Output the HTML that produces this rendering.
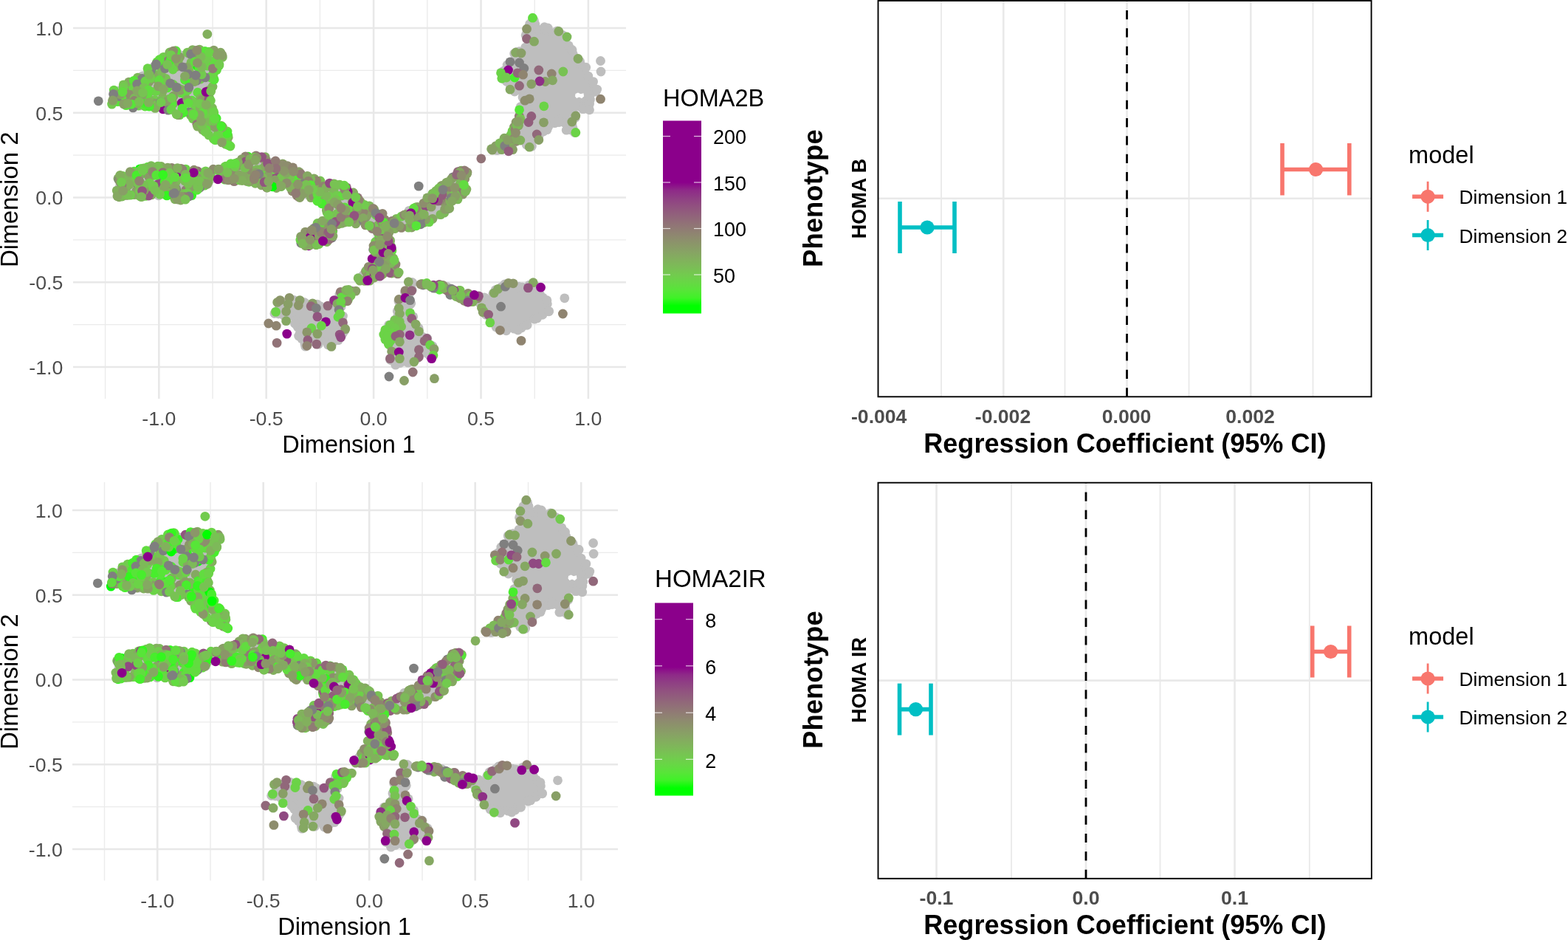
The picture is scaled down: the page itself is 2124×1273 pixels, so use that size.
<!DOCTYPE html>
<html lang="en"><head><meta charset="utf-8"><title>Figure</title>
<style>html,body{margin:0;padding:0;background:#fff}body{width:2124px;height:1273px;overflow:hidden}svg{display:block}</style>
</head><body>
<svg width="2124" height="1273" viewBox="0 0 2124 1273" font-family='"Liberation Sans", Arial, sans-serif'>
<defs>
<linearGradient id="g1" x1="0" y1="1" x2="0" y2="0"><stop offset="0" stop-color="#00FF00"/><stop offset="0.04" stop-color="#00FF00"/><stop offset="0.08" stop-color="#3FF227"/><stop offset="0.12" stop-color="#57E538"/><stop offset="0.16" stop-color="#66D844"/><stop offset="0.2" stop-color="#72CB4E"/><stop offset="0.24" stop-color="#7BBD56"/><stop offset="0.28" stop-color="#82B05D"/><stop offset="0.32" stop-color="#87A364"/><stop offset="0.36" stop-color="#8B9669"/><stop offset="0.4" stop-color="#8E896F"/><stop offset="0.44" stop-color="#907B74"/><stop offset="0.48" stop-color="#916D78"/><stop offset="0.52" stop-color="#915E7C"/><stop offset="0.56" stop-color="#914F80"/><stop offset="0.6" stop-color="#8F3E84"/><stop offset="0.64" stop-color="#8E2988"/><stop offset="0.68" stop-color="#8B008B"/><stop offset="1" stop-color="#8B008B"/></linearGradient>
<linearGradient id="g2" x1="0" y1="1" x2="0" y2="0"><stop offset="0" stop-color="#00FF00"/><stop offset="0.04" stop-color="#00FF00"/><stop offset="0.0792" stop-color="#3FF227"/><stop offset="0.1184" stop-color="#57E538"/><stop offset="0.1576" stop-color="#66D844"/><stop offset="0.1968" stop-color="#72CB4E"/><stop offset="0.2359" stop-color="#7BBD56"/><stop offset="0.2751" stop-color="#82B05D"/><stop offset="0.3143" stop-color="#87A364"/><stop offset="0.3535" stop-color="#8B9669"/><stop offset="0.3927" stop-color="#8E896F"/><stop offset="0.4319" stop-color="#907B74"/><stop offset="0.4711" stop-color="#916D78"/><stop offset="0.5102" stop-color="#915E7C"/><stop offset="0.5494" stop-color="#914F80"/><stop offset="0.5886" stop-color="#8F3E84"/><stop offset="0.6278" stop-color="#8E2988"/><stop offset="0.667" stop-color="#8B008B"/><stop offset="1" stop-color="#8B008B"/></linearGradient>
</defs>
<rect width="2124" height="1273" fill="#fff"/>
<g stroke="#EBEBEB" stroke-width="1.4" fill="none">
<line x1="142.6" y1="0" x2="142.6" y2="540"/>
<line x1="288" y1="0" x2="288" y2="540"/>
<line x1="433.4" y1="0" x2="433.4" y2="540"/>
<line x1="578.8" y1="0" x2="578.8" y2="540"/>
<line x1="724.2" y1="0" x2="724.2" y2="540"/>
<line x1="99.0" y1="95.4" x2="848" y2="95.4"/>
<line x1="99.0" y1="210.1" x2="848" y2="210.1"/>
<line x1="99.0" y1="324.9" x2="848" y2="324.9"/>
<line x1="99.0" y1="439.6" x2="848" y2="439.6"/>
</g>
<g stroke="#E8E8E8" stroke-width="2.6" fill="none">
<line x1="215.3" y1="0" x2="215.3" y2="540"/>
<line x1="360.7" y1="0" x2="360.7" y2="540"/>
<line x1="506.1" y1="0" x2="506.1" y2="540"/>
<line x1="651.5" y1="0" x2="651.5" y2="540"/>
<line x1="796.9" y1="0" x2="796.9" y2="540"/>
<line x1="99.0" y1="38" x2="848" y2="38"/>
<line x1="99.0" y1="152.75" x2="848" y2="152.75"/>
<line x1="99.0" y1="267.5" x2="848" y2="267.5"/>
<line x1="99.0" y1="382.25" x2="848" y2="382.25"/>
<line x1="99.0" y1="497" x2="848" y2="497"/>
</g>
<g>
<g fill="#BEBEBE">
<path d="M148.7 140.9L148.8 142.7L150.0 143.4L160.9 140.9L163.5 140.9L172.7 147.2L195.9 145.2L222.1 150.9L232.9 151.1L236.4 153.3L238.9 160.0L242.1 160.7L243.0 160.4L247.7 154.8L250.3 153.9L252.4 154.1L255.1 155.9L266.5 171.7L276.0 179.8L296.6 195.5L307.0 197.5L312.9 199.4L314.8 197.8L314.4 190.9L310.0 178.4L295.4 163.4L287.5 138.2L288.2 122.2L292.0 107.2L296.0 97.3L302.2 84.9L303.8 72.6L300.2 68.4L290.1 66.8L279.5 68.8L268.6 64.6L261.4 64.5L253.4 69.7L250.8 70.3L240.9 66.7L232.2 66.7L223.1 73.9L204.5 85.4L196.9 91.7L191.9 99.4L185.8 104.1L166.2 113.3L153.3 120.7Z"/>
<path d="M156.6 269.3L157.6 270.2L164.4 267.3L174.8 266.0L190.1 268.5L206.9 266.1L224.4 266.0L227.1 266.7L237.2 272.3L249.2 273.4L258.1 267.8L273.7 253.8L289.1 247.4L298.7 245.8L327.7 247.7L346.7 250.5L361.7 255.2L375.2 256.9L383.3 252.3L386.9 252.2L389.1 253.6L404.0 268.4L422.9 270.2L425.7 271.2L438.6 280.6L442.5 289.5L442.3 293.1L440.3 295.5L416.5 308.3L407.6 315.1L405.0 322.3L406.3 329.3L412.8 333.9L423.2 334.3L435.5 333.1L446.6 328.0L452.6 320.7L454.0 311.5L454.8 309.7L459.0 305.4L461.4 304.3L478.4 304.2L497.0 306.1L499.2 307.1L507.6 313.6L508.7 315.5L508.9 318.1L504.3 330.3L503.4 348.9L499.9 358.8L498.2 360.8L489.4 366.1L481.1 375.7L482.6 380.1L493.2 382.3L501.2 381.2L509.6 375.8L538.9 372.8L541.3 368.8L539.3 364.4L535.4 352.7L533.1 341.3L531.3 326.6L528.4 317.9L528.5 315.7L529.5 313.8L531.1 312.4L533.2 311.7L535.8 311.9L558.8 309.0L579.2 303.2L595.0 296.0L609.4 283.0L633.8 258.0L634.4 253.7L631.5 246.6L631.3 244.4L632.6 241.5L636.8 238.1L637.3 233.9L632.4 229.3L626.8 229.0L620.8 230.5L609.2 242.3L600.1 248.5L576.6 267.6L568.6 276.9L555.2 282.9L545.9 290.5L528.3 297.4L525.6 296.8L523.9 295.4L520.4 288.0L510.5 281.3L494.6 275.1L475.8 256.4L464.4 247.6L448.9 245.7L430.0 241.9L384.3 219.2L344.1 207.1L332.1 210.2L319.8 216.7L315.6 216.6L308.6 222.5L292.6 227.8L279.9 229.0L262.7 229.0L244.7 226.5L232.0 225.7L212.3 223.3L198.1 224.0L181.6 229.3L159.7 237.6L155.8 252.9Z"/>
<path d="M372.3 426.4L373.3 427.3L382.5 426.9L397.7 434.7L398.9 437.0L401.0 449.3L407.2 459.8L410.1 468.2L416.1 469.8L427.5 467.5L437.4 464.6L439.6 465.0L447.7 469.3L451.6 464.7L458.4 460.5L465.1 454.6L467.6 446.1L464.5 427.7L465.3 415.6L466.7 413.1L475.0 404.8L483.0 394.9L483.1 394.0L478.9 390.7L466.7 390.0L458.4 395.3L457.4 403.7L456.1 406.2L447.1 413.1L444.7 414.1L432.6 412.9L422.6 410.3L405.3 409.2L392.8 404.2L381.7 407.2L373.7 414.6L372.0 423.0Z"/>
<path d="M520.8 447.6L521.8 455.8L528.4 467.6L527.5 477.0L528.5 485.9L526.4 492.4L527.9 494.1L545.0 494.2L554.6 490.9L563.3 486.0L576.5 481.5L578.8 481.3L586.6 482.7L587.5 482.3L588.8 480.0L588.0 471.9L581.3 460.4L570.1 449.0L563.5 438.0L558.9 426.4L556.5 402.9L559.4 389.2L561.1 387.1L563.6 386.0L577.1 388.8L589.4 393.6L602.2 393.9L604.8 395.5L609.3 401.6L629.1 408.5L634.5 412.5L639.8 411.3L642.9 411.9L649.8 419.9L656.5 424.7L662.0 433.2L667.3 439.8L674.0 444.2L679.1 449.0L686.2 448.2L693.8 449.7L709.3 444.1L719.7 436.9L740.7 424.0L744.1 420.7L744.1 414.9L742.0 407.5L736.3 398.3L725.4 383.6L722.7 382.4L712.3 387.1L701.2 388.3L698.8 387.8L690.3 382.8L683.1 384.5L659.2 401.6L656.2 402.7L654.0 402.4L646.9 398.8L612.4 389.7L599.6 385.2L587.8 382.8L554.1 381.7L550.2 384.6L547.8 396.9L539.4 407.2L539.3 416.8L536.6 429.4L527.3 439.0Z"/>
<path d="M663.0 204.3L664.1 206.6L671.0 207.1L693.2 205.4L702.4 194.9L705.8 193.4L708.9 194.1L717.7 200.5L719.5 200.1L725.3 188.9L733.1 181.6L752.8 166.9L755.2 165.8L758.2 166.2L769.9 172.7L775.2 179.6L778.6 180.5L779.5 179.0L776.6 174.4L776.3 171.6L781.8 150.4L783.2 148.8L785.6 147.8L795.0 148.7L798.5 147.0L799.7 138.3L807.7 127.8L809.0 120.2L807.2 112.7L801.7 107.3L795.9 97.1L792.5 88.2L785.6 83.5L779.9 77.0L777.1 72.8L774.4 61.6L770.0 52.8L764.9 47.6L755.7 42.0L749.2 41.9L740.7 36.8L728.8 36.1L726.2 35.3L723.9 32.4L723.0 26.3L722.4 25.6L721.4 25.8L720.1 27.6L712.1 41.4L712.1 49.0L715.7 57.9L714.9 61.4L708.2 66.8L696.8 70.4L687.5 87.6L681.2 95.4L677.3 101.4L678.1 108.4L684.8 110.4L687.0 111.8L688.2 114.1L689.5 120.1L693.2 123.0L704.1 125.2L706.0 126.2L707.3 127.8L707.9 129.9L707.7 132.0L703.5 138.9L704.4 151.4L692.2 175.6L683.8 183.9L674.1 191.2L665.0 200.3Z"/>
<circle cx="189.6" cy="143.2" r="6.4"/>
<circle cx="193.3" cy="102.8" r="6.4"/>
<circle cx="214.9" cy="264.8" r="6.4"/>
<circle cx="281.4" cy="249.3" r="6.4"/>
<circle cx="554.1" cy="285.4" r="6.4"/>
<circle cx="377.4" cy="425.0" r="6.4"/>
<circle cx="390.1" cy="428.6" r="6.4"/>
<circle cx="400.9" cy="434.1" r="6.4"/>
<circle cx="403.2" cy="442.8" r="6.4"/>
<circle cx="406.5" cy="450.6" r="6.4"/>
<circle cx="408.8" cy="458.7" r="6.4"/>
<circle cx="412.9" cy="465.8" r="6.4"/>
<circle cx="416.0" cy="466.3" r="6.4"/>
<circle cx="429.0" cy="463.9" r="6.4"/>
<circle cx="434.0" cy="461.4" r="6.4"/>
<circle cx="447.8" cy="464.5" r="6.4"/>
<circle cx="451.3" cy="463.1" r="6.4"/>
<circle cx="456.9" cy="456.6" r="6.4"/>
<circle cx="464.3" cy="451.8" r="6.4"/>
<circle cx="466.3" cy="444.1" r="6.4"/>
<circle cx="463.1" cy="438.0" r="6.4"/>
<circle cx="461.3" cy="426.5" r="6.4"/>
<circle cx="462.1" cy="415.5" r="6.4"/>
<circle cx="459.8" cy="399.1" r="6.4"/>
<circle cx="450.1" cy="412.7" r="6.4"/>
<circle cx="437.3" cy="417.0" r="6.4"/>
<circle cx="433.7" cy="414.6" r="6.4"/>
<circle cx="425.8" cy="414.9" r="6.4"/>
<circle cx="413.0" cy="412.8" r="6.4"/>
<circle cx="402.1" cy="412.9" r="6.4"/>
<circle cx="392.6" cy="408.9" r="6.4"/>
<circle cx="389.2" cy="408.7" r="6.4"/>
<circle cx="380.5" cy="412.3" r="6.4"/>
<circle cx="378.5" cy="415.2" r="6.4"/>
<circle cx="373.1" cy="422.4" r="6.4"/>
<circle cx="384.7" cy="427.5" r="6.4"/>
<circle cx="399.5" cy="438.3" r="6.4"/>
<circle cx="404.6" cy="455.0" r="6.4"/>
<circle cx="413.7" cy="469.2" r="6.4"/>
<circle cx="431.3" cy="466.2" r="6.4"/>
<circle cx="444.3" cy="467.0" r="6.4"/>
<circle cx="458.3" cy="460.7" r="6.4"/>
<circle cx="466.9" cy="447.6" r="6.4"/>
<circle cx="464.5" cy="428.1" r="6.4"/>
<circle cx="448.9" cy="412.9" r="6.4"/>
<circle cx="429.6" cy="412.1" r="6.4"/>
<circle cx="412.6" cy="409.7" r="6.4"/>
<circle cx="397.8" cy="406.3" r="6.4"/>
<circle cx="378.8" cy="409.5" r="6.4"/>
<circle cx="371.9" cy="424.5" r="6.4"/>
<circle cx="522.8" cy="454.7" r="6.4"/>
<circle cx="530.7" cy="466.7" r="6.4"/>
<circle cx="530.8" cy="471.0" r="6.4"/>
<circle cx="532.1" cy="483.8" r="6.4"/>
<circle cx="531.7" cy="484.6" r="6.4"/>
<circle cx="534.5" cy="490.4" r="6.4"/>
<circle cx="542.0" cy="491.5" r="6.4"/>
<circle cx="547.8" cy="489.2" r="6.4"/>
<circle cx="556.0" cy="486.8" r="6.4"/>
<circle cx="563.6" cy="481.8" r="6.4"/>
<circle cx="578.1" cy="478.3" r="6.4"/>
<circle cx="583.8" cy="481.0" r="6.4"/>
<circle cx="584.7" cy="476.9" r="6.4"/>
<circle cx="582.6" cy="466.8" r="6.4"/>
<circle cx="578.1" cy="461.9" r="6.4"/>
<circle cx="572.2" cy="456.1" r="6.4"/>
<circle cx="567.5" cy="446.8" r="6.4"/>
<circle cx="561.8" cy="440.8" r="6.4"/>
<circle cx="557.8" cy="431.3" r="6.4"/>
<circle cx="555.6" cy="424.6" r="6.4"/>
<circle cx="555.5" cy="412.4" r="6.4"/>
<circle cx="553.6" cy="402.9" r="6.4"/>
<circle cx="555.1" cy="396.6" r="6.4"/>
<circle cx="555.7" cy="386.4" r="6.4"/>
<circle cx="660.0" cy="426.0" r="6.4"/>
<circle cx="665.9" cy="435.7" r="6.4"/>
<circle cx="671.2" cy="440.0" r="6.4"/>
<circle cx="680.0" cy="443.7" r="6.4"/>
<circle cx="687.1" cy="445.1" r="6.4"/>
<circle cx="696.5" cy="445.2" r="6.4"/>
<circle cx="706.3" cy="444.0" r="6.4"/>
<circle cx="710.3" cy="440.4" r="6.4"/>
<circle cx="724.3" cy="431.4" r="6.4"/>
<circle cx="724.0" cy="432.2" r="6.4"/>
<circle cx="734.9" cy="426.3" r="6.4"/>
<circle cx="740.9" cy="421.5" r="6.4"/>
<circle cx="741.3" cy="411.6" r="6.4"/>
<circle cx="735.4" cy="403.1" r="6.4"/>
<circle cx="731.2" cy="398.4" r="6.4"/>
<circle cx="725.8" cy="387.7" r="6.4"/>
<circle cx="720.9" cy="385.7" r="6.4"/>
<circle cx="707.6" cy="390.7" r="6.4"/>
<circle cx="707.3" cy="388.8" r="6.4"/>
<circle cx="699.2" cy="390.7" r="6.4"/>
<circle cx="686.4" cy="386.7" r="6.4"/>
<circle cx="679.4" cy="388.6" r="6.4"/>
<circle cx="673.1" cy="396.2" r="6.4"/>
<circle cx="667.8" cy="397.7" r="6.4"/>
<circle cx="657.9" cy="406.1" r="6.4"/>
<circle cx="605.4" cy="388.3" r="6.4"/>
<circle cx="558.8" cy="383.1" r="6.4"/>
<circle cx="554.4" cy="383.3" r="6.4"/>
<circle cx="552.6" cy="393.8" r="6.4"/>
<circle cx="547.2" cy="404.8" r="6.4"/>
<circle cx="544.1" cy="407.7" r="6.4"/>
<circle cx="542.4" cy="411.2" r="6.4"/>
<circle cx="538.5" cy="429.1" r="6.4"/>
<circle cx="534.6" cy="433.3" r="6.4"/>
<circle cx="527.5" cy="441.1" r="6.4"/>
<circle cx="522.0" cy="448.4" r="6.4"/>
<circle cx="521.2" cy="450.6" r="6.4"/>
<circle cx="528.8" cy="467.8" r="6.4"/>
<circle cx="528.6" cy="487.2" r="6.4"/>
<circle cx="535.8" cy="494.2" r="6.4"/>
<circle cx="552.9" cy="491.2" r="6.4"/>
<circle cx="565.5" cy="485.0" r="6.4"/>
<circle cx="582.0" cy="481.8" r="6.4"/>
<circle cx="585.9" cy="468.6" r="6.4"/>
<circle cx="578.8" cy="458.2" r="6.4"/>
<circle cx="566.9" cy="444.0" r="6.4"/>
<circle cx="559.7" cy="428.9" r="6.4"/>
<circle cx="556.8" cy="410.7" r="6.4"/>
<circle cx="558.4" cy="392.8" r="6.4"/>
<circle cx="658.3" cy="426.3" r="6.4"/>
<circle cx="672.0" cy="442.9" r="6.4"/>
<circle cx="685.8" cy="447.8" r="6.4"/>
<circle cx="701.6" cy="447.0" r="6.4"/>
<circle cx="714.1" cy="440.3" r="6.4"/>
<circle cx="727.6" cy="430.9" r="6.4"/>
<circle cx="743.5" cy="421.3" r="6.4"/>
<circle cx="740.9" cy="406.7" r="6.4"/>
<circle cx="729.3" cy="389.7" r="6.4"/>
<circle cx="716.9" cy="386.1" r="6.4"/>
<circle cx="702.5" cy="388.1" r="6.4"/>
<circle cx="683.7" cy="385.0" r="6.4"/>
<circle cx="671.1" cy="392.7" r="6.4"/>
<circle cx="656.1" cy="402.8" r="6.4"/>
<circle cx="558.3" cy="382.5" r="6.4"/>
<circle cx="548.4" cy="395.8" r="6.4"/>
<circle cx="539.9" cy="408.0" r="6.4"/>
<circle cx="538.3" cy="421.4" r="6.4"/>
<circle cx="526.7" cy="440.1" r="6.4"/>
<circle cx="673.3" cy="203.7" r="6.4"/>
<circle cx="713.1" cy="195.9" r="6.4"/>
<circle cx="719.5" cy="198.2" r="6.4"/>
<circle cx="721.3" cy="189.9" r="6.4"/>
<circle cx="726.6" cy="184.0" r="6.4"/>
<circle cx="736.2" cy="178.0" r="6.4"/>
<circle cx="742.7" cy="171.4" r="6.4"/>
<circle cx="751.4" cy="166.7" r="6.4"/>
<circle cx="756.6" cy="162.2" r="6.4"/>
<circle cx="764.7" cy="166.3" r="6.4"/>
<circle cx="772.2" cy="169.7" r="6.4"/>
<circle cx="778.3" cy="179.5" r="6.4"/>
<circle cx="774.9" cy="168.8" r="6.4"/>
<circle cx="774.7" cy="162.8" r="6.4"/>
<circle cx="778.6" cy="155.1" r="6.4"/>
<circle cx="787.1" cy="144.9" r="6.4"/>
<circle cx="795.9" cy="145.8" r="6.4"/>
<circle cx="797.6" cy="140.5" r="6.4"/>
<circle cx="799.5" cy="135.0" r="6.4"/>
<circle cx="807.2" cy="124.1" r="6.4"/>
<circle cx="805.1" cy="120.6" r="6.4"/>
<circle cx="802.2" cy="112.8" r="6.4"/>
<circle cx="796.8" cy="103.1" r="6.4"/>
<circle cx="792.0" cy="93.9" r="6.4"/>
<circle cx="786.0" cy="86.1" r="6.4"/>
<circle cx="778.5" cy="79.8" r="6.4"/>
<circle cx="776.5" cy="73.9" r="6.4"/>
<circle cx="774.1" cy="67.5" r="6.4"/>
<circle cx="770.3" cy="61.7" r="6.4"/>
<circle cx="761.8" cy="47.3" r="6.4"/>
<circle cx="756.8" cy="43.9" r="6.4"/>
<circle cx="749.8" cy="44.6" r="6.4"/>
<circle cx="739.0" cy="40.5" r="6.4"/>
<circle cx="729.7" cy="40.2" r="6.4"/>
<circle cx="721.4" cy="34.5" r="6.4"/>
<circle cx="720.4" cy="29.4" r="6.4"/>
<circle cx="715.3" cy="38.3" r="6.4"/>
<circle cx="713.9" cy="44.6" r="6.4"/>
<circle cx="714.2" cy="47.8" r="6.4"/>
<circle cx="716.9" cy="60.1" r="6.4"/>
<circle cx="712.5" cy="65.9" r="6.4"/>
<circle cx="703.5" cy="69.7" r="6.4"/>
<circle cx="696.6" cy="72.6" r="6.4"/>
<circle cx="693.4" cy="84.4" r="6.4"/>
<circle cx="688.9" cy="88.9" r="6.4"/>
<circle cx="682.9" cy="95.7" r="6.4"/>
<circle cx="680.6" cy="105.5" r="6.4"/>
<circle cx="682.7" cy="107.2" r="6.4"/>
<circle cx="691.2" cy="115.6" r="6.4"/>
<circle cx="697.1" cy="122.4" r="6.4"/>
<circle cx="703.0" cy="121.6" r="6.4"/>
<circle cx="710.2" cy="130.7" r="6.4"/>
<circle cx="709.2" cy="133.3" r="6.4"/>
<circle cx="705.2" cy="144.6" r="6.4"/>
<circle cx="720.4" cy="198.1" r="6.4"/>
<circle cx="730.0" cy="184.2" r="6.4"/>
<circle cx="741.1" cy="175.6" r="6.4"/>
<circle cx="757.2" cy="165.5" r="6.4"/>
<circle cx="773.7" cy="175.9" r="6.4"/>
<circle cx="776.2" cy="173.9" r="6.4"/>
<circle cx="779.2" cy="159.5" r="6.4"/>
<circle cx="789.8" cy="147.6" r="6.4"/>
<circle cx="798.6" cy="140.6" r="6.4"/>
<circle cx="808.7" cy="121.1" r="6.4"/>
<circle cx="803.6" cy="110.6" r="6.4"/>
<circle cx="793.7" cy="91.2" r="6.4"/>
<circle cx="785.4" cy="83.1" r="6.4"/>
<circle cx="775.0" cy="67.5" r="6.4"/>
<circle cx="766.4" cy="49.8" r="6.4"/>
<circle cx="754.9" cy="41.8" r="6.4"/>
<circle cx="737.5" cy="36.7" r="6.4"/>
<circle cx="723.3" cy="27.5" r="6.4"/>
<circle cx="717.4" cy="32.7" r="6.4"/>
<circle cx="712.1" cy="47.7" r="6.4"/>
<circle cx="711.8" cy="64.1" r="6.4"/>
<circle cx="699.7" cy="70.3" r="6.4"/>
<circle cx="687.1" cy="88.0" r="6.4"/>
<circle cx="679.3" cy="97.9" r="6.4"/>
<circle cx="686.1" cy="110.1" r="6.4"/>
<circle cx="697.1" cy="124.0" r="6.4"/>
<circle cx="708.0" cy="131.6" r="6.4"/>
<circle cx="704.4" cy="149.2" r="6.4"/>
<circle cx="813.5" cy="82.5" r="6.4"/>
<circle cx="814.0" cy="97.0" r="6.4"/>
<circle cx="798.5" cy="148.8" r="6.4"/>
<circle cx="767.2" cy="176.2" r="6.4"/>
<circle cx="724.8" cy="32.5" r="6.4"/>
<circle cx="742.2" cy="38.0" r="6.4"/>
<circle cx="764.8" cy="403.8" r="6.4"/>
<circle cx="743.5" cy="421.8" r="6.4"/>
</g>
<path fill="#fff" d="M779.5 127.0L783.0 125.6L786.5 127.2L790.5 126.2L791.0 130.5L788.0 133.2L784.5 131.6L781.0 133.0L779.0 130.5Z"/>
<circle cx="395.8" cy="258.8" r="6.4" fill="#8D8D6D"/>
<circle cx="626.3" cy="237.0" r="6.4" fill="#8B9669"/>
<circle cx="406.5" cy="234.3" r="6.4" fill="#917277"/>
<circle cx="613.6" cy="239.9" r="6.4" fill="#7F7F7F"/>
<circle cx="189.6" cy="228.8" r="6.4" fill="#00FF00"/>
<circle cx="228.5" cy="251.4" r="6.4" fill="#85A862"/>
<circle cx="201.0" cy="237.1" r="6.4" fill="#889F66"/>
<circle cx="463.8" cy="410.2" r="6.4" fill="#6BD347"/>
<circle cx="498.2" cy="289.6" r="6.4" fill="#889F66"/>
<circle cx="699.0" cy="171.3" r="6.4" fill="#8B008B"/>
<circle cx="345.8" cy="248.3" r="6.4" fill="#82B05D"/>
<circle cx="219.3" cy="260.4" r="6.4" fill="#8D8D6D"/>
<circle cx="477.1" cy="273.6" r="6.4" fill="#7DB959"/>
<circle cx="573.1" cy="386.0" r="6.4" fill="#7F7F7F"/>
<circle cx="195.2" cy="263.1" r="6.4" fill="#62DC40"/>
<circle cx="205.4" cy="102.1" r="6.4" fill="#7DB959"/>
<circle cx="404.9" cy="232.7" r="6.4" fill="#889F66"/>
<circle cx="217.6" cy="226.5" r="6.4" fill="#8B9669"/>
<circle cx="626.9" cy="263.1" r="6.4" fill="#8B9669"/>
<circle cx="209.7" cy="135.5" r="6.4" fill="#72CB4E"/>
<circle cx="694.5" cy="179.5" r="6.4" fill="#917277"/>
<circle cx="294.2" cy="229.8" r="6.4" fill="#72CB4E"/>
<circle cx="528.9" cy="352.2" r="6.4" fill="#8B008B"/>
<circle cx="585.9" cy="296.4" r="6.4" fill="#85A862"/>
<circle cx="250.3" cy="245.0" r="6.4" fill="#7DB959"/>
<circle cx="175.1" cy="236.4" r="6.4" fill="#72CB4E"/>
<circle cx="484.5" cy="267.7" r="6.4" fill="#917277"/>
<circle cx="283.1" cy="70.1" r="6.4" fill="#6BD347"/>
<circle cx="277.3" cy="247.9" r="6.4" fill="#82B05D"/>
<circle cx="524.0" cy="307.5" r="6.4" fill="#91547F"/>
<circle cx="285.2" cy="238.2" r="6.4" fill="#7DB959"/>
<circle cx="216.2" cy="117.0" r="6.4" fill="#72CB4E"/>
<circle cx="176.3" cy="243.9" r="6.4" fill="#889F66"/>
<circle cx="276.4" cy="144.1" r="6.4" fill="#7F7F7F"/>
<circle cx="256.3" cy="112.3" r="6.4" fill="#8B008B"/>
<circle cx="418.2" cy="332.8" r="6.4" fill="#8B008B"/>
<circle cx="533.8" cy="309.1" r="6.4" fill="#91547F"/>
<circle cx="536.9" cy="296.4" r="6.4" fill="#7DB959"/>
<circle cx="297.6" cy="75.3" r="6.4" fill="#78C253"/>
<circle cx="508.6" cy="327.5" r="6.4" fill="#72CB4E"/>
<circle cx="234.7" cy="140.3" r="6.4" fill="#85A862"/>
<circle cx="516.2" cy="307.4" r="6.4" fill="#85A862"/>
<circle cx="590.5" cy="390.1" r="6.4" fill="#8F8470"/>
<circle cx="351.4" cy="233.3" r="6.4" fill="#889F66"/>
<circle cx="690.1" cy="194.6" r="6.4" fill="#82B05D"/>
<circle cx="212.6" cy="86.2" r="6.4" fill="#78C253"/>
<circle cx="173.0" cy="250.0" r="6.4" fill="#82B05D"/>
<circle cx="282.9" cy="158.4" r="6.4" fill="#72CB4E"/>
<circle cx="402.1" cy="264.6" r="6.4" fill="#8F8470"/>
<circle cx="232.6" cy="227.3" r="6.4" fill="#8F8470"/>
<circle cx="404.9" cy="266.7" r="6.4" fill="#91687A"/>
<circle cx="624.8" cy="231.2" r="6.4" fill="#7DB959"/>
<circle cx="312.7" cy="233.6" r="6.4" fill="#7DB959"/>
<circle cx="535.1" cy="309.5" r="6.4" fill="#82B05D"/>
<circle cx="563.0" cy="281.0" r="6.4" fill="#62DC40"/>
<circle cx="600.2" cy="386.5" r="6.4" fill="#8D8D6D"/>
<circle cx="197.1" cy="265.4" r="6.4" fill="#6BD347"/>
<circle cx="189.0" cy="265.3" r="6.4" fill="#6BD347"/>
<circle cx="190.8" cy="231.6" r="6.4" fill="#78C253"/>
<circle cx="263.6" cy="256.7" r="6.4" fill="#85A862"/>
<circle cx="203.6" cy="123.7" r="6.4" fill="#78C253"/>
<circle cx="565.4" cy="280.3" r="6.4" fill="#85A862"/>
<circle cx="531.3" cy="363.1" r="6.4" fill="#917277"/>
<circle cx="472.0" cy="260.6" r="6.4" fill="#91547F"/>
<circle cx="472.3" cy="398.7" r="6.4" fill="#78C253"/>
<circle cx="336.0" cy="212.2" r="6.4" fill="#34F61F"/>
<circle cx="211.0" cy="106.7" r="6.4" fill="#889F66"/>
<circle cx="425.2" cy="310.4" r="6.4" fill="#8B008B"/>
<circle cx="181.7" cy="232.2" r="6.4" fill="#57E538"/>
<circle cx="274.4" cy="175.7" r="6.4" fill="#85A862"/>
<circle cx="593.9" cy="386.2" r="6.4" fill="#889F66"/>
<circle cx="291.8" cy="161.1" r="6.4" fill="#72CB4E"/>
<circle cx="218.4" cy="225.5" r="6.4" fill="#82B05D"/>
<circle cx="218.8" cy="85.4" r="6.4" fill="#7DB959"/>
<circle cx="600.8" cy="391.3" r="6.4" fill="#7DB959"/>
<circle cx="323.2" cy="224.3" r="6.4" fill="#8B9669"/>
<circle cx="283.9" cy="133.6" r="6.4" fill="#6BD347"/>
<circle cx="509.7" cy="344.7" r="6.4" fill="#85A862"/>
<circle cx="480.6" cy="267.0" r="6.4" fill="#907B74"/>
<circle cx="382.1" cy="247.6" r="6.4" fill="#915E7C"/>
<circle cx="627.8" cy="234.9" r="6.4" fill="#889F66"/>
<circle cx="360.2" cy="238.8" r="6.4" fill="#34F61F"/>
<circle cx="484.5" cy="272.7" r="6.4" fill="#889F66"/>
<circle cx="334.4" cy="245.5" r="6.4" fill="#889F66"/>
<circle cx="273.8" cy="90.2" r="6.4" fill="#8D8D6D"/>
<circle cx="266.4" cy="83.4" r="6.4" fill="#8B008B"/>
<circle cx="200.5" cy="259.6" r="6.4" fill="#34F61F"/>
<circle cx="275.4" cy="76.1" r="6.4" fill="#85A862"/>
<circle cx="208.8" cy="140.0" r="6.4" fill="#889F66"/>
<circle cx="688.3" cy="197.1" r="6.4" fill="#8B9669"/>
<circle cx="225.3" cy="252.8" r="6.4" fill="#7DB959"/>
<circle cx="347.2" cy="247.4" r="6.4" fill="#7DB959"/>
<circle cx="317.2" cy="245.7" r="6.4" fill="#907B74"/>
<circle cx="226.6" cy="118.9" r="6.4" fill="#57E538"/>
<circle cx="450.7" cy="271.7" r="6.4" fill="#7F7F7F"/>
<circle cx="471.6" cy="405.6" r="6.4" fill="#72CB4E"/>
<circle cx="521.1" cy="297.3" r="6.4" fill="#8F8470"/>
<circle cx="311.1" cy="233.7" r="6.4" fill="#915E7C"/>
<circle cx="530.6" cy="370.0" r="6.4" fill="#82B05D"/>
<circle cx="602.4" cy="389.9" r="6.4" fill="#8D8D6D"/>
<circle cx="468.4" cy="401.8" r="6.4" fill="#6BD347"/>
<circle cx="442.3" cy="284.8" r="6.4" fill="#889F66"/>
<circle cx="543.5" cy="293.2" r="6.4" fill="#72CB4E"/>
<circle cx="187.2" cy="252.0" r="6.4" fill="#8F3E84"/>
<circle cx="376.9" cy="227.6" r="6.4" fill="#907B74"/>
<circle cx="251.9" cy="257.2" r="6.4" fill="#907B74"/>
<circle cx="432.6" cy="257.7" r="6.4" fill="#85A862"/>
<circle cx="522.8" cy="334.4" r="6.4" fill="#82B05D"/>
<circle cx="267.8" cy="232.0" r="6.4" fill="#917277"/>
<circle cx="491.6" cy="284.9" r="6.4" fill="#889F66"/>
<circle cx="236.4" cy="91.1" r="6.4" fill="#6BD347"/>
<circle cx="406.1" cy="267.5" r="6.4" fill="#889F66"/>
<circle cx="269.6" cy="76.8" r="6.4" fill="#8B9669"/>
<circle cx="243.4" cy="155.6" r="6.4" fill="#6BD347"/>
<circle cx="281.0" cy="153.0" r="6.4" fill="#7DB959"/>
<circle cx="198.3" cy="113.1" r="6.4" fill="#6BD347"/>
<circle cx="265.5" cy="240.3" r="6.4" fill="#8F8470"/>
<circle cx="502.5" cy="376.6" r="6.4" fill="#85A862"/>
<circle cx="271.3" cy="107.2" r="6.4" fill="#72CB4E"/>
<circle cx="210.1" cy="146.4" r="6.4" fill="#7DB959"/>
<circle cx="298.8" cy="71.2" r="6.4" fill="#85A862"/>
<circle cx="207.7" cy="237.3" r="6.4" fill="#48ED2D"/>
<circle cx="335.8" cy="217.6" r="6.4" fill="#82B05D"/>
<circle cx="223.9" cy="107.9" r="6.4" fill="#7F7F7F"/>
<circle cx="629.6" cy="242.2" r="6.4" fill="#8F8470"/>
<circle cx="482.0" cy="302.9" r="6.4" fill="#85A862"/>
<circle cx="305.2" cy="186.5" r="6.4" fill="#82B05D"/>
<circle cx="685.2" cy="196.8" r="6.4" fill="#6BD347"/>
<circle cx="280.5" cy="157.4" r="6.4" fill="#78C253"/>
<circle cx="366.4" cy="234.1" r="6.4" fill="#8D8D6D"/>
<circle cx="622.1" cy="253.0" r="6.4" fill="#915E7C"/>
<circle cx="285.8" cy="103.8" r="6.4" fill="#57E538"/>
<circle cx="421.0" cy="316.9" r="6.4" fill="#917277"/>
<circle cx="445.7" cy="289.7" r="6.4" fill="#85A862"/>
<circle cx="346.8" cy="210.8" r="6.4" fill="#907B74"/>
<circle cx="530.9" cy="339.4" r="6.4" fill="#62DC40"/>
<circle cx="247.8" cy="237.5" r="6.4" fill="#8B9669"/>
<circle cx="411.4" cy="247.0" r="6.4" fill="#85A862"/>
<circle cx="518.8" cy="370.7" r="6.4" fill="#889F66"/>
<circle cx="233.9" cy="264.8" r="6.4" fill="#82B05D"/>
<circle cx="620.9" cy="402.5" r="6.4" fill="#85A862"/>
<circle cx="355.2" cy="214.3" r="6.4" fill="#8F8470"/>
<circle cx="250.5" cy="108.3" r="6.4" fill="#57E538"/>
<circle cx="226.7" cy="76.7" r="6.4" fill="#62DC40"/>
<circle cx="288.5" cy="103.2" r="6.4" fill="#889F66"/>
<circle cx="470.2" cy="284.1" r="6.4" fill="#6BD347"/>
<circle cx="388.0" cy="227.7" r="6.4" fill="#8F8470"/>
<circle cx="596.8" cy="290.6" r="6.4" fill="#7DB959"/>
<circle cx="253.6" cy="236.5" r="6.4" fill="#48ED2D"/>
<circle cx="449.5" cy="291.8" r="6.4" fill="#57E538"/>
<circle cx="535.5" cy="358.2" r="6.4" fill="#72CB4E"/>
<circle cx="304.6" cy="243.2" r="6.4" fill="#48ED2D"/>
<circle cx="627.6" cy="404.7" r="6.4" fill="#72CB4E"/>
<circle cx="340.2" cy="218.0" r="6.4" fill="#82B05D"/>
<circle cx="594.6" cy="269.6" r="6.4" fill="#85A862"/>
<circle cx="269.5" cy="142.4" r="6.4" fill="#6BD347"/>
<circle cx="229.6" cy="263.2" r="6.4" fill="#72CB4E"/>
<circle cx="426.5" cy="258.5" r="6.4" fill="#8D8D6D"/>
<circle cx="282.2" cy="155.7" r="6.4" fill="#72CB4E"/>
<circle cx="607.3" cy="259.7" r="6.4" fill="#85A862"/>
<circle cx="468.1" cy="297.5" r="6.4" fill="#72CB4E"/>
<circle cx="647.3" cy="404.0" r="6.4" fill="#8F8470"/>
<circle cx="515.0" cy="307.4" r="6.4" fill="#85A862"/>
<circle cx="186.5" cy="105.1" r="6.4" fill="#7DB959"/>
<circle cx="176.5" cy="129.5" r="6.4" fill="#7DB959"/>
<circle cx="237.1" cy="117.7" r="6.4" fill="#889F66"/>
<circle cx="246.3" cy="121.5" r="6.4" fill="#7DB959"/>
<circle cx="429.7" cy="251.4" r="6.4" fill="#7F7F7F"/>
<circle cx="374.8" cy="246.0" r="6.4" fill="#889F66"/>
<circle cx="207.2" cy="257.9" r="6.4" fill="#6BD347"/>
<circle cx="234.6" cy="114.5" r="6.4" fill="#72CB4E"/>
<circle cx="632.9" cy="233.3" r="6.4" fill="#8F8470"/>
<circle cx="276.4" cy="236.2" r="6.4" fill="#917277"/>
<circle cx="510.9" cy="369.2" r="6.4" fill="#8B9669"/>
<circle cx="449.8" cy="321.9" r="6.4" fill="#7F7F7F"/>
<circle cx="306.0" cy="191.5" r="6.4" fill="#82B05D"/>
<circle cx="221.4" cy="77.3" r="6.4" fill="#72CB4E"/>
<circle cx="213.7" cy="101.8" r="6.4" fill="#85A862"/>
<circle cx="395.7" cy="244.8" r="6.4" fill="#82B05D"/>
<circle cx="432.1" cy="330.5" r="6.4" fill="#72CB4E"/>
<circle cx="173.3" cy="241.5" r="6.4" fill="#91547F"/>
<circle cx="190.2" cy="135.1" r="6.4" fill="#78C253"/>
<circle cx="232.8" cy="140.8" r="6.4" fill="#57E538"/>
<circle cx="455.4" cy="300.1" r="6.4" fill="#8B9669"/>
<circle cx="514.7" cy="326.9" r="6.4" fill="#78C253"/>
<circle cx="354.4" cy="234.0" r="6.4" fill="#7DB959"/>
<circle cx="443.1" cy="284.5" r="6.4" fill="#7DB959"/>
<circle cx="213.8" cy="225.1" r="6.4" fill="#78C253"/>
<circle cx="557.7" cy="308.0" r="6.4" fill="#889F66"/>
<circle cx="197.4" cy="120.2" r="6.4" fill="#57E538"/>
<circle cx="271.6" cy="150.2" r="6.4" fill="#85A862"/>
<circle cx="178.9" cy="238.2" r="6.4" fill="#82B05D"/>
<circle cx="255.9" cy="92.2" r="6.4" fill="#6BD347"/>
<circle cx="220.3" cy="132.6" r="6.4" fill="#78C253"/>
<circle cx="241.5" cy="232.8" r="6.4" fill="#8B9669"/>
<circle cx="382.9" cy="221.8" r="6.4" fill="#85A862"/>
<circle cx="623.4" cy="231.9" r="6.4" fill="#8D8D6D"/>
<circle cx="585.2" cy="274.6" r="6.4" fill="#85A862"/>
<circle cx="597.6" cy="252.0" r="6.4" fill="#85A862"/>
<circle cx="289.2" cy="187.9" r="6.4" fill="#72CB4E"/>
<circle cx="419.8" cy="331.9" r="6.4" fill="#82B05D"/>
<circle cx="337.3" cy="246.3" r="6.4" fill="#72CB4E"/>
<circle cx="692.3" cy="182.3" r="6.4" fill="#72CB4E"/>
<circle cx="289.2" cy="165.8" r="6.4" fill="#72CB4E"/>
<circle cx="359.2" cy="212.6" r="6.4" fill="#82B05D"/>
<circle cx="570.7" cy="283.8" r="6.4" fill="#82B05D"/>
<circle cx="438.8" cy="305.4" r="6.4" fill="#8D8D6D"/>
<circle cx="359.3" cy="251.4" r="6.4" fill="#85A862"/>
<circle cx="593.2" cy="262.8" r="6.4" fill="#7F7F7F"/>
<circle cx="524.4" cy="336.6" r="6.4" fill="#7F7F7F"/>
<circle cx="665.6" cy="201.7" r="6.4" fill="#85A862"/>
<circle cx="191.7" cy="263.3" r="6.4" fill="#8D8D6D"/>
<circle cx="390.4" cy="247.3" r="6.4" fill="#7DB959"/>
<circle cx="553.3" cy="308.2" r="6.4" fill="#7DB959"/>
<circle cx="445.8" cy="281.6" r="6.4" fill="#6BD347"/>
<circle cx="394.8" cy="228.4" r="6.4" fill="#7DB959"/>
<circle cx="429.5" cy="323.5" r="6.4" fill="#8F8470"/>
<circle cx="361.2" cy="233.0" r="6.4" fill="#82B05D"/>
<circle cx="172.3" cy="115.0" r="6.4" fill="#57E538"/>
<circle cx="393.3" cy="248.2" r="6.4" fill="#62DC40"/>
<circle cx="528.2" cy="327.2" r="6.4" fill="#8F8470"/>
<circle cx="495.9" cy="293.7" r="6.4" fill="#889F66"/>
<circle cx="242.5" cy="78.1" r="6.4" fill="#34F61F"/>
<circle cx="576.8" cy="279.4" r="6.4" fill="#904982"/>
<circle cx="470.5" cy="287.9" r="6.4" fill="#82B05D"/>
<circle cx="201.5" cy="134.5" r="6.4" fill="#7DB959"/>
<circle cx="307.8" cy="194.2" r="6.4" fill="#6BD347"/>
<circle cx="212.7" cy="84.0" r="6.4" fill="#6BD347"/>
<circle cx="420.6" cy="254.1" r="6.4" fill="#7DB959"/>
<circle cx="359.9" cy="216.2" r="6.4" fill="#8D8D6D"/>
<circle cx="333.7" cy="215.5" r="6.4" fill="#78C253"/>
<circle cx="494.0" cy="380.4" r="6.4" fill="#889F66"/>
<circle cx="247.0" cy="262.5" r="6.4" fill="#7DB959"/>
<circle cx="632.7" cy="235.1" r="6.4" fill="#889F66"/>
<circle cx="573.6" cy="301.7" r="6.4" fill="#72CB4E"/>
<circle cx="444.3" cy="300.5" r="6.4" fill="#907B74"/>
<circle cx="222.2" cy="106.6" r="6.4" fill="#82B05D"/>
<circle cx="187.2" cy="143.0" r="6.4" fill="#6BD347"/>
<circle cx="574.0" cy="275.1" r="6.4" fill="#8D8D6D"/>
<circle cx="345.6" cy="231.8" r="6.4" fill="#889F66"/>
<circle cx="286.1" cy="85.4" r="6.4" fill="#889F66"/>
<circle cx="466.7" cy="290.5" r="6.4" fill="#82B05D"/>
<circle cx="703.3" cy="157.3" r="6.4" fill="#907B74"/>
<circle cx="340.2" cy="241.3" r="6.4" fill="#72CB4E"/>
<circle cx="257.6" cy="153.2" r="6.4" fill="#62DC40"/>
<circle cx="520.0" cy="331.7" r="6.4" fill="#6BD347"/>
<circle cx="213.6" cy="255.8" r="6.4" fill="#62DC40"/>
<circle cx="243.6" cy="77.3" r="6.4" fill="#889F66"/>
<circle cx="506.7" cy="283.6" r="6.4" fill="#82B05D"/>
<circle cx="470.1" cy="400.0" r="6.4" fill="#78C253"/>
<circle cx="227.1" cy="227.1" r="6.4" fill="#85A862"/>
<circle cx="562.1" cy="295.3" r="6.4" fill="#7F7F7F"/>
<circle cx="218.2" cy="242.6" r="6.4" fill="#7F7F7F"/>
<circle cx="262.4" cy="139.1" r="6.4" fill="#57E538"/>
<circle cx="688.5" cy="186.6" r="6.4" fill="#78C253"/>
<circle cx="476.6" cy="394.5" r="6.4" fill="#8F3E84"/>
<circle cx="513.6" cy="294.6" r="6.4" fill="#82B05D"/>
<circle cx="683.0" cy="187.2" r="6.4" fill="#85A862"/>
<circle cx="222.5" cy="106.8" r="6.4" fill="#62DC40"/>
<circle cx="407.6" cy="320.3" r="6.4" fill="#889F66"/>
<circle cx="279.5" cy="143.8" r="6.4" fill="#72CB4E"/>
<circle cx="152.8" cy="136.4" r="6.4" fill="#85A862"/>
<circle cx="263.9" cy="148.2" r="6.4" fill="#6BD347"/>
<circle cx="221.5" cy="118.7" r="6.4" fill="#6BD347"/>
<circle cx="609.8" cy="399.3" r="6.4" fill="#7F7F7F"/>
<circle cx="261.2" cy="245.8" r="6.4" fill="#62DC40"/>
<circle cx="217.1" cy="253.6" r="6.4" fill="#85A862"/>
<circle cx="443.0" cy="287.8" r="6.4" fill="#78C253"/>
<circle cx="166.3" cy="252.8" r="6.4" fill="#78C253"/>
<circle cx="217.0" cy="258.9" r="6.4" fill="#82B05D"/>
<circle cx="281.2" cy="89.2" r="6.4" fill="#6BD347"/>
<circle cx="198.8" cy="262.4" r="6.4" fill="#85A862"/>
<circle cx="247.0" cy="237.5" r="6.4" fill="#57E538"/>
<circle cx="523.3" cy="356.6" r="6.4" fill="#85A862"/>
<circle cx="249.8" cy="137.9" r="6.4" fill="#57E538"/>
<circle cx="288.0" cy="117.2" r="6.4" fill="#7DB959"/>
<circle cx="282.1" cy="246.8" r="6.4" fill="#82B05D"/>
<circle cx="601.7" cy="288.2" r="6.4" fill="#7DB959"/>
<circle cx="638.1" cy="408.3" r="6.4" fill="#889F66"/>
<circle cx="263.1" cy="243.8" r="6.4" fill="#85A862"/>
<circle cx="411.6" cy="248.5" r="6.4" fill="#7F7F7F"/>
<circle cx="308.0" cy="178.0" r="6.4" fill="#6BD347"/>
<circle cx="428.1" cy="331.5" r="6.4" fill="#8F8470"/>
<circle cx="619.6" cy="257.5" r="6.4" fill="#907B74"/>
<circle cx="205.8" cy="93.7" r="6.4" fill="#57E538"/>
<circle cx="225.7" cy="262.6" r="6.4" fill="#82B05D"/>
<circle cx="271.3" cy="146.3" r="6.4" fill="#82B05D"/>
<circle cx="505.6" cy="337.9" r="6.4" fill="#7F7F7F"/>
<circle cx="425.9" cy="308.9" r="6.4" fill="#7F7F7F"/>
<circle cx="452.0" cy="257.3" r="6.4" fill="#7DB959"/>
<circle cx="189.4" cy="112.5" r="6.4" fill="#6BD347"/>
<circle cx="421.3" cy="321.1" r="6.4" fill="#8B008B"/>
<circle cx="514.4" cy="330.7" r="6.4" fill="#8D8D6D"/>
<circle cx="180.2" cy="145.9" r="6.4" fill="#7F7F7F"/>
<circle cx="338.5" cy="245.1" r="6.4" fill="#8B9669"/>
<circle cx="195.0" cy="254.2" r="6.4" fill="#48ED2D"/>
<circle cx="628.2" cy="241.6" r="6.4" fill="#889F66"/>
<circle cx="586.0" cy="262.1" r="6.4" fill="#7DB959"/>
<circle cx="492.1" cy="286.3" r="6.4" fill="#8F8470"/>
<circle cx="515.9" cy="314.3" r="6.4" fill="#72CB4E"/>
<circle cx="174.6" cy="111.1" r="6.4" fill="#85A862"/>
<circle cx="524.4" cy="351.1" r="6.4" fill="#91687A"/>
<circle cx="257.0" cy="111.9" r="6.4" fill="#48ED2D"/>
<circle cx="438.2" cy="252.3" r="6.4" fill="#91687A"/>
<circle cx="514.8" cy="325.7" r="6.4" fill="#78C253"/>
<circle cx="238.7" cy="255.9" r="6.4" fill="#7F7F7F"/>
<circle cx="528.1" cy="369.5" r="6.4" fill="#915E7C"/>
<circle cx="514.7" cy="326.3" r="6.4" fill="#8B9669"/>
<circle cx="342.0" cy="231.0" r="6.4" fill="#78C253"/>
<circle cx="301.3" cy="77.4" r="6.4" fill="#7DB959"/>
<circle cx="275.7" cy="239.6" r="6.4" fill="#889F66"/>
<circle cx="224.5" cy="106.3" r="6.4" fill="#78C253"/>
<circle cx="261.3" cy="160.6" r="6.4" fill="#72CB4E"/>
<circle cx="230.3" cy="242.1" r="6.4" fill="#78C253"/>
<circle cx="309.2" cy="185.9" r="6.4" fill="#85A862"/>
<circle cx="199.7" cy="226.5" r="6.4" fill="#62DC40"/>
<circle cx="547.6" cy="291.1" r="6.4" fill="#8F8470"/>
<circle cx="617.8" cy="401.5" r="6.4" fill="#7DB959"/>
<circle cx="266.6" cy="89.5" r="6.4" fill="#57E538"/>
<circle cx="592.4" cy="267.2" r="6.4" fill="#8F8470"/>
<circle cx="336.4" cy="244.8" r="6.4" fill="#85A862"/>
<circle cx="376.5" cy="245.2" r="6.4" fill="#8B9669"/>
<circle cx="237.0" cy="269.8" r="6.4" fill="#82B05D"/>
<circle cx="268.1" cy="165.9" r="6.4" fill="#6BD347"/>
<circle cx="495.5" cy="367.3" r="6.4" fill="#889F66"/>
<circle cx="382.8" cy="222.9" r="6.4" fill="#8D8D6D"/>
<circle cx="574.3" cy="296.1" r="6.4" fill="#8D8D6D"/>
<circle cx="500.3" cy="278.8" r="6.4" fill="#7DB959"/>
<circle cx="448.7" cy="294.8" r="6.4" fill="#889F66"/>
<circle cx="482.0" cy="394.1" r="6.4" fill="#889F66"/>
<circle cx="300.3" cy="232.4" r="6.4" fill="#85A862"/>
<circle cx="516.5" cy="306.9" r="6.4" fill="#7F7F7F"/>
<circle cx="574.8" cy="300.0" r="6.4" fill="#8F8470"/>
<circle cx="287.5" cy="146.2" r="6.4" fill="#7DB959"/>
<circle cx="699.5" cy="191.3" r="6.4" fill="#8D8D6D"/>
<circle cx="485.4" cy="287.9" r="6.4" fill="#91547F"/>
<circle cx="372.3" cy="233.3" r="6.4" fill="#91547F"/>
<circle cx="172.1" cy="242.5" r="6.4" fill="#889F66"/>
<circle cx="201.8" cy="110.9" r="6.4" fill="#889F66"/>
<circle cx="381.2" cy="240.4" r="6.4" fill="#72CB4E"/>
<circle cx="369.0" cy="229.6" r="6.4" fill="#72CB4E"/>
<circle cx="671.7" cy="197.6" r="6.4" fill="#889F66"/>
<circle cx="452.3" cy="248.9" r="6.4" fill="#889F66"/>
<circle cx="608.3" cy="272.8" r="6.4" fill="#8D8D6D"/>
<circle cx="282.8" cy="182.9" r="6.4" fill="#72CB4E"/>
<circle cx="170.9" cy="142.6" r="6.4" fill="#57E538"/>
<circle cx="424.8" cy="266.5" r="6.4" fill="#7F7F7F"/>
<circle cx="354.6" cy="212.6" r="6.4" fill="#91547F"/>
<circle cx="266.8" cy="168.3" r="6.4" fill="#917277"/>
<circle cx="217.1" cy="84.7" r="6.4" fill="#907B74"/>
<circle cx="513.6" cy="320.9" r="6.4" fill="#8B9669"/>
<circle cx="497.1" cy="365.7" r="6.4" fill="#7DB959"/>
<circle cx="220.8" cy="147.8" r="6.4" fill="#8B008B"/>
<circle cx="430.0" cy="302.5" r="6.4" fill="#78C253"/>
<circle cx="308.8" cy="183.6" r="6.4" fill="#6BD347"/>
<circle cx="214.5" cy="249.3" r="6.4" fill="#904982"/>
<circle cx="202.1" cy="226.6" r="6.4" fill="#48ED2D"/>
<circle cx="423.8" cy="252.9" r="6.4" fill="#72CB4E"/>
<circle cx="598.8" cy="251.5" r="6.4" fill="#889F66"/>
<circle cx="489.2" cy="294.8" r="6.4" fill="#85A862"/>
<circle cx="600.2" cy="272.6" r="6.4" fill="#8B9669"/>
<circle cx="633.7" cy="403.1" r="6.4" fill="#82B05D"/>
<circle cx="201.0" cy="99.7" r="6.4" fill="#78C253"/>
<circle cx="205.2" cy="263.9" r="6.4" fill="#82B05D"/>
<circle cx="267.8" cy="125.2" r="6.4" fill="#62DC40"/>
<circle cx="332.6" cy="211.9" r="6.4" fill="#8F8470"/>
<circle cx="170.7" cy="254.8" r="6.4" fill="#85A862"/>
<circle cx="289.6" cy="68.1" r="6.4" fill="#889F66"/>
<circle cx="194.6" cy="234.4" r="6.4" fill="#34F61F"/>
<circle cx="462.1" cy="265.2" r="6.4" fill="#85A862"/>
<circle cx="354.1" cy="250.8" r="6.4" fill="#85A862"/>
<circle cx="226.2" cy="233.2" r="6.4" fill="#85A862"/>
<circle cx="255.2" cy="238.0" r="6.4" fill="#85A862"/>
<circle cx="444.2" cy="285.7" r="6.4" fill="#889F66"/>
<circle cx="294.4" cy="170.7" r="6.4" fill="#82B05D"/>
<circle cx="204.4" cy="96.0" r="6.4" fill="#7F7F7F"/>
<circle cx="161.3" cy="266.8" r="6.4" fill="#85A862"/>
<circle cx="253.5" cy="233.1" r="6.4" fill="#78C253"/>
<circle cx="435.8" cy="270.9" r="6.4" fill="#91547F"/>
<circle cx="470.8" cy="297.6" r="6.4" fill="#889F66"/>
<circle cx="259.7" cy="264.6" r="6.4" fill="#34F61F"/>
<circle cx="512.1" cy="305.2" r="6.4" fill="#82B05D"/>
<circle cx="409.0" cy="255.8" r="6.4" fill="#72CB4E"/>
<circle cx="362.7" cy="236.6" r="6.4" fill="#889F66"/>
<circle cx="595.8" cy="270.9" r="6.4" fill="#91687A"/>
<circle cx="425.4" cy="241.8" r="6.4" fill="#85A862"/>
<circle cx="366.5" cy="249.2" r="6.4" fill="#48ED2D"/>
<circle cx="587.3" cy="264.0" r="6.4" fill="#7DB959"/>
<circle cx="413.6" cy="314.1" r="6.4" fill="#8B9669"/>
<circle cx="529.7" cy="333.6" r="6.4" fill="#7DB959"/>
<circle cx="427.2" cy="311.8" r="6.4" fill="#8B008B"/>
<circle cx="484.3" cy="275.0" r="6.4" fill="#72CB4E"/>
<circle cx="339.1" cy="235.6" r="6.4" fill="#8D8D6D"/>
<circle cx="305.7" cy="194.9" r="6.4" fill="#78C253"/>
<circle cx="604.6" cy="247.4" r="6.4" fill="#85A862"/>
<circle cx="354.3" cy="229.2" r="6.4" fill="#6BD347"/>
<circle cx="267.5" cy="171.1" r="6.4" fill="#82B05D"/>
<circle cx="277.1" cy="251.2" r="6.4" fill="#6BD347"/>
<circle cx="498.9" cy="379.3" r="6.4" fill="#8B008B"/>
<circle cx="442.9" cy="281.9" r="6.4" fill="#7DB959"/>
<circle cx="333.1" cy="238.5" r="6.4" fill="#907B74"/>
<circle cx="270.7" cy="254.2" r="6.4" fill="#7F7F7F"/>
<circle cx="519.7" cy="360.2" r="6.4" fill="#7DB959"/>
<circle cx="413.1" cy="255.9" r="6.4" fill="#82B05D"/>
<circle cx="274.5" cy="152.5" r="6.4" fill="#62DC40"/>
<circle cx="536.0" cy="358.0" r="6.4" fill="#8F8470"/>
<circle cx="358.7" cy="225.6" r="6.4" fill="#85A862"/>
<circle cx="436.4" cy="300.4" r="6.4" fill="#85A862"/>
<circle cx="268.8" cy="238.3" r="6.4" fill="#62DC40"/>
<circle cx="469.9" cy="401.2" r="6.4" fill="#57E538"/>
<circle cx="450.8" cy="313.1" r="6.4" fill="#8B9669"/>
<circle cx="200.0" cy="126.9" r="6.4" fill="#62DC40"/>
<circle cx="406.5" cy="265.4" r="6.4" fill="#889F66"/>
<circle cx="492.2" cy="299.3" r="6.4" fill="#7F7F7F"/>
<circle cx="337.6" cy="230.1" r="6.4" fill="#8D8D6D"/>
<circle cx="270.4" cy="105.0" r="6.4" fill="#72CB4E"/>
<circle cx="159.9" cy="241.7" r="6.4" fill="#85A862"/>
<circle cx="267.0" cy="257.3" r="6.4" fill="#57E538"/>
<circle cx="594.2" cy="263.0" r="6.4" fill="#7F7F7F"/>
<circle cx="460.1" cy="250.2" r="6.4" fill="#78C253"/>
<circle cx="422.9" cy="261.3" r="6.4" fill="#85A862"/>
<circle cx="478.6" cy="261.0" r="6.4" fill="#85A862"/>
<circle cx="400.4" cy="259.5" r="6.4" fill="#8F8470"/>
<circle cx="257.3" cy="254.2" r="6.4" fill="#889F66"/>
<circle cx="256.8" cy="72.7" r="6.4" fill="#85A862"/>
<circle cx="609.6" cy="253.3" r="6.4" fill="#8F8470"/>
<circle cx="605.7" cy="393.4" r="6.4" fill="#917277"/>
<circle cx="628.7" cy="407.1" r="6.4" fill="#8F8470"/>
<circle cx="511.7" cy="352.0" r="6.4" fill="#8B008B"/>
<circle cx="154.3" cy="122.1" r="6.4" fill="#6BD347"/>
<circle cx="450.1" cy="314.2" r="6.4" fill="#62DC40"/>
<circle cx="253.7" cy="261.3" r="6.4" fill="#72CB4E"/>
<circle cx="497.7" cy="374.3" r="6.4" fill="#8B9669"/>
<circle cx="270.2" cy="67.1" r="6.4" fill="#82B05D"/>
<circle cx="532.7" cy="349.6" r="6.4" fill="#7DB959"/>
<circle cx="246.2" cy="241.7" r="6.4" fill="#78C253"/>
<circle cx="689.6" cy="198.0" r="6.4" fill="#82B05D"/>
<circle cx="430.2" cy="317.9" r="6.4" fill="#889F66"/>
<circle cx="192.5" cy="106.5" r="6.4" fill="#7F7F7F"/>
<circle cx="188.1" cy="117.5" r="6.4" fill="#85A862"/>
<circle cx="622.2" cy="393.4" r="6.4" fill="#8B9669"/>
<circle cx="239.6" cy="233.9" r="6.4" fill="#8B008B"/>
<circle cx="515.8" cy="305.4" r="6.4" fill="#8F8470"/>
<circle cx="518.8" cy="346.0" r="6.4" fill="#889F66"/>
<circle cx="181.8" cy="263.7" r="6.4" fill="#85A862"/>
<circle cx="327.4" cy="215.7" r="6.4" fill="#889F66"/>
<circle cx="302.9" cy="186.1" r="6.4" fill="#6BD347"/>
<circle cx="185.0" cy="258.3" r="6.4" fill="#889F66"/>
<circle cx="695.5" cy="177.1" r="6.4" fill="#8D8D6D"/>
<circle cx="290.2" cy="107.8" r="6.4" fill="#57E538"/>
<circle cx="160.3" cy="259.4" r="6.4" fill="#78C253"/>
<circle cx="220.9" cy="256.8" r="6.4" fill="#85A862"/>
<circle cx="307.7" cy="180.4" r="6.4" fill="#48ED2D"/>
<circle cx="531.0" cy="299.3" r="6.4" fill="#907B74"/>
<circle cx="456.6" cy="264.9" r="6.4" fill="#72CB4E"/>
<circle cx="389.2" cy="248.0" r="6.4" fill="#6BD347"/>
<circle cx="443.9" cy="271.8" r="6.4" fill="#7DB959"/>
<circle cx="409.1" cy="326.3" r="6.4" fill="#8F8470"/>
<circle cx="439.1" cy="324.9" r="6.4" fill="#62DC40"/>
<circle cx="204.0" cy="105.9" r="6.4" fill="#72CB4E"/>
<circle cx="626.9" cy="404.6" r="6.4" fill="#82B05D"/>
<circle cx="218.9" cy="262.7" r="6.4" fill="#7DB959"/>
<circle cx="620.3" cy="232.6" r="6.4" fill="#91687A"/>
<circle cx="262.7" cy="231.9" r="6.4" fill="#7DB959"/>
<circle cx="181.2" cy="109.3" r="6.4" fill="#57E538"/>
<circle cx="696.4" cy="172.0" r="6.4" fill="#8B9669"/>
<circle cx="355.6" cy="240.4" r="6.4" fill="#7DB959"/>
<circle cx="201.4" cy="265.0" r="6.4" fill="#91547F"/>
<circle cx="184.5" cy="130.7" r="6.4" fill="#34F61F"/>
<circle cx="189.2" cy="236.6" r="6.4" fill="#85A862"/>
<circle cx="208.1" cy="251.8" r="6.4" fill="#72CB4E"/>
<circle cx="694.1" cy="177.2" r="6.4" fill="#72CB4E"/>
<circle cx="449.2" cy="303.9" r="6.4" fill="#85A862"/>
<circle cx="470.6" cy="285.8" r="6.4" fill="#917277"/>
<circle cx="519.6" cy="301.1" r="6.4" fill="#57E538"/>
<circle cx="188.9" cy="125.2" r="6.4" fill="#889F66"/>
<circle cx="211.7" cy="142.6" r="6.4" fill="#78C253"/>
<circle cx="523.5" cy="331.9" r="6.4" fill="#82B05D"/>
<circle cx="557.9" cy="303.5" r="6.4" fill="#889F66"/>
<circle cx="277.0" cy="238.8" r="6.4" fill="#889F66"/>
<circle cx="487.8" cy="279.7" r="6.4" fill="#915E7C"/>
<circle cx="325.7" cy="241.8" r="6.4" fill="#8B9669"/>
<circle cx="533.6" cy="300.4" r="6.4" fill="#889F66"/>
<circle cx="280.1" cy="173.5" r="6.4" fill="#82B05D"/>
<circle cx="549.7" cy="290.4" r="6.4" fill="#889F66"/>
<circle cx="623.1" cy="240.7" r="6.4" fill="#7F7F7F"/>
<circle cx="229.9" cy="248.5" r="6.4" fill="#8D8D6D"/>
<circle cx="187.9" cy="232.5" r="6.4" fill="#7DB959"/>
<circle cx="463.6" cy="399.1" r="6.4" fill="#72CB4E"/>
<circle cx="511.5" cy="351.7" r="6.4" fill="#917277"/>
<circle cx="200.6" cy="226.6" r="6.4" fill="#62DC40"/>
<circle cx="285.8" cy="105.2" r="6.4" fill="#62DC40"/>
<circle cx="469.4" cy="253.8" r="6.4" fill="#915E7C"/>
<circle cx="421.5" cy="313.9" r="6.4" fill="#917277"/>
<circle cx="271.2" cy="133.9" r="6.4" fill="#7DB959"/>
<circle cx="442.9" cy="327.5" r="6.4" fill="#82B05D"/>
<circle cx="439.6" cy="317.6" r="6.4" fill="#7DB959"/>
<circle cx="418.2" cy="251.4" r="6.4" fill="#7DB959"/>
<circle cx="479.7" cy="283.5" r="6.4" fill="#82B05D"/>
<circle cx="594.5" cy="271.7" r="6.4" fill="#85A862"/>
<circle cx="174.4" cy="250.3" r="6.4" fill="#7DB959"/>
<circle cx="470.1" cy="290.6" r="6.4" fill="#8F8470"/>
<circle cx="694.5" cy="202.6" r="6.4" fill="#889F66"/>
<circle cx="169.5" cy="123.8" r="6.4" fill="#8D8D6D"/>
<circle cx="246.2" cy="152.3" r="6.4" fill="#78C253"/>
<circle cx="595.2" cy="385.3" r="6.4" fill="#915E7C"/>
<circle cx="380.9" cy="252.5" r="6.4" fill="#62DC40"/>
<circle cx="514.5" cy="345.8" r="6.4" fill="#8D8D6D"/>
<circle cx="434.0" cy="271.9" r="6.4" fill="#85A862"/>
<circle cx="301.4" cy="172.0" r="6.4" fill="#82B05D"/>
<circle cx="250.4" cy="125.5" r="6.4" fill="#917277"/>
<circle cx="595.2" cy="392.3" r="6.4" fill="#57E538"/>
<circle cx="457.8" cy="303.6" r="6.4" fill="#889F66"/>
<circle cx="506.0" cy="309.1" r="6.4" fill="#85A862"/>
<circle cx="180.5" cy="240.1" r="6.4" fill="#78C253"/>
<circle cx="395.6" cy="248.8" r="6.4" fill="#85A862"/>
<circle cx="259.2" cy="101.5" r="6.4" fill="#7DB959"/>
<circle cx="244.8" cy="271.0" r="6.4" fill="#85A862"/>
<circle cx="600.3" cy="387.3" r="6.4" fill="#8D8D6D"/>
<circle cx="229.8" cy="242.6" r="6.4" fill="#7DB959"/>
<circle cx="216.4" cy="229.3" r="6.4" fill="#78C253"/>
<circle cx="471.1" cy="259.3" r="6.4" fill="#8B008B"/>
<circle cx="538.7" cy="370.9" r="6.4" fill="#8F8470"/>
<circle cx="504.1" cy="350.5" r="6.4" fill="#8B008B"/>
<circle cx="518.1" cy="289.4" r="6.4" fill="#8F8470"/>
<circle cx="593.6" cy="272.1" r="6.4" fill="#915E7C"/>
<circle cx="488.1" cy="273.1" r="6.4" fill="#85A862"/>
<circle cx="501.7" cy="371.9" r="6.4" fill="#7DB959"/>
<circle cx="163.3" cy="247.3" r="6.4" fill="#889F66"/>
<circle cx="455.4" cy="299.2" r="6.4" fill="#8F8470"/>
<circle cx="251.6" cy="229.1" r="6.4" fill="#6BD347"/>
<circle cx="293.6" cy="77.7" r="6.4" fill="#72CB4E"/>
<circle cx="291.8" cy="93.1" r="6.4" fill="#62DC40"/>
<circle cx="288.6" cy="83.6" r="6.4" fill="#62DC40"/>
<circle cx="456.9" cy="289.3" r="6.4" fill="#78C253"/>
<circle cx="445.9" cy="266.1" r="6.4" fill="#72CB4E"/>
<circle cx="167.2" cy="114.9" r="6.4" fill="#78C253"/>
<circle cx="258.2" cy="156.0" r="6.4" fill="#7DB959"/>
<circle cx="151.6" cy="141.1" r="6.4" fill="#72CB4E"/>
<circle cx="347.5" cy="237.6" r="6.4" fill="#34F61F"/>
<circle cx="509.1" cy="341.0" r="6.4" fill="#6BD347"/>
<circle cx="159.5" cy="137.6" r="6.4" fill="#57E538"/>
<circle cx="643.0" cy="400.7" r="6.4" fill="#7DB959"/>
<circle cx="581.3" cy="300.7" r="6.4" fill="#6BD347"/>
<circle cx="191.6" cy="249.8" r="6.4" fill="#889F66"/>
<circle cx="277.7" cy="69.4" r="6.4" fill="#57E538"/>
<circle cx="467.7" cy="254.1" r="6.4" fill="#48ED2D"/>
<circle cx="400.3" cy="242.4" r="6.4" fill="#57E538"/>
<circle cx="632.3" cy="408.6" r="6.4" fill="#8D8D6D"/>
<circle cx="238.1" cy="246.8" r="6.4" fill="#7DB959"/>
<circle cx="229.1" cy="81.2" r="6.4" fill="#72CB4E"/>
<circle cx="289.4" cy="171.0" r="6.4" fill="#57E538"/>
<circle cx="528.6" cy="350.9" r="6.4" fill="#8B9669"/>
<circle cx="623.2" cy="393.4" r="6.4" fill="#78C253"/>
<circle cx="160.2" cy="130.6" r="6.4" fill="#7F7F7F"/>
<circle cx="332.6" cy="219.0" r="6.4" fill="#91547F"/>
<circle cx="520.0" cy="307.1" r="6.4" fill="#85A862"/>
<circle cx="429.2" cy="254.6" r="6.4" fill="#82B05D"/>
<circle cx="584.0" cy="388.5" r="6.4" fill="#8D8D6D"/>
<circle cx="353.5" cy="242.6" r="6.4" fill="#889F66"/>
<circle cx="201.9" cy="239.6" r="6.4" fill="#8B9669"/>
<circle cx="198.4" cy="251.1" r="6.4" fill="#6BD347"/>
<circle cx="295.9" cy="229.4" r="6.4" fill="#78C253"/>
<circle cx="200.0" cy="92.7" r="6.4" fill="#6BD347"/>
<circle cx="528.6" cy="325.5" r="6.4" fill="#82B05D"/>
<circle cx="232.4" cy="263.0" r="6.4" fill="#889F66"/>
<circle cx="617.4" cy="264.2" r="6.4" fill="#85A862"/>
<circle cx="183.2" cy="133.5" r="6.4" fill="#85A862"/>
<circle cx="348.2" cy="229.6" r="6.4" fill="#7DB959"/>
<circle cx="204.7" cy="224.6" r="6.4" fill="#78C253"/>
<circle cx="318.3" cy="237.3" r="6.4" fill="#72CB4E"/>
<circle cx="271.5" cy="157.0" r="6.4" fill="#72CB4E"/>
<circle cx="525.8" cy="355.7" r="6.4" fill="#82B05D"/>
<circle cx="372.5" cy="244.0" r="6.4" fill="#889F66"/>
<circle cx="256.0" cy="265.9" r="6.4" fill="#7F7F7F"/>
<circle cx="288.9" cy="229.2" r="6.4" fill="#8D8D6D"/>
<circle cx="331.8" cy="227.5" r="6.4" fill="#78C253"/>
<circle cx="324.5" cy="244.0" r="6.4" fill="#72CB4E"/>
<circle cx="679.6" cy="202.7" r="6.4" fill="#85A862"/>
<circle cx="173.4" cy="133.5" r="6.4" fill="#7F7F7F"/>
<circle cx="278.5" cy="231.9" r="6.4" fill="#72CB4E"/>
<circle cx="530.3" cy="335.6" r="6.4" fill="#8B008B"/>
<circle cx="479.1" cy="281.6" r="6.4" fill="#8B008B"/>
<circle cx="217.2" cy="102.2" r="6.4" fill="#85A862"/>
<circle cx="696.6" cy="189.1" r="6.4" fill="#85A862"/>
<circle cx="253.9" cy="71.1" r="6.4" fill="#78C253"/>
<circle cx="523.1" cy="359.6" r="6.4" fill="#82B05D"/>
<circle cx="240.7" cy="118.9" r="6.4" fill="#62DC40"/>
<circle cx="460.5" cy="279.8" r="6.4" fill="#6BD347"/>
<circle cx="233.0" cy="238.2" r="6.4" fill="#7DB959"/>
<circle cx="487.6" cy="380.2" r="6.4" fill="#82B05D"/>
<circle cx="227.5" cy="82.6" r="6.4" fill="#907B74"/>
<circle cx="408.5" cy="258.2" r="6.4" fill="#82B05D"/>
<circle cx="269.0" cy="254.1" r="6.4" fill="#72CB4E"/>
<circle cx="246.9" cy="229.7" r="6.4" fill="#7F7F7F"/>
<circle cx="449.9" cy="298.1" r="6.4" fill="#78C253"/>
<circle cx="477.7" cy="297.3" r="6.4" fill="#8D8D6D"/>
<circle cx="490.1" cy="285.5" r="6.4" fill="#8F8470"/>
<circle cx="272.1" cy="104.2" r="6.4" fill="#82B05D"/>
<circle cx="180.5" cy="119.7" r="6.4" fill="#6BD347"/>
<circle cx="596.9" cy="254.9" r="6.4" fill="#85A862"/>
<circle cx="599.0" cy="264.1" r="6.4" fill="#915E7C"/>
<circle cx="512.2" cy="315.4" r="6.4" fill="#48ED2D"/>
<circle cx="254.8" cy="248.7" r="6.4" fill="#78C253"/>
<circle cx="304.6" cy="226.0" r="6.4" fill="#78C253"/>
<circle cx="508.7" cy="373.4" r="6.4" fill="#85A862"/>
<circle cx="153.3" cy="137.4" r="6.4" fill="#78C253"/>
<circle cx="260.9" cy="67.6" r="6.4" fill="#82B05D"/>
<circle cx="280.9" cy="79.0" r="6.4" fill="#72CB4E"/>
<circle cx="166.9" cy="128.6" r="6.4" fill="#62DC40"/>
<circle cx="441.8" cy="265.0" r="6.4" fill="#7DB959"/>
<circle cx="292.3" cy="165.7" r="6.4" fill="#72CB4E"/>
<circle cx="163.6" cy="127.4" r="6.4" fill="#889F66"/>
<circle cx="576.8" cy="297.1" r="6.4" fill="#889F66"/>
<circle cx="228.7" cy="134.3" r="6.4" fill="#82B05D"/>
<circle cx="606.3" cy="282.6" r="6.4" fill="#7F7F7F"/>
<circle cx="229.8" cy="71.0" r="6.4" fill="#7DB959"/>
<circle cx="223.1" cy="246.6" r="6.4" fill="#48ED2D"/>
<circle cx="217.5" cy="138.2" r="6.4" fill="#7F7F7F"/>
<circle cx="525.0" cy="305.3" r="6.4" fill="#85A862"/>
<circle cx="433.8" cy="245.0" r="6.4" fill="#78C253"/>
<circle cx="305.6" cy="195.1" r="6.4" fill="#78C253"/>
<circle cx="219.7" cy="124.6" r="6.4" fill="#82B05D"/>
<circle cx="314.8" cy="222.8" r="6.4" fill="#72CB4E"/>
<circle cx="315.5" cy="235.0" r="6.4" fill="#8D8D6D"/>
<circle cx="244.9" cy="125.6" r="6.4" fill="#62DC40"/>
<circle cx="311.0" cy="243.2" r="6.4" fill="#82B05D"/>
<circle cx="634.1" cy="397.3" r="6.4" fill="#8D8D6D"/>
<circle cx="602.6" cy="283.3" r="6.4" fill="#889F66"/>
<circle cx="245.2" cy="228.3" r="6.4" fill="#8F8470"/>
<circle cx="231.7" cy="246.9" r="6.4" fill="#889F66"/>
<circle cx="437.8" cy="252.5" r="6.4" fill="#8F8470"/>
<circle cx="419.9" cy="321.6" r="6.4" fill="#8B008B"/>
<circle cx="601.4" cy="390.3" r="6.4" fill="#82B05D"/>
<circle cx="704.9" cy="160.9" r="6.4" fill="#78C253"/>
<circle cx="296.8" cy="88.6" r="6.4" fill="#62DC40"/>
<circle cx="507.2" cy="370.9" r="6.4" fill="#8B008B"/>
<circle cx="266.4" cy="109.2" r="6.4" fill="#7F7F7F"/>
<circle cx="619.0" cy="238.0" r="6.4" fill="#82B05D"/>
<circle cx="167.6" cy="140.9" r="6.4" fill="#889F66"/>
<circle cx="506.8" cy="376.0" r="6.4" fill="#889F66"/>
<circle cx="204.8" cy="225.6" r="6.4" fill="#7DB959"/>
<circle cx="437.5" cy="301.3" r="6.4" fill="#62DC40"/>
<circle cx="493.6" cy="277.4" r="6.4" fill="#72CB4E"/>
<circle cx="434.9" cy="314.7" r="6.4" fill="#8F8470"/>
<circle cx="161.1" cy="243.8" r="6.4" fill="#7F7F7F"/>
<circle cx="525.6" cy="312.3" r="6.4" fill="#8F8470"/>
<circle cx="620.0" cy="269.9" r="6.4" fill="#7DB959"/>
<circle cx="289.4" cy="99.0" r="6.4" fill="#6BD347"/>
<circle cx="246.3" cy="139.3" r="6.4" fill="#8B008B"/>
<circle cx="518.6" cy="367.0" r="6.4" fill="#8B9669"/>
<circle cx="445.6" cy="307.1" r="6.4" fill="#8B9669"/>
<circle cx="176.3" cy="128.3" r="6.4" fill="#8D8D6D"/>
<circle cx="234.6" cy="249.3" r="6.4" fill="#82B05D"/>
<circle cx="167.1" cy="118.7" r="6.4" fill="#72CB4E"/>
<circle cx="202.8" cy="247.9" r="6.4" fill="#72CB4E"/>
<circle cx="284.4" cy="240.1" r="6.4" fill="#82B05D"/>
<circle cx="611.3" cy="391.1" r="6.4" fill="#7F7F7F"/>
<circle cx="259.9" cy="136.2" r="6.4" fill="#57E538"/>
<circle cx="470.0" cy="405.7" r="6.4" fill="#85A862"/>
<circle cx="278.7" cy="81.3" r="6.4" fill="#72CB4E"/>
<circle cx="222.0" cy="254.7" r="6.4" fill="#85A862"/>
<circle cx="234.5" cy="260.7" r="6.4" fill="#85A862"/>
<circle cx="428.5" cy="267.9" r="6.4" fill="#8B008B"/>
<circle cx="442.0" cy="254.3" r="6.4" fill="#82B05D"/>
<circle cx="563.2" cy="283.0" r="6.4" fill="#8F8470"/>
<circle cx="337.3" cy="242.5" r="6.4" fill="#82B05D"/>
<circle cx="400.7" cy="254.5" r="6.4" fill="#8F8470"/>
<circle cx="166.2" cy="238.4" r="6.4" fill="#72CB4E"/>
<circle cx="299.9" cy="170.5" r="6.4" fill="#889F66"/>
<circle cx="171.0" cy="241.7" r="6.4" fill="#7DB959"/>
<circle cx="510.7" cy="362.3" r="6.4" fill="#85A862"/>
<circle cx="631.9" cy="256.3" r="6.4" fill="#82B05D"/>
<circle cx="194.9" cy="114.1" r="6.4" fill="#57E538"/>
<circle cx="176.0" cy="234.4" r="6.4" fill="#82B05D"/>
<circle cx="195.3" cy="257.6" r="6.4" fill="#889F66"/>
<circle cx="250.1" cy="127.5" r="6.4" fill="#62DC40"/>
<circle cx="517.0" cy="372.3" r="6.4" fill="#85A862"/>
<circle cx="677.0" cy="193.9" r="6.4" fill="#7DB959"/>
<circle cx="596.8" cy="386.7" r="6.4" fill="#72CB4E"/>
<circle cx="703.8" cy="164.0" r="6.4" fill="#82B05D"/>
<circle cx="293.5" cy="94.6" r="6.4" fill="#62DC40"/>
<circle cx="702.5" cy="169.9" r="6.4" fill="#85A862"/>
<circle cx="540.2" cy="369.0" r="6.4" fill="#7DB959"/>
<circle cx="176.4" cy="232.6" r="6.4" fill="#889F66"/>
<circle cx="500.2" cy="379.5" r="6.4" fill="#8B008B"/>
<circle cx="266.7" cy="240.6" r="6.4" fill="#889F66"/>
<circle cx="256.3" cy="151.8" r="6.4" fill="#7F7F7F"/>
<circle cx="182.1" cy="133.0" r="6.4" fill="#7DB959"/>
<circle cx="186.0" cy="247.8" r="6.4" fill="#78C253"/>
<circle cx="278.2" cy="130.5" r="6.4" fill="#72CB4E"/>
<circle cx="428.6" cy="244.8" r="6.4" fill="#8F8470"/>
<circle cx="505.4" cy="282.5" r="6.4" fill="#8F8470"/>
<circle cx="444.7" cy="314.9" r="6.4" fill="#915E7C"/>
<circle cx="560.4" cy="282.2" r="6.4" fill="#62DC40"/>
<circle cx="383.4" cy="232.2" r="6.4" fill="#889F66"/>
<circle cx="421.2" cy="267.6" r="6.4" fill="#85A862"/>
<circle cx="423.2" cy="311.0" r="6.4" fill="#82B05D"/>
<circle cx="445.8" cy="324.3" r="6.4" fill="#917277"/>
<circle cx="282.3" cy="166.0" r="6.4" fill="#7DB959"/>
<circle cx="338.8" cy="215.4" r="6.4" fill="#82B05D"/>
<circle cx="374.5" cy="254.5" r="6.4" fill="#85A862"/>
<circle cx="451.2" cy="306.8" r="6.4" fill="#907B74"/>
<circle cx="218.8" cy="97.0" r="6.4" fill="#7DB959"/>
<circle cx="290.1" cy="157.2" r="6.4" fill="#7DB959"/>
<circle cx="462.8" cy="302.4" r="6.4" fill="#82B05D"/>
<circle cx="196.5" cy="144.0" r="6.4" fill="#62DC40"/>
<circle cx="506.0" cy="333.0" r="6.4" fill="#8D8D6D"/>
<circle cx="608.7" cy="282.3" r="6.4" fill="#85A862"/>
<circle cx="270.5" cy="155.7" r="6.4" fill="#85A862"/>
<circle cx="543.8" cy="308.4" r="6.4" fill="#8F8470"/>
<circle cx="283.5" cy="71.2" r="6.4" fill="#6BD347"/>
<circle cx="211.2" cy="88.2" r="6.4" fill="#7F7F7F"/>
<circle cx="226.0" cy="264.9" r="6.4" fill="#34F61F"/>
<circle cx="288.3" cy="92.8" r="6.4" fill="#907B74"/>
<circle cx="323.7" cy="236.8" r="6.4" fill="#85A862"/>
<circle cx="464.4" cy="264.1" r="6.4" fill="#62DC40"/>
<circle cx="239.0" cy="90.1" r="6.4" fill="#889F66"/>
<circle cx="584.1" cy="280.2" r="6.4" fill="#889F66"/>
<circle cx="259.9" cy="153.7" r="6.4" fill="#82B05D"/>
<circle cx="427.8" cy="308.2" r="6.4" fill="#7F7F7F"/>
<circle cx="305.6" cy="242.9" r="6.4" fill="#907B74"/>
<circle cx="446.5" cy="248.1" r="6.4" fill="#904982"/>
<circle cx="267.6" cy="88.8" r="6.4" fill="#00FF00"/>
<circle cx="393.2" cy="253.8" r="6.4" fill="#82B05D"/>
<circle cx="526.1" cy="322.9" r="6.4" fill="#889F66"/>
<circle cx="509.4" cy="291.2" r="6.4" fill="#6BD347"/>
<circle cx="526.1" cy="326.8" r="6.4" fill="#904982"/>
<circle cx="233.8" cy="242.8" r="6.4" fill="#889F66"/>
<circle cx="235.1" cy="130.0" r="6.4" fill="#82B05D"/>
<circle cx="237.8" cy="68.6" r="6.4" fill="#78C253"/>
<circle cx="446.0" cy="318.1" r="6.4" fill="#82B05D"/>
<circle cx="348.1" cy="242.2" r="6.4" fill="#7DB959"/>
<circle cx="175.2" cy="249.7" r="6.4" fill="#82B05D"/>
<circle cx="515.2" cy="331.8" r="6.4" fill="#907B74"/>
<circle cx="261.3" cy="241.9" r="6.4" fill="#62DC40"/>
<circle cx="225.4" cy="138.0" r="6.4" fill="#889F66"/>
<circle cx="250.0" cy="266.6" r="6.4" fill="#907B74"/>
<circle cx="514.0" cy="317.1" r="6.4" fill="#6BD347"/>
<circle cx="407.6" cy="236.0" r="6.4" fill="#907B74"/>
<circle cx="466.8" cy="256.4" r="6.4" fill="#8F8470"/>
<circle cx="515.3" cy="313.5" r="6.4" fill="#78C253"/>
<circle cx="301.0" cy="74.7" r="6.4" fill="#889F66"/>
<circle cx="185.7" cy="114.0" r="6.4" fill="#7F7F7F"/>
<circle cx="699.0" cy="165.5" r="6.4" fill="#8B9669"/>
<circle cx="259.0" cy="84.5" r="6.4" fill="#7DB959"/>
<circle cx="196.6" cy="140.4" r="6.4" fill="#48ED2D"/>
<circle cx="344.7" cy="212.9" r="6.4" fill="#78C253"/>
<circle cx="615.0" cy="393.1" r="6.4" fill="#904982"/>
<circle cx="181.9" cy="136.5" r="6.4" fill="#8F8470"/>
<circle cx="362.5" cy="221.4" r="6.4" fill="#91547F"/>
<circle cx="294.4" cy="74.5" r="6.4" fill="#889F66"/>
<circle cx="186.3" cy="140.0" r="6.4" fill="#82B05D"/>
<circle cx="296.9" cy="87.2" r="6.4" fill="#72CB4E"/>
<circle cx="594.2" cy="255.2" r="6.4" fill="#78C253"/>
<circle cx="256.2" cy="97.4" r="6.4" fill="#82B05D"/>
<circle cx="420.8" cy="242.6" r="6.4" fill="#7DB959"/>
<circle cx="279.1" cy="176.0" r="6.4" fill="#62DC40"/>
<circle cx="504.1" cy="309.5" r="6.4" fill="#907B74"/>
<circle cx="286.8" cy="148.8" r="6.4" fill="#78C253"/>
<circle cx="466.3" cy="251.2" r="6.4" fill="#6BD347"/>
<circle cx="309.4" cy="243.9" r="6.4" fill="#8D8D6D"/>
<circle cx="164.6" cy="259.1" r="6.4" fill="#7DB959"/>
<circle cx="508.3" cy="341.1" r="6.4" fill="#889F66"/>
<circle cx="267.7" cy="252.6" r="6.4" fill="#78C253"/>
<circle cx="529.7" cy="356.3" r="6.4" fill="#7DB959"/>
<circle cx="244.0" cy="122.3" r="6.4" fill="#889F66"/>
<circle cx="475.1" cy="400.4" r="6.4" fill="#78C253"/>
<circle cx="214.3" cy="83.8" r="6.4" fill="#48ED2D"/>
<circle cx="305.9" cy="225.2" r="6.4" fill="#6BD347"/>
<circle cx="499.3" cy="361.3" r="6.4" fill="#8D8D6D"/>
<circle cx="587.3" cy="390.1" r="6.4" fill="#7F7F7F"/>
<circle cx="629.1" cy="230.8" r="6.4" fill="#907B74"/>
<circle cx="278.3" cy="235.9" r="6.4" fill="#78C253"/>
<circle cx="435.9" cy="275.8" r="6.4" fill="#48ED2D"/>
<circle cx="262.1" cy="154.9" r="6.4" fill="#62DC40"/>
<circle cx="587.2" cy="386.1" r="6.4" fill="#904982"/>
<circle cx="569.6" cy="296.7" r="6.4" fill="#7F7F7F"/>
<circle cx="630.5" cy="259.2" r="6.4" fill="#7DB959"/>
<circle cx="284.6" cy="124.9" r="6.4" fill="#78C253"/>
<circle cx="278.0" cy="104.9" r="6.4" fill="#7F7F7F"/>
<circle cx="200.2" cy="140.3" r="6.4" fill="#34F61F"/>
<circle cx="424.7" cy="265.8" r="6.4" fill="#8D8D6D"/>
<circle cx="278.0" cy="178.5" r="6.4" fill="#72CB4E"/>
<circle cx="506.6" cy="338.8" r="6.4" fill="#78C253"/>
<circle cx="289.7" cy="155.3" r="6.4" fill="#6BD347"/>
<circle cx="262.8" cy="230.2" r="6.4" fill="#8D8D6D"/>
<circle cx="469.8" cy="264.2" r="6.4" fill="#7DB959"/>
<circle cx="704.8" cy="190.0" r="6.4" fill="#82B05D"/>
<circle cx="445.7" cy="282.0" r="6.4" fill="#8F8470"/>
<circle cx="296.2" cy="230.9" r="6.4" fill="#6BD347"/>
<circle cx="248.3" cy="152.5" r="6.4" fill="#48ED2D"/>
<circle cx="392.3" cy="241.3" r="6.4" fill="#78C253"/>
<circle cx="523.3" cy="343.5" r="6.4" fill="#8B9669"/>
<circle cx="307.9" cy="233.6" r="6.4" fill="#78C253"/>
<circle cx="610.2" cy="273.2" r="6.4" fill="#82B05D"/>
<circle cx="241.2" cy="155.6" r="6.4" fill="#889F66"/>
<circle cx="411.0" cy="262.0" r="6.4" fill="#889F66"/>
<circle cx="381.9" cy="248.7" r="6.4" fill="#8F8470"/>
<circle cx="163.2" cy="256.5" r="6.4" fill="#82B05D"/>
<circle cx="624.0" cy="235.2" r="6.4" fill="#8F8470"/>
<circle cx="194.6" cy="250.6" r="6.4" fill="#78C253"/>
<circle cx="223.5" cy="92.6" r="6.4" fill="#7F7F7F"/>
<circle cx="161.6" cy="127.3" r="6.4" fill="#889F66"/>
<circle cx="273.6" cy="135.4" r="6.4" fill="#889F66"/>
<circle cx="369.1" cy="252.8" r="6.4" fill="#00FF00"/>
<circle cx="234.2" cy="94.0" r="6.4" fill="#6BD347"/>
<circle cx="165.0" cy="250.7" r="6.4" fill="#907B74"/>
<circle cx="260.4" cy="138.1" r="6.4" fill="#72CB4E"/>
<circle cx="216.1" cy="80.7" r="6.4" fill="#62DC40"/>
<circle cx="263.4" cy="110.5" r="6.4" fill="#85A862"/>
<circle cx="571.8" cy="384.4" r="6.4" fill="#78C253"/>
<circle cx="380.7" cy="249.6" r="6.4" fill="#82B05D"/>
<circle cx="413.8" cy="332.8" r="6.4" fill="#85A862"/>
<circle cx="451.0" cy="319.6" r="6.4" fill="#85A862"/>
<circle cx="220.6" cy="233.7" r="6.4" fill="#917277"/>
<circle cx="683.7" cy="197.5" r="6.4" fill="#7F7F7F"/>
<circle cx="346.5" cy="234.0" r="6.4" fill="#889F66"/>
<circle cx="383.2" cy="239.6" r="6.4" fill="#78C253"/>
<circle cx="611.6" cy="242.2" r="6.4" fill="#889F66"/>
<circle cx="688.9" cy="204.8" r="6.4" fill="#915E7C"/>
<circle cx="466.9" cy="280.9" r="6.4" fill="#62DC40"/>
<circle cx="299.6" cy="173.3" r="6.4" fill="#82B05D"/>
<circle cx="416.4" cy="238.3" r="6.4" fill="#85A862"/>
<circle cx="623.5" cy="248.3" r="6.4" fill="#7DB959"/>
<circle cx="293.1" cy="160.2" r="6.4" fill="#48ED2D"/>
<circle cx="270.2" cy="245.2" r="6.4" fill="#78C253"/>
<circle cx="517.9" cy="323.4" r="6.4" fill="#91547F"/>
<circle cx="192.4" cy="228.3" r="6.4" fill="#62DC40"/>
<circle cx="623.6" cy="404.2" r="6.4" fill="#889F66"/>
<circle cx="428.7" cy="331.5" r="6.4" fill="#78C253"/>
<circle cx="210.8" cy="145.7" r="6.4" fill="#82B05D"/>
<circle cx="347.7" cy="213.6" r="6.4" fill="#8B9669"/>
<circle cx="336.6" cy="222.7" r="6.4" fill="#8B9669"/>
<circle cx="238.6" cy="69.4" r="6.4" fill="#57E538"/>
<circle cx="697.8" cy="175.3" r="6.4" fill="#8F8470"/>
<circle cx="202.3" cy="144.2" r="6.4" fill="#48ED2D"/>
<circle cx="507.0" cy="307.8" r="6.4" fill="#78C253"/>
<circle cx="211.2" cy="123.4" r="6.4" fill="#6BD347"/>
<circle cx="252.7" cy="91.5" r="6.4" fill="#85A862"/>
<circle cx="253.7" cy="135.1" r="6.4" fill="#85A862"/>
<circle cx="436.9" cy="299.2" r="6.4" fill="#85A862"/>
<circle cx="500.7" cy="380.2" r="6.4" fill="#85A862"/>
<circle cx="197.0" cy="110.0" r="6.4" fill="#6BD347"/>
<circle cx="509.5" cy="374.0" r="6.4" fill="#82B05D"/>
<circle cx="158.2" cy="258.1" r="6.4" fill="#82B05D"/>
<circle cx="526.5" cy="310.5" r="6.4" fill="#82B05D"/>
<circle cx="283.0" cy="134.4" r="6.4" fill="#91547F"/>
<circle cx="162.0" cy="244.7" r="6.4" fill="#8B9669"/>
<circle cx="230.6" cy="112.8" r="6.4" fill="#7F7F7F"/>
<circle cx="387.7" cy="234.1" r="6.4" fill="#85A862"/>
<circle cx="234.5" cy="130.9" r="6.4" fill="#8B9669"/>
<circle cx="295.2" cy="242.8" r="6.4" fill="#8B008B"/>
<circle cx="541.1" cy="305.9" r="6.4" fill="#889F66"/>
<circle cx="231.0" cy="87.8" r="6.4" fill="#6BD347"/>
<circle cx="521.1" cy="359.0" r="6.4" fill="#889F66"/>
<circle cx="461.3" cy="395.4" r="6.4" fill="#907B74"/>
<circle cx="216.5" cy="263.1" r="6.4" fill="#72CB4E"/>
<circle cx="269.8" cy="91.5" r="6.4" fill="#57E538"/>
<circle cx="506.2" cy="362.1" r="6.4" fill="#8D8D6D"/>
<circle cx="350.7" cy="235.6" r="6.4" fill="#7F7F7F"/>
<circle cx="430.0" cy="263.7" r="6.4" fill="#62DC40"/>
<circle cx="188.9" cy="237.9" r="6.4" fill="#889F66"/>
<circle cx="171.1" cy="264.4" r="6.4" fill="#907B74"/>
<circle cx="273.1" cy="100.8" r="6.4" fill="#72CB4E"/>
<circle cx="191.9" cy="264.8" r="6.4" fill="#889F66"/>
<circle cx="526.9" cy="314.9" r="6.4" fill="#889F66"/>
<circle cx="283.3" cy="122.1" r="6.4" fill="#82B05D"/>
<circle cx="616.2" cy="263.1" r="6.4" fill="#78C253"/>
<circle cx="231.2" cy="80.9" r="6.4" fill="#48ED2D"/>
<circle cx="444.9" cy="291.0" r="6.4" fill="#72CB4E"/>
<circle cx="234.9" cy="262.2" r="6.4" fill="#7F7F7F"/>
<circle cx="407.8" cy="329.3" r="6.4" fill="#7F7F7F"/>
<circle cx="234.7" cy="69.1" r="6.4" fill="#8D8D6D"/>
<circle cx="272.1" cy="76.7" r="6.4" fill="#7DB959"/>
<circle cx="194.7" cy="119.0" r="6.4" fill="#78C253"/>
<circle cx="389.3" cy="224.6" r="6.4" fill="#8D8D6D"/>
<circle cx="417.7" cy="245.4" r="6.4" fill="#8F8470"/>
<circle cx="176.7" cy="264.1" r="6.4" fill="#72CB4E"/>
<circle cx="466.5" cy="301.2" r="6.4" fill="#85A862"/>
<circle cx="211.4" cy="87.0" r="6.4" fill="#7F7F7F"/>
<circle cx="554.7" cy="297.5" r="6.4" fill="#82B05D"/>
<circle cx="281.9" cy="234.4" r="6.4" fill="#85A862"/>
<circle cx="613.4" cy="393.4" r="6.4" fill="#82B05D"/>
<circle cx="312.0" cy="198.0" r="6.4" fill="#6BD347"/>
<circle cx="245.7" cy="266.4" r="6.4" fill="#8B9669"/>
<circle cx="414.4" cy="250.8" r="6.4" fill="#62DC40"/>
<circle cx="462.7" cy="402.6" r="6.4" fill="#62DC40"/>
<circle cx="640.3" cy="408.6" r="6.4" fill="#82B05D"/>
<circle cx="344.3" cy="240.5" r="6.4" fill="#8F8470"/>
<circle cx="478.1" cy="274.4" r="6.4" fill="#8B008B"/>
<circle cx="237.5" cy="255.4" r="6.4" fill="#85A862"/>
<circle cx="270.5" cy="140.4" r="6.4" fill="#72CB4E"/>
<circle cx="162.7" cy="237.3" r="6.4" fill="#82B05D"/>
<circle cx="240.6" cy="270.0" r="6.4" fill="#889F66"/>
<circle cx="486.1" cy="270.9" r="6.4" fill="#8F8470"/>
<circle cx="361.2" cy="254.0" r="6.4" fill="#8F8470"/>
<circle cx="388.3" cy="247.8" r="6.4" fill="#8D8D6D"/>
<circle cx="241.2" cy="83.1" r="6.4" fill="#82B05D"/>
<circle cx="433.1" cy="259.6" r="6.4" fill="#7DB959"/>
<circle cx="165.4" cy="266.0" r="6.4" fill="#7DB959"/>
<circle cx="396.6" cy="226.8" r="6.4" fill="#8F8470"/>
<circle cx="236.4" cy="261.5" r="6.4" fill="#7F7F7F"/>
<circle cx="696.6" cy="187.4" r="6.4" fill="#8F8470"/>
<circle cx="228.3" cy="244.2" r="6.4" fill="#62DC40"/>
<circle cx="289.2" cy="166.8" r="6.4" fill="#78C253"/>
<circle cx="480.6" cy="287.0" r="6.4" fill="#7F7F7F"/>
<circle cx="295.3" cy="180.9" r="6.4" fill="#6BD347"/>
<circle cx="518.9" cy="341.7" r="6.4" fill="#8B008B"/>
<circle cx="344.3" cy="242.7" r="6.4" fill="#8F8470"/>
<circle cx="622.7" cy="233.2" r="6.4" fill="#85A862"/>
<circle cx="611.2" cy="268.1" r="6.4" fill="#7F7F7F"/>
<circle cx="291.2" cy="172.2" r="6.4" fill="#889F66"/>
<circle cx="373.2" cy="218.0" r="6.4" fill="#907B74"/>
<circle cx="637.5" cy="400.3" r="6.4" fill="#78C253"/>
<circle cx="191.7" cy="259.6" r="6.4" fill="#8B008B"/>
<circle cx="587.4" cy="270.4" r="6.4" fill="#8B008B"/>
<circle cx="331.0" cy="239.3" r="6.4" fill="#85A862"/>
<circle cx="456.4" cy="275.8" r="6.4" fill="#85A862"/>
<circle cx="202.1" cy="101.0" r="6.4" fill="#7DB959"/>
<circle cx="247.4" cy="90.8" r="6.4" fill="#7F7F7F"/>
<circle cx="615.8" cy="254.1" r="6.4" fill="#8B9669"/>
<circle cx="634.4" cy="406.8" r="6.4" fill="#7F7F7F"/>
<circle cx="421.0" cy="250.7" r="6.4" fill="#57E538"/>
<circle cx="185.8" cy="123.0" r="6.4" fill="#85A862"/>
<circle cx="322.4" cy="219.8" r="6.4" fill="#82B05D"/>
<circle cx="423.7" cy="256.2" r="6.4" fill="#72CB4E"/>
<circle cx="473.1" cy="284.7" r="6.4" fill="#6BD347"/>
<circle cx="455.6" cy="271.1" r="6.4" fill="#78C253"/>
<circle cx="346.2" cy="236.8" r="6.4" fill="#8F8470"/>
<circle cx="483.7" cy="284.6" r="6.4" fill="#8B9669"/>
<circle cx="470.6" cy="407.8" r="6.4" fill="#8F8470"/>
<circle cx="255.1" cy="139.5" r="6.4" fill="#62DC40"/>
<circle cx="296.2" cy="229.1" r="6.4" fill="#889F66"/>
<circle cx="590.5" cy="258.6" r="6.4" fill="#7DB959"/>
<circle cx="164.5" cy="247.0" r="6.4" fill="#72CB4E"/>
<circle cx="215.7" cy="108.5" r="6.4" fill="#62DC40"/>
<circle cx="201.0" cy="122.0" r="6.4" fill="#62DC40"/>
<circle cx="166.0" cy="124.5" r="6.4" fill="#62DC40"/>
<circle cx="454.5" cy="300.5" r="6.4" fill="#91547F"/>
<circle cx="255.1" cy="100.3" r="6.4" fill="#7F7F7F"/>
<circle cx="192.8" cy="128.1" r="6.4" fill="#889F66"/>
<circle cx="515.7" cy="324.8" r="6.4" fill="#85A862"/>
<circle cx="318.3" cy="225.8" r="6.4" fill="#72CB4E"/>
<circle cx="209.9" cy="257.4" r="6.4" fill="#78C253"/>
<circle cx="218.0" cy="138.5" r="6.4" fill="#72CB4E"/>
<circle cx="384.7" cy="231.5" r="6.4" fill="#8B9669"/>
<circle cx="526.0" cy="343.7" r="6.4" fill="#8B9669"/>
<circle cx="289.4" cy="163.4" r="6.4" fill="#62DC40"/>
<circle cx="468.7" cy="393.0" r="6.4" fill="#82B05D"/>
<circle cx="206.6" cy="232.6" r="6.4" fill="#8F8470"/>
<circle cx="250.5" cy="103.3" r="6.4" fill="#85A862"/>
<circle cx="227.8" cy="149.1" r="6.4" fill="#7F7F7F"/>
<circle cx="258.5" cy="73.2" r="6.4" fill="#7F7F7F"/>
<circle cx="512.7" cy="356.3" r="6.4" fill="#85A862"/>
<circle cx="291.7" cy="189.7" r="6.4" fill="#62DC40"/>
<circle cx="414.7" cy="250.3" r="6.4" fill="#78C253"/>
<circle cx="510.2" cy="361.3" r="6.4" fill="#72CB4E"/>
<circle cx="422.4" cy="311.9" r="6.4" fill="#8D8D6D"/>
<circle cx="569.8" cy="385.0" r="6.4" fill="#8D8D6D"/>
<circle cx="185.1" cy="237.4" r="6.4" fill="#48ED2D"/>
<circle cx="231.7" cy="74.6" r="6.4" fill="#72CB4E"/>
<circle cx="309.7" cy="196.7" r="6.4" fill="#62DC40"/>
<circle cx="698.6" cy="188.1" r="6.4" fill="#85A862"/>
<circle cx="279.1" cy="124.4" r="6.4" fill="#8B008B"/>
<circle cx="406.9" cy="325.0" r="6.4" fill="#6BD347"/>
<circle cx="687.7" cy="189.7" r="6.4" fill="#889F66"/>
<circle cx="409.0" cy="322.2" r="6.4" fill="#889F66"/>
<circle cx="201.3" cy="138.8" r="6.4" fill="#82B05D"/>
<circle cx="193.4" cy="125.5" r="6.4" fill="#78C253"/>
<circle cx="214.3" cy="116.8" r="6.4" fill="#889F66"/>
<circle cx="189.1" cy="258.7" r="6.4" fill="#78C253"/>
<circle cx="588.0" cy="263.5" r="6.4" fill="#78C253"/>
<circle cx="273.6" cy="169.3" r="6.4" fill="#78C253"/>
<circle cx="289.7" cy="151.8" r="6.4" fill="#6BD347"/>
<circle cx="556.7" cy="288.6" r="6.4" fill="#8B008B"/>
<circle cx="522.3" cy="306.8" r="6.4" fill="#82B05D"/>
<circle cx="534.1" cy="302.4" r="6.4" fill="#7F7F7F"/>
<circle cx="514.3" cy="331.6" r="6.4" fill="#889F66"/>
<circle cx="285.7" cy="123.4" r="6.4" fill="#78C253"/>
<circle cx="285.3" cy="136.2" r="6.4" fill="#72CB4E"/>
<circle cx="513.8" cy="354.5" r="6.4" fill="#7F7F7F"/>
<circle cx="221.5" cy="120.7" r="6.4" fill="#85A862"/>
<circle cx="491.9" cy="295.5" r="6.4" fill="#85A862"/>
<circle cx="606.6" cy="246.6" r="6.4" fill="#85A862"/>
<circle cx="373.9" cy="228.2" r="6.4" fill="#917277"/>
<circle cx="263.8" cy="83.7" r="6.4" fill="#62DC40"/>
<circle cx="251.1" cy="270.2" r="6.4" fill="#78C253"/>
<circle cx="514.4" cy="374.2" r="6.4" fill="#904982"/>
<circle cx="618.6" cy="236.7" r="6.4" fill="#91687A"/>
<circle cx="452.9" cy="274.0" r="6.4" fill="#85A862"/>
<circle cx="279.2" cy="141.9" r="6.4" fill="#82B05D"/>
<circle cx="328.3" cy="239.7" r="6.4" fill="#85A862"/>
<circle cx="584.3" cy="387.6" r="6.4" fill="#78C253"/>
<circle cx="529.7" cy="351.5" r="6.4" fill="#85A862"/>
<circle cx="461.9" cy="294.1" r="6.4" fill="#907B74"/>
<circle cx="468.1" cy="285.0" r="6.4" fill="#889F66"/>
<circle cx="226.6" cy="87.4" r="6.4" fill="#78C253"/>
<circle cx="328.0" cy="244.5" r="6.4" fill="#82B05D"/>
<circle cx="578.8" cy="267.9" r="6.4" fill="#85A862"/>
<circle cx="229.9" cy="234.2" r="6.4" fill="#72CB4E"/>
<circle cx="585.8" cy="268.6" r="6.4" fill="#8B9669"/>
<circle cx="231.8" cy="148.4" r="6.4" fill="#6BD347"/>
<circle cx="188.6" cy="245.0" r="6.4" fill="#8F8470"/>
<circle cx="236.9" cy="239.9" r="6.4" fill="#62DC40"/>
<circle cx="578.1" cy="383.5" r="6.4" fill="#6BD347"/>
<circle cx="566.9" cy="294.8" r="6.4" fill="#889F66"/>
<circle cx="318.4" cy="221.4" r="6.4" fill="#62DC40"/>
<circle cx="457.6" cy="277.0" r="6.4" fill="#889F66"/>
<circle cx="273.2" cy="90.9" r="6.4" fill="#7DB959"/>
<circle cx="254.5" cy="121.9" r="6.4" fill="#6BD347"/>
<circle cx="534.1" cy="352.5" r="6.4" fill="#72CB4E"/>
<circle cx="194.8" cy="227.9" r="6.4" fill="#78C253"/>
<circle cx="192.6" cy="258.6" r="6.4" fill="#91547F"/>
<circle cx="239.2" cy="118.4" r="6.4" fill="#7F7F7F"/>
<circle cx="648.4" cy="400.9" r="6.4" fill="#91547F"/>
<circle cx="410.2" cy="329.9" r="6.4" fill="#7DB959"/>
<circle cx="159.0" cy="265.6" r="6.4" fill="#85A862"/>
<circle cx="446.3" cy="316.5" r="6.4" fill="#915E7C"/>
<circle cx="173.3" cy="264.1" r="6.4" fill="#78C253"/>
<circle cx="177.9" cy="141.1" r="6.4" fill="#57E538"/>
<circle cx="625.1" cy="237.5" r="6.4" fill="#8D8D6D"/>
<circle cx="211.8" cy="237.2" r="6.4" fill="#57E538"/>
<circle cx="312.7" cy="221.6" r="6.4" fill="#62DC40"/>
<circle cx="616.7" cy="265.8" r="6.4" fill="#889F66"/>
<circle cx="153.6" cy="127.5" r="6.4" fill="#7F7F7F"/>
<circle cx="300.5" cy="192.9" r="6.4" fill="#889F66"/>
<circle cx="504.5" cy="363.8" r="6.4" fill="#904982"/>
<circle cx="642.4" cy="399.5" r="6.4" fill="#8B008B"/>
<circle cx="652.4" cy="416.9" r="6.4" fill="#85A862"/>
<circle cx="290.0" cy="162.7" r="6.4" fill="#7DB959"/>
<circle cx="166.7" cy="258.3" r="6.4" fill="#889F66"/>
<circle cx="634.0" cy="409.3" r="6.4" fill="#8F3E84"/>
<circle cx="522.8" cy="364.0" r="6.4" fill="#85A862"/>
<circle cx="280.4" cy="249.3" r="6.4" fill="#889F66"/>
<circle cx="479.8" cy="292.1" r="6.4" fill="#91547F"/>
<circle cx="501.7" cy="305.9" r="6.4" fill="#907B74"/>
<circle cx="569.7" cy="303.8" r="6.4" fill="#7F7F7F"/>
<circle cx="240.4" cy="227.6" r="6.4" fill="#82B05D"/>
<circle cx="224.0" cy="250.3" r="6.4" fill="#85A862"/>
<circle cx="600.0" cy="256.9" r="6.4" fill="#7F7F7F"/>
<circle cx="265.2" cy="102.0" r="6.4" fill="#7F7F7F"/>
<circle cx="362.2" cy="254.0" r="6.4" fill="#82B05D"/>
<circle cx="458.9" cy="407.4" r="6.4" fill="#78C253"/>
<circle cx="345.9" cy="217.0" r="6.4" fill="#85A862"/>
<circle cx="358.1" cy="246.6" r="6.4" fill="#91547F"/>
<circle cx="449.7" cy="303.0" r="6.4" fill="#7F7F7F"/>
<circle cx="612.4" cy="272.3" r="6.4" fill="#85A862"/>
<circle cx="220.6" cy="236.7" r="6.4" fill="#34F61F"/>
<circle cx="267.4" cy="85.2" r="6.4" fill="#8B9669"/>
<circle cx="246.9" cy="146.9" r="6.4" fill="#57E538"/>
<circle cx="437.5" cy="326.4" r="6.4" fill="#8B008B"/>
<circle cx="258.0" cy="245.2" r="6.4" fill="#78C253"/>
<circle cx="193.3" cy="230.9" r="6.4" fill="#72CB4E"/>
<circle cx="472.8" cy="300.7" r="6.4" fill="#78C253"/>
<circle cx="495.1" cy="304.9" r="6.4" fill="#8D8D6D"/>
<circle cx="191.5" cy="266.6" r="6.4" fill="#7DB959"/>
<circle cx="505.3" cy="365.9" r="6.4" fill="#889F66"/>
<circle cx="172.9" cy="139.9" r="6.4" fill="#85A862"/>
<circle cx="524.8" cy="320.2" r="6.4" fill="#8D8D6D"/>
<circle cx="453.1" cy="249.4" r="6.4" fill="#78C253"/>
<circle cx="481.8" cy="267.3" r="6.4" fill="#72CB4E"/>
<circle cx="262.3" cy="233.8" r="6.4" fill="#8B008B"/>
<circle cx="500.2" cy="305.7" r="6.4" fill="#72CB4E"/>
<circle cx="380.8" cy="252.1" r="6.4" fill="#85A862"/>
<circle cx="699.9" cy="170.0" r="6.4" fill="#7DB959"/>
<circle cx="509.0" cy="288.7" r="6.4" fill="#7F7F7F"/>
<circle cx="251.3" cy="236.4" r="6.4" fill="#7DB959"/>
<circle cx="317.2" cy="242.1" r="6.4" fill="#8B9669"/>
<circle cx="484.4" cy="279.7" r="6.4" fill="#78C253"/>
<circle cx="624.2" cy="400.1" r="6.4" fill="#78C253"/>
<circle cx="510.7" cy="313.3" r="6.4" fill="#8F8470"/>
<circle cx="462.0" cy="281.6" r="6.4" fill="#8F8470"/>
<circle cx="239.0" cy="154.6" r="6.4" fill="#78C253"/>
<circle cx="666.9" cy="203.1" r="6.4" fill="#889F66"/>
<circle cx="251.6" cy="240.8" r="6.4" fill="#62DC40"/>
<circle cx="290.3" cy="161.1" r="6.4" fill="#62DC40"/>
<circle cx="574.3" cy="290.4" r="6.4" fill="#82B05D"/>
<circle cx="554.8" cy="291.8" r="6.4" fill="#85A862"/>
<circle cx="514.0" cy="295.0" r="6.4" fill="#904982"/>
<circle cx="485.1" cy="376.7" r="6.4" fill="#7DB959"/>
<circle cx="255.9" cy="118.5" r="6.4" fill="#7F7F7F"/>
<circle cx="363.7" cy="245.7" r="6.4" fill="#85A862"/>
<circle cx="563.9" cy="305.8" r="6.4" fill="#57E538"/>
<circle cx="232.5" cy="132.6" r="6.4" fill="#72CB4E"/>
<circle cx="654.9" cy="421.2" r="6.4" fill="#7DB959"/>
<circle cx="266.8" cy="68.2" r="6.4" fill="#8D8D6D"/>
<circle cx="299.6" cy="170.9" r="6.4" fill="#48ED2D"/>
<circle cx="188.6" cy="137.7" r="6.4" fill="#78C253"/>
<circle cx="397.5" cy="232.3" r="6.4" fill="#8D8D6D"/>
<circle cx="400.7" cy="261.7" r="6.4" fill="#907B74"/>
<circle cx="429.9" cy="272.3" r="6.4" fill="#57E538"/>
<circle cx="403.5" cy="249.5" r="6.4" fill="#8B9669"/>
<circle cx="152.7" cy="135.9" r="6.4" fill="#889F66"/>
<circle cx="472.1" cy="392.4" r="6.4" fill="#7DB959"/>
<circle cx="578.1" cy="385.4" r="6.4" fill="#7DB959"/>
<circle cx="628.4" cy="250.4" r="6.4" fill="#62DC40"/>
<circle cx="420.3" cy="324.5" r="6.4" fill="#8B9669"/>
<circle cx="497.8" cy="380.0" r="6.4" fill="#8B008B"/>
<circle cx="364.7" cy="227.7" r="6.4" fill="#8F8470"/>
<circle cx="448.9" cy="310.3" r="6.4" fill="#889F66"/>
<circle cx="272.5" cy="164.1" r="6.4" fill="#85A862"/>
<circle cx="238.4" cy="79.3" r="6.4" fill="#8B9669"/>
<circle cx="418.3" cy="257.1" r="6.4" fill="#85A862"/>
<circle cx="375.7" cy="409.4" r="6.4" fill="#889F66"/>
<circle cx="379.4" cy="406.6" r="6.4" fill="#8B9669"/>
<circle cx="392.0" cy="403.3" r="6.4" fill="#8B9669"/>
<circle cx="390.2" cy="412.0" r="6.4" fill="#889F66"/>
<circle cx="387.6" cy="421.7" r="6.4" fill="#889F66"/>
<circle cx="406.1" cy="406.6" r="6.4" fill="#889F66"/>
<circle cx="404.3" cy="413.5" r="6.4" fill="#8B9669"/>
<circle cx="373.6" cy="422.4" r="6.4" fill="#6BD347"/>
<circle cx="423.4" cy="410.9" r="6.4" fill="#889F66"/>
<circle cx="421.2" cy="414.6" r="6.4" fill="#91687A"/>
<circle cx="428.4" cy="417.4" r="6.4" fill="#7F7F7F"/>
<circle cx="444.0" cy="414.1" r="6.4" fill="#91687A"/>
<circle cx="452.6" cy="406.6" r="6.4" fill="#8E3086"/>
<circle cx="457.0" cy="411.3" r="6.4" fill="#85A862"/>
<circle cx="461.7" cy="408.7" r="6.4" fill="#6BD347"/>
<circle cx="459.1" cy="419.6" r="6.4" fill="#7F7F7F"/>
<circle cx="458.0" cy="429.3" r="6.4" fill="#62DC40"/>
<circle cx="460.6" cy="425.0" r="6.4" fill="#6BD347"/>
<circle cx="464.5" cy="436.9" r="6.4" fill="#91687A"/>
<circle cx="467.8" cy="445.6" r="6.4" fill="#889F66"/>
<circle cx="460.2" cy="453.1" r="6.4" fill="#91547F"/>
<circle cx="461.7" cy="456.8" r="6.4" fill="#904982"/>
<circle cx="429.9" cy="428.9" r="6.4" fill="#91547F"/>
<circle cx="441.4" cy="435.8" r="6.4" fill="#8B008B"/>
<circle cx="435.3" cy="441.2" r="6.4" fill="#6BD347"/>
<circle cx="421.9" cy="444.5" r="6.4" fill="#6BD347"/>
<circle cx="415.8" cy="449.9" r="6.4" fill="#8B9669"/>
<circle cx="429.9" cy="452.1" r="6.4" fill="#889F66"/>
<circle cx="387.6" cy="434.7" r="6.4" fill="#85A862"/>
<circle cx="416.9" cy="460.7" r="6.4" fill="#915E7C"/>
<circle cx="428.8" cy="466.1" r="6.4" fill="#91687A"/>
<circle cx="415.8" cy="468.3" r="6.4" fill="#8F8470"/>
<circle cx="448.9" cy="469.4" r="6.4" fill="#889F66"/>
<circle cx="363.8" cy="438.0" r="6.4" fill="#8F8470"/>
<circle cx="374.2" cy="441.2" r="6.4" fill="#8F8470"/>
<circle cx="388.7" cy="452.1" r="6.4" fill="#8B008B"/>
<circle cx="375.1" cy="464.4" r="6.4" fill="#917277"/>
<circle cx="553.3" cy="381.7" r="6.4" fill="#85A862"/>
<circle cx="549.0" cy="393.6" r="6.4" fill="#8F8470"/>
<circle cx="557.7" cy="393.6" r="6.4" fill="#91687A"/>
<circle cx="540.3" cy="405.5" r="6.4" fill="#8D8D6D"/>
<circle cx="549.0" cy="403.3" r="6.4" fill="#8B008B"/>
<circle cx="555.5" cy="406.6" r="6.4" fill="#7F7F7F"/>
<circle cx="540.3" cy="417.4" r="6.4" fill="#85A862"/>
<circle cx="541.4" cy="425.0" r="6.4" fill="#85A862"/>
<circle cx="555.5" cy="423.9" r="6.4" fill="#6BD347"/>
<circle cx="557.7" cy="431.5" r="6.4" fill="#915E7C"/>
<circle cx="534.9" cy="433.6" r="6.4" fill="#78C253"/>
<circle cx="528.4" cy="440.1" r="6.4" fill="#72CB4E"/>
<circle cx="521.9" cy="446.6" r="6.4" fill="#6BD347"/>
<circle cx="519.8" cy="453.1" r="6.4" fill="#6BD347"/>
<circle cx="521.9" cy="459.6" r="6.4" fill="#6BD347"/>
<circle cx="526.3" cy="466.1" r="6.4" fill="#6BD347"/>
<circle cx="528.9" cy="461.8" r="6.4" fill="#6BD347"/>
<circle cx="541.4" cy="435.8" r="6.4" fill="#78C253"/>
<circle cx="543.6" cy="442.3" r="6.4" fill="#78C253"/>
<circle cx="534.9" cy="444.5" r="6.4" fill="#72CB4E"/>
<circle cx="530.6" cy="451.0" r="6.4" fill="#6BD347"/>
<circle cx="525.2" cy="455.3" r="6.4" fill="#6BD347"/>
<circle cx="563.1" cy="439.1" r="6.4" fill="#85A862"/>
<circle cx="567.4" cy="448.8" r="6.4" fill="#85A862"/>
<circle cx="541.4" cy="453.1" r="6.4" fill="#91687A"/>
<circle cx="536.0" cy="455.3" r="6.4" fill="#915E7C"/>
<circle cx="555.1" cy="453.8" r="6.4" fill="#8E3086"/>
<circle cx="541.4" cy="462.9" r="6.4" fill="#85A862"/>
<circle cx="578.2" cy="458.5" r="6.4" fill="#915E7C"/>
<circle cx="575.0" cy="461.8" r="6.4" fill="#91687A"/>
<circle cx="582.6" cy="467.2" r="6.4" fill="#6BD347"/>
<circle cx="588.0" cy="472.6" r="6.4" fill="#889F66"/>
<circle cx="586.9" cy="481.3" r="6.4" fill="#6BD347"/>
<circle cx="584.7" cy="485.6" r="6.4" fill="#8B008B"/>
<circle cx="567.4" cy="473.7" r="6.4" fill="#91687A"/>
<circle cx="567.4" cy="483.5" r="6.4" fill="#91687A"/>
<circle cx="560.9" cy="490.0" r="6.4" fill="#85A862"/>
<circle cx="530.6" cy="475.9" r="6.4" fill="#889F66"/>
<circle cx="540.3" cy="477.0" r="6.4" fill="#8B008B"/>
<circle cx="528.4" cy="485.6" r="6.4" fill="#91687A"/>
<circle cx="541.4" cy="485.6" r="6.4" fill="#85A862"/>
<circle cx="669.2" cy="396.8" r="6.4" fill="#85A862"/>
<circle cx="674.6" cy="391.4" r="6.4" fill="#85A862"/>
<circle cx="684.4" cy="388.2" r="6.4" fill="#7F7F7F"/>
<circle cx="688.7" cy="383.4" r="6.4" fill="#8B9669"/>
<circle cx="695.2" cy="383.8" r="6.4" fill="#8B9669"/>
<circle cx="722.3" cy="382.7" r="6.4" fill="#85A862"/>
<circle cx="715.4" cy="389.9" r="6.4" fill="#91547F"/>
<circle cx="732.5" cy="389.2" r="6.4" fill="#8B008B"/>
<circle cx="678.5" cy="415.2" r="6.4" fill="#7F7F7F"/>
<circle cx="654.1" cy="422.8" r="6.4" fill="#889F66"/>
<circle cx="661.6" cy="426.1" r="6.4" fill="#915E7C"/>
<circle cx="663.8" cy="436.9" r="6.4" fill="#6BD347"/>
<circle cx="677.4" cy="447.3" r="6.4" fill="#8F8470"/>
<circle cx="762.4" cy="425.0" r="6.4" fill="#8F8470"/>
<circle cx="706.0" cy="461.4" r="6.4" fill="#8F8470"/>
<circle cx="721.5" cy="24.2" r="6.4" fill="#62DC40"/>
<circle cx="713.5" cy="39.2" r="6.4" fill="#8B9669"/>
<circle cx="713.5" cy="52.5" r="6.4" fill="#91687A"/>
<circle cx="723.5" cy="56.2" r="6.4" fill="#85A862"/>
<circle cx="756.8" cy="42.5" r="6.4" fill="#85A862"/>
<circle cx="768.0" cy="50.0" r="6.4" fill="#7DB959"/>
<circle cx="698.5" cy="71.2" r="6.4" fill="#85A862"/>
<circle cx="706.0" cy="72.0" r="6.4" fill="#889F66"/>
<circle cx="691.0" cy="83.8" r="6.4" fill="#7F7F7F"/>
<circle cx="703.5" cy="85.0" r="6.4" fill="#7F7F7F"/>
<circle cx="709.8" cy="92.5" r="6.4" fill="#7F7F7F"/>
<circle cx="688.5" cy="95.0" r="6.4" fill="#8B008B"/>
<circle cx="678.5" cy="98.8" r="6.4" fill="#6BD347"/>
<circle cx="679.8" cy="106.2" r="6.4" fill="#6BD347"/>
<circle cx="686.0" cy="105.0" r="6.4" fill="#72CB4E"/>
<circle cx="697.2" cy="105.0" r="6.4" fill="#48ED2D"/>
<circle cx="701.0" cy="98.8" r="6.4" fill="#91687A"/>
<circle cx="708.5" cy="101.2" r="6.4" fill="#8F8470"/>
<circle cx="691.0" cy="121.2" r="6.4" fill="#85A862"/>
<circle cx="703.5" cy="116.2" r="6.4" fill="#91687A"/>
<circle cx="729.8" cy="95.0" r="6.4" fill="#91687A"/>
<circle cx="747.2" cy="100.0" r="6.4" fill="#8F8470"/>
<circle cx="738.5" cy="110.5" r="6.4" fill="#889F66"/>
<circle cx="748.5" cy="108.8" r="6.4" fill="#85A862"/>
<circle cx="731.0" cy="110.0" r="6.4" fill="#8E3086"/>
<circle cx="719.8" cy="113.8" r="6.4" fill="#889F66"/>
<circle cx="762.8" cy="97.0" r="6.4" fill="#78C253"/>
<circle cx="783.0" cy="79.5" r="6.4" fill="#85A862"/>
<circle cx="813.5" cy="134.2" r="6.4" fill="#8F8470"/>
<circle cx="711.0" cy="136.2" r="6.4" fill="#8D8D6D"/>
<circle cx="717.2" cy="133.8" r="6.4" fill="#8D8D6D"/>
<circle cx="703.5" cy="148.8" r="6.4" fill="#57E538"/>
<circle cx="736.8" cy="143.8" r="6.4" fill="#6BD347"/>
<circle cx="719.8" cy="157.5" r="6.4" fill="#915E7C"/>
<circle cx="716.0" cy="165.5" r="6.4" fill="#915E7C"/>
<circle cx="736.5" cy="165.8" r="6.4" fill="#889F66"/>
<circle cx="701.0" cy="165.0" r="6.4" fill="#889F66"/>
<circle cx="698.5" cy="180.0" r="6.4" fill="#8D8D6D"/>
<circle cx="727.2" cy="182.0" r="6.4" fill="#91687A"/>
<circle cx="729.8" cy="189.5" r="6.4" fill="#889F66"/>
<circle cx="717.2" cy="199.2" r="6.4" fill="#85A862"/>
<circle cx="779.8" cy="157.0" r="6.4" fill="#889F66"/>
<circle cx="774.8" cy="165.0" r="6.4" fill="#889F66"/>
<circle cx="779.8" cy="179.5" r="6.4" fill="#6BD347"/>
<circle cx="133.3" cy="136.8" r="6.4" fill="#7F7F7F"/>
<circle cx="280.8" cy="46.3" r="6.4" fill="#82B05D"/>
<circle cx="567.2" cy="252.1" r="6.4" fill="#7F7F7F"/>
<circle cx="651.8" cy="214.8" r="6.4" fill="#917277"/>
<circle cx="527.0" cy="510.0" r="6.4" fill="#7F7F7F"/>
<circle cx="547.5" cy="515.5" r="6.4" fill="#889F66"/>
<circle cx="559.2" cy="504.0" r="6.4" fill="#917277"/>
<circle cx="588.4" cy="512.7" r="6.4" fill="#889F66"/>
</g>
<g font-size="26.7" fill="#4D4D4D">
<text x="215.3" y="575.8" text-anchor="middle">-1.0</text>
<text x="360.7" y="575.8" text-anchor="middle">-0.5</text>
<text x="506.1" y="575.8" text-anchor="middle">0.0</text>
<text x="651.5" y="575.8" text-anchor="middle">0.5</text>
<text x="796.9" y="575.8" text-anchor="middle">1.0</text>
<text x="85.3" y="47.9" text-anchor="end">1.0</text>
<text x="85.3" y="162.65" text-anchor="end">0.5</text>
<text x="85.3" y="277.4" text-anchor="end">0.0</text>
<text x="85.3" y="392.15" text-anchor="end">-0.5</text>
<text x="85.3" y="506.9" text-anchor="end">-1.0</text>
</g>
<text x="472.5" y="612.6" font-size="32.5" fill="#000" text-anchor="middle">Dimension 1</text>
<text x="24.2" y="270.2" font-size="33.05" fill="#000" text-anchor="middle" transform="rotate(-90 24.2 270.2)">Dimension 2</text>
<text x="898" y="143.5" font-size="32.5" fill="#000" text-anchor="start">HOMA2B</text>
<rect x="898" y="163.5" width="52" height="261.0" fill="url(#g1)"/>
<g stroke="#fff" stroke-width="1.2" stroke-opacity="0.75">
<line x1="898" y1="184.5" x2="908" y2="184.5"/><line x1="940" y1="184.5" x2="950" y2="184.5"/>
<line x1="898" y1="247" x2="908" y2="247"/><line x1="940" y1="247" x2="950" y2="247"/>
<line x1="898" y1="309.5" x2="908" y2="309.5"/><line x1="940" y1="309.5" x2="950" y2="309.5"/>
<line x1="898" y1="372" x2="908" y2="372"/><line x1="940" y1="372" x2="950" y2="372"/>
</g>
<g font-size="27" fill="#000">
<text x="966" y="195.2" text-anchor="start">200</text>
<text x="966" y="257.7" text-anchor="start">150</text>
<text x="966" y="320.2" text-anchor="start">100</text>
<text x="966" y="382.7" text-anchor="start">50</text>
</g>
<g stroke="#EBEBEB" stroke-width="1.4" fill="none">
<line x1="141.5" y1="653" x2="141.5" y2="1192.5"/>
<line x1="285" y1="653" x2="285" y2="1192.5"/>
<line x1="428.5" y1="653" x2="428.5" y2="1192.5"/>
<line x1="572" y1="653" x2="572" y2="1192.5"/>
<line x1="715.5" y1="653" x2="715.5" y2="1192.5"/>
<line x1="98" y1="748.4" x2="837" y2="748.4"/>
<line x1="98" y1="863.1" x2="837" y2="863.1"/>
<line x1="98" y1="977.9" x2="837" y2="977.9"/>
<line x1="98" y1="1092.6" x2="837" y2="1092.6"/>
</g>
<g stroke="#E8E8E8" stroke-width="2.6" fill="none">
<line x1="213.2" y1="653" x2="213.2" y2="1192.5"/>
<line x1="356.7" y1="653" x2="356.7" y2="1192.5"/>
<line x1="500.2" y1="653" x2="500.2" y2="1192.5"/>
<line x1="643.7" y1="653" x2="643.7" y2="1192.5"/>
<line x1="787.2" y1="653" x2="787.2" y2="1192.5"/>
<line x1="98" y1="691" x2="837" y2="691"/>
<line x1="98" y1="805.75" x2="837" y2="805.75"/>
<line x1="98" y1="920.5" x2="837" y2="920.5"/>
<line x1="98" y1="1035.25" x2="837" y2="1035.25"/>
<line x1="98" y1="1150" x2="837" y2="1150"/>
</g>
<g>
<g fill="#BEBEBE">
<path d="M147.4 793.9L147.5 795.7L148.7 796.4L159.5 793.9L162.1 793.9L171.2 800.2L194.1 798.2L220.0 803.9L230.6 804.1L234.0 806.3L236.5 813.0L239.7 813.7L240.5 813.4L245.2 807.8L247.7 806.9L249.8 807.1L252.5 808.9L263.8 824.7L273.1 832.8L293.4 848.5L303.7 850.5L309.5 852.4L311.4 850.8L311.0 843.9L306.7 831.4L292.3 816.4L284.5 791.2L285.2 775.2L288.9 760.2L292.9 750.3L298.9 737.9L300.6 725.6L296.9 721.4L287.1 719.8L276.6 721.8L265.8 717.6L258.7 717.5L250.8 722.7L248.2 723.3L238.5 719.7L229.9 719.7L220.9 726.9L202.6 738.4L195.1 744.7L190.2 752.4L184.0 757.1L164.8 766.3L152.0 773.7Z"/>
<path d="M155.2 922.3L156.3 923.2L163.0 920.3L173.2 919.0L188.3 921.5L204.9 919.1L222.2 919.0L224.8 919.7L234.8 925.3L246.6 926.4L255.5 920.8L270.8 906.8L286.0 900.4L295.5 898.8L324.1 900.7L342.9 903.5L357.7 908.2L371.0 909.9L379.1 905.3L382.5 905.2L384.7 906.6L399.4 921.4L418.1 923.2L420.8 924.2L433.6 933.6L437.5 942.5L437.3 946.1L435.3 948.5L411.8 961.3L402.9 968.1L400.4 975.3L401.7 982.3L408.1 986.9L418.4 987.3L430.6 986.1L441.4 981.0L447.4 973.7L448.8 964.5L449.6 962.7L453.7 958.4L456.1 957.3L472.8 957.2L491.2 959.1L493.4 960.1L501.7 966.6L502.8 968.5L503.0 971.1L498.5 983.3L497.5 1001.9L494.1 1011.8L492.4 1013.8L483.7 1019.1L475.6 1028.7L477.0 1033.1L487.5 1035.3L495.4 1034.2L503.6 1028.8L532.5 1025.8L535.0 1021.8L532.9 1017.4L529.1 1005.7L526.9 994.3L525.1 979.6L522.2 970.9L522.3 968.7L523.3 966.8L524.9 965.4L526.9 964.7L529.5 964.9L552.2 962.0L572.3 956.2L587.9 949.0L602.2 936.0L626.2 911.0L626.8 906.7L624.0 899.6L623.8 897.4L625.1 894.5L629.2 891.1L629.7 886.9L624.9 882.3L619.4 882.0L613.4 883.5L602.0 895.3L593.0 901.5L569.8 920.6L561.9 929.9L548.7 935.9L539.5 943.5L522.1 950.4L519.5 949.8L517.8 948.4L514.3 941.0L504.5 934.3L488.8 928.1L470.3 909.4L459.1 900.6L443.8 898.7L425.1 894.9L380.0 872.2L340.3 860.1L328.4 863.2L316.4 869.7L312.2 869.6L305.3 875.5L289.4 880.8L276.9 882.0L260.0 882.0L242.2 879.5L229.7 878.7L210.2 876.3L196.2 877.0L179.9 882.3L158.3 890.6L154.4 905.9Z"/>
<path d="M368.2 1079.4L369.1 1080.3L378.3 1079.9L393.2 1087.7L394.4 1090.0L396.4 1102.3L402.6 1112.8L405.5 1121.2L411.4 1122.8L422.6 1120.5L432.4 1117.6L434.5 1118.0L442.5 1122.3L446.4 1117.7L453.2 1113.5L459.7 1107.6L462.2 1099.1L459.1 1080.7L459.9 1068.6L461.3 1066.1L469.5 1057.8L477.4 1047.9L477.5 1047.0L473.4 1043.7L461.3 1043.0L453.1 1048.3L452.1 1056.7L450.9 1059.2L441.9 1066.1L439.6 1067.1L427.7 1065.9L417.8 1063.3L400.7 1062.2L388.4 1057.2L377.4 1060.2L369.5 1067.6L367.8 1076.0Z"/>
<path d="M514.7 1100.6L515.7 1108.8L522.2 1120.6L521.3 1130.0L522.3 1138.9L520.2 1145.4L521.7 1147.1L538.6 1147.2L548.1 1143.9L556.6 1139.0L569.7 1134.5L571.9 1134.3L579.7 1135.7L580.6 1135.3L581.8 1133.0L581.0 1124.9L574.4 1113.4L563.4 1102.0L556.9 1091.0L552.3 1079.4L550.0 1055.9L552.8 1042.2L554.5 1040.1L556.9 1039.0L570.2 1041.8L582.4 1046.6L595.1 1046.9L597.6 1048.5L602.0 1054.6L621.6 1061.5L626.9 1065.5L632.2 1064.3L635.2 1064.9L642.0 1072.9L648.6 1077.7L654.1 1086.2L659.2 1092.8L665.9 1097.2L671.0 1102.0L677.9 1101.2L685.4 1102.7L700.7 1097.1L711.0 1089.9L731.7 1077.0L735.1 1073.7L735.1 1067.9L733.0 1060.5L727.4 1051.3L716.7 1036.6L713.9 1035.4L703.7 1040.1L692.7 1041.3L690.4 1040.8L682.0 1035.8L674.9 1037.5L651.3 1054.6L648.3 1055.7L646.2 1055.4L639.1 1051.8L605.1 1042.7L592.5 1038.2L580.9 1035.8L547.5 1034.7L543.7 1037.6L541.4 1049.9L533.1 1060.2L533.0 1069.8L530.3 1082.4L521.1 1092.0Z"/>
<path d="M655.1 857.3L656.1 859.6L662.9 860.1L684.8 858.4L693.9 847.9L697.2 846.4L700.3 847.1L709.0 853.5L710.8 853.1L716.5 841.9L724.3 834.6L743.6 819.9L746.0 818.8L749.0 819.2L760.5 825.7L765.8 832.6L769.2 833.5L770.0 832.0L767.2 827.4L766.8 824.6L772.3 803.4L773.6 801.8L776.0 800.8L785.4 801.7L788.8 800.0L790.0 791.3L797.9 780.8L799.2 773.2L797.3 765.7L792.0 760.3L786.2 750.1L782.8 741.2L776.1 736.5L770.4 730.0L767.6 725.8L765.0 714.6L760.6 705.8L755.6 700.6L746.5 695.0L740.1 694.9L731.7 689.8L719.9 689.1L717.4 688.3L715.1 685.4L714.3 679.3L713.7 678.6L712.7 678.8L711.4 680.6L703.5 694.4L703.5 702.0L707.0 710.9L706.3 714.4L699.6 719.8L688.4 723.4L679.3 740.6L673.0 748.4L669.1 754.4L669.9 761.4L676.6 763.4L678.7 764.8L679.9 767.1L681.2 773.1L684.8 776.0L695.6 778.2L697.4 779.2L698.8 780.8L699.4 782.9L699.2 785.0L695.0 791.9L695.9 804.4L683.9 828.6L675.6 836.9L666.0 844.2L657.0 853.3Z"/>
<circle cx="187.8" cy="796.2" r="6.4"/>
<circle cx="191.5" cy="755.8" r="6.4"/>
<circle cx="212.8" cy="917.8" r="6.4"/>
<circle cx="278.4" cy="902.3" r="6.4"/>
<circle cx="547.6" cy="938.4" r="6.4"/>
<circle cx="373.2" cy="1078.0" r="6.4"/>
<circle cx="385.7" cy="1081.6" r="6.4"/>
<circle cx="396.4" cy="1087.1" r="6.4"/>
<circle cx="398.6" cy="1095.8" r="6.4"/>
<circle cx="401.9" cy="1103.6" r="6.4"/>
<circle cx="404.2" cy="1111.7" r="6.4"/>
<circle cx="408.2" cy="1118.8" r="6.4"/>
<circle cx="411.2" cy="1119.3" r="6.4"/>
<circle cx="424.1" cy="1116.9" r="6.4"/>
<circle cx="429.0" cy="1114.4" r="6.4"/>
<circle cx="442.7" cy="1117.5" r="6.4"/>
<circle cx="446.2" cy="1116.1" r="6.4"/>
<circle cx="451.7" cy="1109.6" r="6.4"/>
<circle cx="458.9" cy="1104.8" r="6.4"/>
<circle cx="460.9" cy="1097.1" r="6.4"/>
<circle cx="457.7" cy="1091.0" r="6.4"/>
<circle cx="456.0" cy="1079.5" r="6.4"/>
<circle cx="456.8" cy="1068.5" r="6.4"/>
<circle cx="454.5" cy="1052.1" r="6.4"/>
<circle cx="444.9" cy="1065.7" r="6.4"/>
<circle cx="432.3" cy="1070.0" r="6.4"/>
<circle cx="428.8" cy="1067.6" r="6.4"/>
<circle cx="420.9" cy="1067.9" r="6.4"/>
<circle cx="408.3" cy="1065.8" r="6.4"/>
<circle cx="397.6" cy="1065.9" r="6.4"/>
<circle cx="388.2" cy="1061.9" r="6.4"/>
<circle cx="384.8" cy="1061.7" r="6.4"/>
<circle cx="376.3" cy="1065.3" r="6.4"/>
<circle cx="374.3" cy="1068.2" r="6.4"/>
<circle cx="369.0" cy="1075.4" r="6.4"/>
<circle cx="380.3" cy="1080.5" r="6.4"/>
<circle cx="395.0" cy="1091.3" r="6.4"/>
<circle cx="400.1" cy="1108.0" r="6.4"/>
<circle cx="409.0" cy="1122.2" r="6.4"/>
<circle cx="426.4" cy="1119.2" r="6.4"/>
<circle cx="439.2" cy="1120.0" r="6.4"/>
<circle cx="453.0" cy="1113.7" r="6.4"/>
<circle cx="461.6" cy="1100.6" r="6.4"/>
<circle cx="459.1" cy="1081.1" r="6.4"/>
<circle cx="443.8" cy="1065.9" r="6.4"/>
<circle cx="424.7" cy="1065.1" r="6.4"/>
<circle cx="407.9" cy="1062.7" r="6.4"/>
<circle cx="393.3" cy="1059.3" r="6.4"/>
<circle cx="374.6" cy="1062.5" r="6.4"/>
<circle cx="367.7" cy="1077.5" r="6.4"/>
<circle cx="516.7" cy="1107.7" r="6.4"/>
<circle cx="524.5" cy="1119.7" r="6.4"/>
<circle cx="524.6" cy="1124.0" r="6.4"/>
<circle cx="525.9" cy="1136.8" r="6.4"/>
<circle cx="525.4" cy="1137.6" r="6.4"/>
<circle cx="528.2" cy="1143.4" r="6.4"/>
<circle cx="535.6" cy="1144.5" r="6.4"/>
<circle cx="541.3" cy="1142.2" r="6.4"/>
<circle cx="549.5" cy="1139.8" r="6.4"/>
<circle cx="557.0" cy="1134.8" r="6.4"/>
<circle cx="571.3" cy="1131.3" r="6.4"/>
<circle cx="576.9" cy="1134.0" r="6.4"/>
<circle cx="577.8" cy="1129.9" r="6.4"/>
<circle cx="575.7" cy="1119.8" r="6.4"/>
<circle cx="571.3" cy="1114.9" r="6.4"/>
<circle cx="565.4" cy="1109.1" r="6.4"/>
<circle cx="560.8" cy="1099.8" r="6.4"/>
<circle cx="555.2" cy="1093.8" r="6.4"/>
<circle cx="551.3" cy="1084.3" r="6.4"/>
<circle cx="549.0" cy="1077.6" r="6.4"/>
<circle cx="549.0" cy="1065.4" r="6.4"/>
<circle cx="547.1" cy="1055.9" r="6.4"/>
<circle cx="548.5" cy="1049.6" r="6.4"/>
<circle cx="549.1" cy="1039.4" r="6.4"/>
<circle cx="652.1" cy="1079.0" r="6.4"/>
<circle cx="657.9" cy="1088.7" r="6.4"/>
<circle cx="663.2" cy="1093.0" r="6.4"/>
<circle cx="671.9" cy="1096.7" r="6.4"/>
<circle cx="678.8" cy="1098.1" r="6.4"/>
<circle cx="688.1" cy="1098.2" r="6.4"/>
<circle cx="697.8" cy="1097.0" r="6.4"/>
<circle cx="701.7" cy="1093.4" r="6.4"/>
<circle cx="715.6" cy="1084.4" r="6.4"/>
<circle cx="715.3" cy="1085.2" r="6.4"/>
<circle cx="726.0" cy="1079.3" r="6.4"/>
<circle cx="731.9" cy="1074.5" r="6.4"/>
<circle cx="732.4" cy="1064.6" r="6.4"/>
<circle cx="726.5" cy="1056.1" r="6.4"/>
<circle cx="722.4" cy="1051.4" r="6.4"/>
<circle cx="717.1" cy="1040.7" r="6.4"/>
<circle cx="712.2" cy="1038.7" r="6.4"/>
<circle cx="699.1" cy="1043.7" r="6.4"/>
<circle cx="698.7" cy="1041.8" r="6.4"/>
<circle cx="690.8" cy="1043.7" r="6.4"/>
<circle cx="678.1" cy="1039.7" r="6.4"/>
<circle cx="671.3" cy="1041.6" r="6.4"/>
<circle cx="665.0" cy="1049.2" r="6.4"/>
<circle cx="659.8" cy="1050.7" r="6.4"/>
<circle cx="650.0" cy="1059.1" r="6.4"/>
<circle cx="598.2" cy="1041.3" r="6.4"/>
<circle cx="552.2" cy="1036.1" r="6.4"/>
<circle cx="547.8" cy="1036.3" r="6.4"/>
<circle cx="546.1" cy="1046.8" r="6.4"/>
<circle cx="540.8" cy="1057.8" r="6.4"/>
<circle cx="537.7" cy="1060.7" r="6.4"/>
<circle cx="536.0" cy="1064.2" r="6.4"/>
<circle cx="532.2" cy="1082.1" r="6.4"/>
<circle cx="528.3" cy="1086.3" r="6.4"/>
<circle cx="521.3" cy="1094.1" r="6.4"/>
<circle cx="515.9" cy="1101.4" r="6.4"/>
<circle cx="515.1" cy="1103.6" r="6.4"/>
<circle cx="522.6" cy="1120.8" r="6.4"/>
<circle cx="522.4" cy="1140.2" r="6.4"/>
<circle cx="529.6" cy="1147.2" r="6.4"/>
<circle cx="546.4" cy="1144.2" r="6.4"/>
<circle cx="558.8" cy="1138.0" r="6.4"/>
<circle cx="575.1" cy="1134.8" r="6.4"/>
<circle cx="579.0" cy="1121.6" r="6.4"/>
<circle cx="572.0" cy="1111.2" r="6.4"/>
<circle cx="560.2" cy="1097.0" r="6.4"/>
<circle cx="553.1" cy="1081.9" r="6.4"/>
<circle cx="550.3" cy="1063.7" r="6.4"/>
<circle cx="551.8" cy="1045.8" r="6.4"/>
<circle cx="650.5" cy="1079.3" r="6.4"/>
<circle cx="663.9" cy="1095.9" r="6.4"/>
<circle cx="677.6" cy="1100.8" r="6.4"/>
<circle cx="693.1" cy="1100.0" r="6.4"/>
<circle cx="705.5" cy="1093.3" r="6.4"/>
<circle cx="718.8" cy="1083.9" r="6.4"/>
<circle cx="734.5" cy="1074.3" r="6.4"/>
<circle cx="732.0" cy="1059.7" r="6.4"/>
<circle cx="720.5" cy="1042.7" r="6.4"/>
<circle cx="708.3" cy="1039.1" r="6.4"/>
<circle cx="694.1" cy="1041.1" r="6.4"/>
<circle cx="675.4" cy="1038.0" r="6.4"/>
<circle cx="663.0" cy="1045.7" r="6.4"/>
<circle cx="648.3" cy="1055.8" r="6.4"/>
<circle cx="551.7" cy="1035.5" r="6.4"/>
<circle cx="541.9" cy="1048.8" r="6.4"/>
<circle cx="533.6" cy="1061.0" r="6.4"/>
<circle cx="532.0" cy="1074.4" r="6.4"/>
<circle cx="520.5" cy="1093.1" r="6.4"/>
<circle cx="665.3" cy="856.7" r="6.4"/>
<circle cx="704.5" cy="848.9" r="6.4"/>
<circle cx="710.8" cy="851.2" r="6.4"/>
<circle cx="712.6" cy="842.9" r="6.4"/>
<circle cx="717.8" cy="837.0" r="6.4"/>
<circle cx="727.3" cy="831.0" r="6.4"/>
<circle cx="733.7" cy="824.4" r="6.4"/>
<circle cx="742.3" cy="819.7" r="6.4"/>
<circle cx="747.4" cy="815.2" r="6.4"/>
<circle cx="755.4" cy="819.3" r="6.4"/>
<circle cx="762.9" cy="822.7" r="6.4"/>
<circle cx="768.8" cy="832.5" r="6.4"/>
<circle cx="765.5" cy="821.8" r="6.4"/>
<circle cx="765.3" cy="815.8" r="6.4"/>
<circle cx="769.2" cy="808.1" r="6.4"/>
<circle cx="777.5" cy="797.9" r="6.4"/>
<circle cx="786.2" cy="798.8" r="6.4"/>
<circle cx="787.9" cy="793.5" r="6.4"/>
<circle cx="789.8" cy="788.0" r="6.4"/>
<circle cx="797.4" cy="777.1" r="6.4"/>
<circle cx="795.3" cy="773.6" r="6.4"/>
<circle cx="792.4" cy="765.8" r="6.4"/>
<circle cx="787.1" cy="756.1" r="6.4"/>
<circle cx="782.4" cy="746.9" r="6.4"/>
<circle cx="776.5" cy="739.1" r="6.4"/>
<circle cx="769.1" cy="732.8" r="6.4"/>
<circle cx="767.1" cy="726.9" r="6.4"/>
<circle cx="764.7" cy="720.5" r="6.4"/>
<circle cx="760.9" cy="714.7" r="6.4"/>
<circle cx="752.6" cy="700.3" r="6.4"/>
<circle cx="747.6" cy="696.9" r="6.4"/>
<circle cx="740.7" cy="697.6" r="6.4"/>
<circle cx="730.1" cy="693.5" r="6.4"/>
<circle cx="720.8" cy="693.2" r="6.4"/>
<circle cx="712.7" cy="687.5" r="6.4"/>
<circle cx="711.7" cy="682.4" r="6.4"/>
<circle cx="706.7" cy="691.3" r="6.4"/>
<circle cx="705.3" cy="697.6" r="6.4"/>
<circle cx="705.6" cy="700.8" r="6.4"/>
<circle cx="708.2" cy="713.1" r="6.4"/>
<circle cx="703.9" cy="718.9" r="6.4"/>
<circle cx="695.0" cy="722.7" r="6.4"/>
<circle cx="688.2" cy="725.6" r="6.4"/>
<circle cx="685.1" cy="737.4" r="6.4"/>
<circle cx="680.6" cy="741.9" r="6.4"/>
<circle cx="674.7" cy="748.7" r="6.4"/>
<circle cx="672.4" cy="758.5" r="6.4"/>
<circle cx="674.5" cy="760.2" r="6.4"/>
<circle cx="682.9" cy="768.6" r="6.4"/>
<circle cx="688.7" cy="775.4" r="6.4"/>
<circle cx="694.5" cy="774.6" r="6.4"/>
<circle cx="701.7" cy="783.7" r="6.4"/>
<circle cx="700.6" cy="786.3" r="6.4"/>
<circle cx="696.7" cy="797.6" r="6.4"/>
<circle cx="711.7" cy="851.1" r="6.4"/>
<circle cx="721.2" cy="837.2" r="6.4"/>
<circle cx="732.2" cy="828.6" r="6.4"/>
<circle cx="748.0" cy="818.5" r="6.4"/>
<circle cx="764.3" cy="828.9" r="6.4"/>
<circle cx="766.7" cy="826.9" r="6.4"/>
<circle cx="769.7" cy="812.5" r="6.4"/>
<circle cx="780.2" cy="800.6" r="6.4"/>
<circle cx="788.9" cy="793.6" r="6.4"/>
<circle cx="798.8" cy="774.1" r="6.4"/>
<circle cx="793.9" cy="763.6" r="6.4"/>
<circle cx="784.1" cy="744.2" r="6.4"/>
<circle cx="775.9" cy="736.1" r="6.4"/>
<circle cx="765.6" cy="720.5" r="6.4"/>
<circle cx="757.1" cy="702.8" r="6.4"/>
<circle cx="745.7" cy="694.8" r="6.4"/>
<circle cx="728.6" cy="689.7" r="6.4"/>
<circle cx="714.5" cy="680.5" r="6.4"/>
<circle cx="708.8" cy="685.7" r="6.4"/>
<circle cx="703.5" cy="700.7" r="6.4"/>
<circle cx="703.2" cy="717.1" r="6.4"/>
<circle cx="691.3" cy="723.3" r="6.4"/>
<circle cx="678.8" cy="741.0" r="6.4"/>
<circle cx="671.2" cy="750.9" r="6.4"/>
<circle cx="677.9" cy="763.1" r="6.4"/>
<circle cx="688.7" cy="777.0" r="6.4"/>
<circle cx="699.5" cy="784.6" r="6.4"/>
<circle cx="695.9" cy="802.2" r="6.4"/>
<circle cx="803.6" cy="735.5" r="6.4"/>
<circle cx="804.1" cy="750.0" r="6.4"/>
<circle cx="788.8" cy="801.8" r="6.4"/>
<circle cx="757.9" cy="829.2" r="6.4"/>
<circle cx="716.0" cy="685.5" r="6.4"/>
<circle cx="733.3" cy="691.0" r="6.4"/>
<circle cx="755.5" cy="1056.8" r="6.4"/>
<circle cx="734.5" cy="1074.8" r="6.4"/>
</g>
<path fill="#fff" d="M770.0 780.0L773.5 778.6L776.9 780.2L780.9 779.2L781.4 783.5L778.4 786.2L775.0 784.6L771.5 786.0L769.5 783.5Z"/>
<circle cx="391.4" cy="911.8" r="6.4" fill="#8B9669"/>
<circle cx="618.8" cy="890.0" r="6.4" fill="#91547F"/>
<circle cx="401.9" cy="887.3" r="6.4" fill="#6BD347"/>
<circle cx="606.3" cy="892.9" r="6.4" fill="#7F7F7F"/>
<circle cx="187.9" cy="881.8" r="6.4" fill="#72CB4E"/>
<circle cx="226.3" cy="904.4" r="6.4" fill="#82B05D"/>
<circle cx="199.1" cy="890.1" r="6.4" fill="#8B9669"/>
<circle cx="458.5" cy="1063.2" r="6.4" fill="#6BD347"/>
<circle cx="492.4" cy="942.6" r="6.4" fill="#889F66"/>
<circle cx="690.5" cy="824.3" r="6.4" fill="#917277"/>
<circle cx="342.0" cy="901.3" r="6.4" fill="#82B05D"/>
<circle cx="217.2" cy="913.4" r="6.4" fill="#6BD347"/>
<circle cx="471.6" cy="926.6" r="6.4" fill="#8D8D6D"/>
<circle cx="566.3" cy="1039.0" r="6.4" fill="#7F7F7F"/>
<circle cx="193.4" cy="916.1" r="6.4" fill="#889F66"/>
<circle cx="203.4" cy="755.1" r="6.4" fill="#00FF00"/>
<circle cx="400.3" cy="885.7" r="6.4" fill="#85A862"/>
<circle cx="215.5" cy="879.5" r="6.4" fill="#48ED2D"/>
<circle cx="619.5" cy="916.1" r="6.4" fill="#62DC40"/>
<circle cx="207.6" cy="788.5" r="6.4" fill="#78C253"/>
<circle cx="686.1" cy="832.5" r="6.4" fill="#78C253"/>
<circle cx="291.1" cy="882.8" r="6.4" fill="#85A862"/>
<circle cx="522.7" cy="1005.2" r="6.4" fill="#8F8470"/>
<circle cx="578.9" cy="949.4" r="6.4" fill="#82B05D"/>
<circle cx="247.7" cy="898.0" r="6.4" fill="#7DB959"/>
<circle cx="173.6" cy="889.4" r="6.4" fill="#34F61F"/>
<circle cx="478.9" cy="920.7" r="6.4" fill="#62DC40"/>
<circle cx="280.1" cy="723.1" r="6.4" fill="#57E538"/>
<circle cx="274.4" cy="900.9" r="6.4" fill="#7DB959"/>
<circle cx="517.9" cy="960.5" r="6.4" fill="#6BD347"/>
<circle cx="282.1" cy="891.2" r="6.4" fill="#82B05D"/>
<circle cx="214.1" cy="770.0" r="6.4" fill="#34F61F"/>
<circle cx="174.7" cy="896.9" r="6.4" fill="#72CB4E"/>
<circle cx="273.5" cy="797.1" r="6.4" fill="#7F7F7F"/>
<circle cx="253.7" cy="765.3" r="6.4" fill="#62DC40"/>
<circle cx="413.5" cy="985.8" r="6.4" fill="#6BD347"/>
<circle cx="527.5" cy="962.1" r="6.4" fill="#907B74"/>
<circle cx="530.6" cy="949.4" r="6.4" fill="#82B05D"/>
<circle cx="294.4" cy="728.3" r="6.4" fill="#62DC40"/>
<circle cx="502.6" cy="980.5" r="6.4" fill="#82B05D"/>
<circle cx="232.4" cy="793.3" r="6.4" fill="#82B05D"/>
<circle cx="510.2" cy="960.4" r="6.4" fill="#91687A"/>
<circle cx="583.5" cy="1043.1" r="6.4" fill="#85A862"/>
<circle cx="347.5" cy="886.3" r="6.4" fill="#78C253"/>
<circle cx="681.8" cy="847.6" r="6.4" fill="#85A862"/>
<circle cx="210.6" cy="739.2" r="6.4" fill="#72CB4E"/>
<circle cx="171.5" cy="903.0" r="6.4" fill="#78C253"/>
<circle cx="279.9" cy="811.4" r="6.4" fill="#8B9669"/>
<circle cx="397.6" cy="917.6" r="6.4" fill="#8B9669"/>
<circle cx="230.3" cy="880.3" r="6.4" fill="#34F61F"/>
<circle cx="400.4" cy="919.7" r="6.4" fill="#85A862"/>
<circle cx="617.4" cy="884.2" r="6.4" fill="#8B9669"/>
<circle cx="309.3" cy="886.6" r="6.4" fill="#62DC40"/>
<circle cx="528.8" cy="962.5" r="6.4" fill="#915E7C"/>
<circle cx="556.3" cy="934.0" r="6.4" fill="#85A862"/>
<circle cx="593.0" cy="1039.5" r="6.4" fill="#8B9669"/>
<circle cx="195.3" cy="918.4" r="6.4" fill="#85A862"/>
<circle cx="187.3" cy="918.3" r="6.4" fill="#62DC40"/>
<circle cx="189.0" cy="884.6" r="6.4" fill="#7DB959"/>
<circle cx="260.8" cy="909.7" r="6.4" fill="#8F8470"/>
<circle cx="201.6" cy="776.7" r="6.4" fill="#72CB4E"/>
<circle cx="558.7" cy="933.3" r="6.4" fill="#8B9669"/>
<circle cx="525.1" cy="1016.1" r="6.4" fill="#82B05D"/>
<circle cx="466.5" cy="913.6" r="6.4" fill="#91687A"/>
<circle cx="466.9" cy="1051.7" r="6.4" fill="#7DB959"/>
<circle cx="332.3" cy="865.2" r="6.4" fill="#8B9669"/>
<circle cx="208.9" cy="759.7" r="6.4" fill="#78C253"/>
<circle cx="420.4" cy="963.4" r="6.4" fill="#91687A"/>
<circle cx="180.1" cy="885.2" r="6.4" fill="#78C253"/>
<circle cx="271.6" cy="828.7" r="6.4" fill="#62DC40"/>
<circle cx="586.9" cy="1039.2" r="6.4" fill="#62DC40"/>
<circle cx="288.7" cy="814.1" r="6.4" fill="#78C253"/>
<circle cx="216.2" cy="878.5" r="6.4" fill="#7DB959"/>
<circle cx="216.7" cy="738.4" r="6.4" fill="#6BD347"/>
<circle cx="593.6" cy="1044.3" r="6.4" fill="#8D8D6D"/>
<circle cx="319.7" cy="877.3" r="6.4" fill="#62DC40"/>
<circle cx="280.9" cy="786.6" r="6.4" fill="#8D8D6D"/>
<circle cx="503.8" cy="997.7" r="6.4" fill="#889F66"/>
<circle cx="475.1" cy="920.0" r="6.4" fill="#8B008B"/>
<circle cx="377.9" cy="900.6" r="6.4" fill="#62DC40"/>
<circle cx="620.3" cy="887.9" r="6.4" fill="#85A862"/>
<circle cx="356.2" cy="891.8" r="6.4" fill="#85A862"/>
<circle cx="478.9" cy="925.7" r="6.4" fill="#85A862"/>
<circle cx="330.7" cy="898.5" r="6.4" fill="#62DC40"/>
<circle cx="270.9" cy="743.2" r="6.4" fill="#7DB959"/>
<circle cx="263.7" cy="736.4" r="6.4" fill="#34F61F"/>
<circle cx="198.6" cy="912.6" r="6.4" fill="#7DB959"/>
<circle cx="272.5" cy="729.1" r="6.4" fill="#889F66"/>
<circle cx="206.8" cy="793.0" r="6.4" fill="#889F66"/>
<circle cx="680.0" cy="850.1" r="6.4" fill="#907B74"/>
<circle cx="223.1" cy="905.8" r="6.4" fill="#8B008B"/>
<circle cx="343.4" cy="900.4" r="6.4" fill="#7DB959"/>
<circle cx="313.8" cy="898.7" r="6.4" fill="#82B05D"/>
<circle cx="224.3" cy="771.9" r="6.4" fill="#62DC40"/>
<circle cx="445.5" cy="924.7" r="6.4" fill="#7F7F7F"/>
<circle cx="466.1" cy="1058.6" r="6.4" fill="#6BD347"/>
<circle cx="515.0" cy="950.3" r="6.4" fill="#889F66"/>
<circle cx="307.7" cy="886.7" r="6.4" fill="#78C253"/>
<circle cx="524.3" cy="1023.0" r="6.4" fill="#72CB4E"/>
<circle cx="595.3" cy="1042.9" r="6.4" fill="#85A862"/>
<circle cx="463.0" cy="1054.8" r="6.4" fill="#82B05D"/>
<circle cx="437.3" cy="937.8" r="6.4" fill="#8B9669"/>
<circle cx="537.1" cy="946.2" r="6.4" fill="#915E7C"/>
<circle cx="185.4" cy="905.0" r="6.4" fill="#7DB959"/>
<circle cx="372.7" cy="880.6" r="6.4" fill="#889F66"/>
<circle cx="249.3" cy="910.2" r="6.4" fill="#48ED2D"/>
<circle cx="427.6" cy="910.7" r="6.4" fill="#62DC40"/>
<circle cx="516.6" cy="987.4" r="6.4" fill="#8F8470"/>
<circle cx="265.0" cy="885.0" r="6.4" fill="#72CB4E"/>
<circle cx="485.9" cy="937.9" r="6.4" fill="#8D2089"/>
<circle cx="234.0" cy="744.1" r="6.4" fill="#57E538"/>
<circle cx="401.5" cy="920.5" r="6.4" fill="#8B9669"/>
<circle cx="266.8" cy="729.8" r="6.4" fill="#7DB959"/>
<circle cx="240.9" cy="808.6" r="6.4" fill="#62DC40"/>
<circle cx="278.0" cy="806.0" r="6.4" fill="#72CB4E"/>
<circle cx="196.4" cy="766.1" r="6.4" fill="#62DC40"/>
<circle cx="262.7" cy="893.3" r="6.4" fill="#57E538"/>
<circle cx="496.7" cy="1029.6" r="6.4" fill="#85A862"/>
<circle cx="268.4" cy="760.2" r="6.4" fill="#00FF00"/>
<circle cx="208.0" cy="799.4" r="6.4" fill="#62DC40"/>
<circle cx="295.6" cy="724.2" r="6.4" fill="#8B9669"/>
<circle cx="205.7" cy="890.3" r="6.4" fill="#7DB959"/>
<circle cx="332.1" cy="870.6" r="6.4" fill="#91547F"/>
<circle cx="221.7" cy="760.9" r="6.4" fill="#7F7F7F"/>
<circle cx="622.1" cy="895.2" r="6.4" fill="#889F66"/>
<circle cx="476.4" cy="955.9" r="6.4" fill="#889F66"/>
<circle cx="301.9" cy="839.5" r="6.4" fill="#48ED2D"/>
<circle cx="676.9" cy="849.8" r="6.4" fill="#889F66"/>
<circle cx="277.6" cy="810.4" r="6.4" fill="#57E538"/>
<circle cx="362.4" cy="887.1" r="6.4" fill="#62DC40"/>
<circle cx="614.7" cy="906.0" r="6.4" fill="#85A862"/>
<circle cx="282.8" cy="756.8" r="6.4" fill="#72CB4E"/>
<circle cx="416.2" cy="969.9" r="6.4" fill="#889F66"/>
<circle cx="440.6" cy="942.7" r="6.4" fill="#6BD347"/>
<circle cx="343.0" cy="863.8" r="6.4" fill="#8F8470"/>
<circle cx="524.7" cy="992.4" r="6.4" fill="#907B74"/>
<circle cx="245.3" cy="890.5" r="6.4" fill="#78C253"/>
<circle cx="406.8" cy="900.0" r="6.4" fill="#91687A"/>
<circle cx="512.7" cy="1023.7" r="6.4" fill="#85A862"/>
<circle cx="231.6" cy="917.8" r="6.4" fill="#8B9669"/>
<circle cx="613.5" cy="1055.5" r="6.4" fill="#904982"/>
<circle cx="351.2" cy="867.3" r="6.4" fill="#82B05D"/>
<circle cx="248.0" cy="761.3" r="6.4" fill="#6BD347"/>
<circle cx="224.5" cy="729.7" r="6.4" fill="#62DC40"/>
<circle cx="285.4" cy="756.2" r="6.4" fill="#48ED2D"/>
<circle cx="464.8" cy="937.1" r="6.4" fill="#91687A"/>
<circle cx="383.7" cy="880.7" r="6.4" fill="#82B05D"/>
<circle cx="589.7" cy="943.6" r="6.4" fill="#8D8D6D"/>
<circle cx="251.0" cy="889.5" r="6.4" fill="#78C253"/>
<circle cx="444.4" cy="944.8" r="6.4" fill="#917277"/>
<circle cx="529.2" cy="1011.2" r="6.4" fill="#78C253"/>
<circle cx="301.4" cy="896.2" r="6.4" fill="#82B05D"/>
<circle cx="620.1" cy="1057.7" r="6.4" fill="#889F66"/>
<circle cx="336.4" cy="871.0" r="6.4" fill="#7DB959"/>
<circle cx="587.5" cy="922.6" r="6.4" fill="#85A862"/>
<circle cx="266.7" cy="795.4" r="6.4" fill="#62DC40"/>
<circle cx="227.4" cy="916.2" r="6.4" fill="#889F66"/>
<circle cx="421.7" cy="911.5" r="6.4" fill="#78C253"/>
<circle cx="279.3" cy="808.7" r="6.4" fill="#6BD347"/>
<circle cx="600.0" cy="912.7" r="6.4" fill="#72CB4E"/>
<circle cx="462.7" cy="950.5" r="6.4" fill="#889F66"/>
<circle cx="639.5" cy="1057.0" r="6.4" fill="#889F66"/>
<circle cx="508.9" cy="960.4" r="6.4" fill="#78C253"/>
<circle cx="184.7" cy="758.1" r="6.4" fill="#48ED2D"/>
<circle cx="174.9" cy="782.5" r="6.4" fill="#72CB4E"/>
<circle cx="234.7" cy="770.7" r="6.4" fill="#72CB4E"/>
<circle cx="243.8" cy="774.5" r="6.4" fill="#62DC40"/>
<circle cx="424.8" cy="904.4" r="6.4" fill="#7F7F7F"/>
<circle cx="370.6" cy="899.0" r="6.4" fill="#907B74"/>
<circle cx="205.2" cy="910.9" r="6.4" fill="#6BD347"/>
<circle cx="232.3" cy="767.5" r="6.4" fill="#57E538"/>
<circle cx="625.3" cy="886.3" r="6.4" fill="#85A862"/>
<circle cx="273.5" cy="889.2" r="6.4" fill="#78C253"/>
<circle cx="505.0" cy="1022.2" r="6.4" fill="#57E538"/>
<circle cx="444.7" cy="974.9" r="6.4" fill="#7F7F7F"/>
<circle cx="302.7" cy="844.5" r="6.4" fill="#889F66"/>
<circle cx="219.2" cy="730.3" r="6.4" fill="#72CB4E"/>
<circle cx="211.6" cy="754.8" r="6.4" fill="#62DC40"/>
<circle cx="391.3" cy="897.8" r="6.4" fill="#6BD347"/>
<circle cx="427.2" cy="983.5" r="6.4" fill="#85A862"/>
<circle cx="171.8" cy="894.5" r="6.4" fill="#78C253"/>
<circle cx="188.4" cy="788.1" r="6.4" fill="#907B74"/>
<circle cx="230.4" cy="793.8" r="6.4" fill="#6BD347"/>
<circle cx="450.1" cy="953.1" r="6.4" fill="#85A862"/>
<circle cx="508.7" cy="979.9" r="6.4" fill="#48ED2D"/>
<circle cx="350.5" cy="887.0" r="6.4" fill="#889F66"/>
<circle cx="438.0" cy="937.5" r="6.4" fill="#57E538"/>
<circle cx="211.7" cy="878.1" r="6.4" fill="#82B05D"/>
<circle cx="551.1" cy="961.0" r="6.4" fill="#889F66"/>
<circle cx="195.5" cy="773.2" r="6.4" fill="#82B05D"/>
<circle cx="268.7" cy="803.2" r="6.4" fill="#48ED2D"/>
<circle cx="177.3" cy="891.2" r="6.4" fill="#78C253"/>
<circle cx="253.2" cy="745.2" r="6.4" fill="#62DC40"/>
<circle cx="218.1" cy="785.6" r="6.4" fill="#48ED2D"/>
<circle cx="239.1" cy="885.8" r="6.4" fill="#889F66"/>
<circle cx="378.6" cy="874.8" r="6.4" fill="#7DB959"/>
<circle cx="616.0" cy="884.9" r="6.4" fill="#889F66"/>
<circle cx="578.3" cy="927.6" r="6.4" fill="#6BD347"/>
<circle cx="590.5" cy="905.0" r="6.4" fill="#8B9669"/>
<circle cx="286.1" cy="840.9" r="6.4" fill="#8D8D6D"/>
<circle cx="415.1" cy="984.9" r="6.4" fill="#82B05D"/>
<circle cx="333.6" cy="899.3" r="6.4" fill="#889F66"/>
<circle cx="684.0" cy="835.3" r="6.4" fill="#78C253"/>
<circle cx="286.1" cy="818.8" r="6.4" fill="#85A862"/>
<circle cx="355.3" cy="865.6" r="6.4" fill="#48ED2D"/>
<circle cx="563.9" cy="936.8" r="6.4" fill="#917277"/>
<circle cx="433.8" cy="958.4" r="6.4" fill="#8B008B"/>
<circle cx="355.3" cy="904.4" r="6.4" fill="#7DB959"/>
<circle cx="586.2" cy="915.8" r="6.4" fill="#7F7F7F"/>
<circle cx="518.3" cy="989.6" r="6.4" fill="#7F7F7F"/>
<circle cx="657.6" cy="854.7" r="6.4" fill="#8D8D6D"/>
<circle cx="189.9" cy="916.3" r="6.4" fill="#6BD347"/>
<circle cx="386.1" cy="900.3" r="6.4" fill="#82B05D"/>
<circle cx="546.8" cy="961.2" r="6.4" fill="#8B9669"/>
<circle cx="440.7" cy="934.6" r="6.4" fill="#6BD347"/>
<circle cx="390.3" cy="881.4" r="6.4" fill="#8B9669"/>
<circle cx="424.6" cy="976.5" r="6.4" fill="#82B05D"/>
<circle cx="357.2" cy="886.0" r="6.4" fill="#78C253"/>
<circle cx="170.8" cy="768.0" r="6.4" fill="#6BD347"/>
<circle cx="388.9" cy="901.2" r="6.4" fill="#62DC40"/>
<circle cx="522.0" cy="980.2" r="6.4" fill="#82B05D"/>
<circle cx="490.1" cy="946.7" r="6.4" fill="#889F66"/>
<circle cx="240.0" cy="731.1" r="6.4" fill="#62DC40"/>
<circle cx="570.0" cy="932.4" r="6.4" fill="#72CB4E"/>
<circle cx="465.1" cy="940.9" r="6.4" fill="#72CB4E"/>
<circle cx="199.6" cy="787.5" r="6.4" fill="#72CB4E"/>
<circle cx="304.5" cy="847.2" r="6.4" fill="#57E538"/>
<circle cx="210.7" cy="737.0" r="6.4" fill="#62DC40"/>
<circle cx="415.9" cy="907.1" r="6.4" fill="#72CB4E"/>
<circle cx="355.9" cy="869.2" r="6.4" fill="#72CB4E"/>
<circle cx="330.1" cy="868.5" r="6.4" fill="#907B74"/>
<circle cx="488.2" cy="1033.4" r="6.4" fill="#907B74"/>
<circle cx="244.5" cy="915.5" r="6.4" fill="#82B05D"/>
<circle cx="625.1" cy="888.1" r="6.4" fill="#57E538"/>
<circle cx="566.8" cy="954.7" r="6.4" fill="#8F8470"/>
<circle cx="439.2" cy="953.5" r="6.4" fill="#82B05D"/>
<circle cx="220.0" cy="759.6" r="6.4" fill="#7DB959"/>
<circle cx="185.5" cy="796.0" r="6.4" fill="#889F66"/>
<circle cx="567.2" cy="928.1" r="6.4" fill="#8D8D6D"/>
<circle cx="341.8" cy="884.8" r="6.4" fill="#85A862"/>
<circle cx="283.0" cy="738.4" r="6.4" fill="#72CB4E"/>
<circle cx="461.3" cy="943.5" r="6.4" fill="#72CB4E"/>
<circle cx="694.8" cy="810.3" r="6.4" fill="#85A862"/>
<circle cx="336.4" cy="894.3" r="6.4" fill="#72CB4E"/>
<circle cx="254.9" cy="806.2" r="6.4" fill="#6BD347"/>
<circle cx="513.9" cy="984.7" r="6.4" fill="#72CB4E"/>
<circle cx="211.5" cy="908.8" r="6.4" fill="#34F61F"/>
<circle cx="241.1" cy="730.3" r="6.4" fill="#34F61F"/>
<circle cx="500.8" cy="936.6" r="6.4" fill="#82B05D"/>
<circle cx="464.7" cy="1053.0" r="6.4" fill="#8B9669"/>
<circle cx="224.9" cy="880.1" r="6.4" fill="#917277"/>
<circle cx="555.5" cy="948.3" r="6.4" fill="#7F7F7F"/>
<circle cx="216.1" cy="895.6" r="6.4" fill="#7F7F7F"/>
<circle cx="259.7" cy="792.1" r="6.4" fill="#34F61F"/>
<circle cx="680.2" cy="839.6" r="6.4" fill="#72CB4E"/>
<circle cx="471.1" cy="1047.5" r="6.4" fill="#82B05D"/>
<circle cx="507.6" cy="947.6" r="6.4" fill="#8B008B"/>
<circle cx="674.8" cy="840.2" r="6.4" fill="#8F8470"/>
<circle cx="220.3" cy="759.8" r="6.4" fill="#72CB4E"/>
<circle cx="403.0" cy="973.3" r="6.4" fill="#904982"/>
<circle cx="276.6" cy="796.8" r="6.4" fill="#82B05D"/>
<circle cx="151.5" cy="789.4" r="6.4" fill="#82B05D"/>
<circle cx="261.2" cy="801.2" r="6.4" fill="#34F61F"/>
<circle cx="219.3" cy="771.7" r="6.4" fill="#48ED2D"/>
<circle cx="602.5" cy="1052.3" r="6.4" fill="#7F7F7F"/>
<circle cx="258.5" cy="898.8" r="6.4" fill="#7DB959"/>
<circle cx="215.0" cy="906.6" r="6.4" fill="#85A862"/>
<circle cx="437.9" cy="940.8" r="6.4" fill="#57E538"/>
<circle cx="164.8" cy="905.8" r="6.4" fill="#34F61F"/>
<circle cx="214.9" cy="911.9" r="6.4" fill="#57E538"/>
<circle cx="278.3" cy="742.2" r="6.4" fill="#62DC40"/>
<circle cx="196.9" cy="915.4" r="6.4" fill="#78C253"/>
<circle cx="244.5" cy="890.5" r="6.4" fill="#6BD347"/>
<circle cx="517.1" cy="1009.6" r="6.4" fill="#8D8D6D"/>
<circle cx="247.3" cy="790.9" r="6.4" fill="#62DC40"/>
<circle cx="285.0" cy="770.2" r="6.4" fill="#62DC40"/>
<circle cx="279.1" cy="899.8" r="6.4" fill="#72CB4E"/>
<circle cx="594.5" cy="941.2" r="6.4" fill="#7DB959"/>
<circle cx="630.5" cy="1061.3" r="6.4" fill="#8B9669"/>
<circle cx="260.4" cy="896.8" r="6.4" fill="#6BD347"/>
<circle cx="406.9" cy="901.5" r="6.4" fill="#7F7F7F"/>
<circle cx="304.7" cy="831.0" r="6.4" fill="#72CB4E"/>
<circle cx="423.2" cy="984.5" r="6.4" fill="#85A862"/>
<circle cx="612.2" cy="910.5" r="6.4" fill="#917277"/>
<circle cx="203.8" cy="746.7" r="6.4" fill="#6BD347"/>
<circle cx="223.5" cy="915.6" r="6.4" fill="#82B05D"/>
<circle cx="268.5" cy="799.3" r="6.4" fill="#6BD347"/>
<circle cx="499.7" cy="990.9" r="6.4" fill="#7F7F7F"/>
<circle cx="421.0" cy="961.9" r="6.4" fill="#7F7F7F"/>
<circle cx="446.8" cy="910.3" r="6.4" fill="#6BD347"/>
<circle cx="187.7" cy="765.5" r="6.4" fill="#6BD347"/>
<circle cx="416.6" cy="974.1" r="6.4" fill="#78C253"/>
<circle cx="508.4" cy="983.7" r="6.4" fill="#8F8470"/>
<circle cx="178.5" cy="798.9" r="6.4" fill="#7F7F7F"/>
<circle cx="334.8" cy="898.1" r="6.4" fill="#85A862"/>
<circle cx="193.2" cy="907.2" r="6.4" fill="#48ED2D"/>
<circle cx="620.7" cy="894.6" r="6.4" fill="#8F8470"/>
<circle cx="579.1" cy="915.1" r="6.4" fill="#917277"/>
<circle cx="486.4" cy="939.3" r="6.4" fill="#72CB4E"/>
<circle cx="509.9" cy="967.3" r="6.4" fill="#72CB4E"/>
<circle cx="173.0" cy="764.1" r="6.4" fill="#72CB4E"/>
<circle cx="518.2" cy="1004.1" r="6.4" fill="#8F8470"/>
<circle cx="254.3" cy="764.9" r="6.4" fill="#85A862"/>
<circle cx="433.2" cy="905.3" r="6.4" fill="#6BD347"/>
<circle cx="508.8" cy="978.7" r="6.4" fill="#8B008B"/>
<circle cx="236.3" cy="908.9" r="6.4" fill="#7F7F7F"/>
<circle cx="521.9" cy="1022.5" r="6.4" fill="#78C253"/>
<circle cx="508.7" cy="979.3" r="6.4" fill="#917277"/>
<circle cx="338.2" cy="884.0" r="6.4" fill="#82B05D"/>
<circle cx="298.1" cy="730.4" r="6.4" fill="#78C253"/>
<circle cx="272.8" cy="892.6" r="6.4" fill="#91547F"/>
<circle cx="222.2" cy="759.3" r="6.4" fill="#72CB4E"/>
<circle cx="258.6" cy="813.6" r="6.4" fill="#85A862"/>
<circle cx="228.0" cy="895.1" r="6.4" fill="#72CB4E"/>
<circle cx="305.9" cy="838.9" r="6.4" fill="#7DB959"/>
<circle cx="197.8" cy="879.5" r="6.4" fill="#78C253"/>
<circle cx="541.2" cy="944.1" r="6.4" fill="#91547F"/>
<circle cx="610.5" cy="1054.5" r="6.4" fill="#915E7C"/>
<circle cx="263.8" cy="742.5" r="6.4" fill="#6BD347"/>
<circle cx="585.3" cy="920.2" r="6.4" fill="#78C253"/>
<circle cx="332.7" cy="897.8" r="6.4" fill="#85A862"/>
<circle cx="372.3" cy="898.2" r="6.4" fill="#7DB959"/>
<circle cx="234.6" cy="922.8" r="6.4" fill="#7DB959"/>
<circle cx="265.3" cy="818.9" r="6.4" fill="#78C253"/>
<circle cx="489.7" cy="1020.3" r="6.4" fill="#889F66"/>
<circle cx="378.5" cy="875.9" r="6.4" fill="#6BD347"/>
<circle cx="567.5" cy="949.1" r="6.4" fill="#904982"/>
<circle cx="494.5" cy="931.8" r="6.4" fill="#85A862"/>
<circle cx="443.6" cy="947.8" r="6.4" fill="#85A862"/>
<circle cx="476.4" cy="1047.1" r="6.4" fill="#82B05D"/>
<circle cx="297.0" cy="885.4" r="6.4" fill="#34F61F"/>
<circle cx="510.5" cy="959.9" r="6.4" fill="#7F7F7F"/>
<circle cx="568.0" cy="953.0" r="6.4" fill="#85A862"/>
<circle cx="284.4" cy="799.2" r="6.4" fill="#7DB959"/>
<circle cx="691.0" cy="844.3" r="6.4" fill="#82B05D"/>
<circle cx="479.8" cy="940.9" r="6.4" fill="#85A862"/>
<circle cx="368.1" cy="886.3" r="6.4" fill="#889F66"/>
<circle cx="170.6" cy="895.5" r="6.4" fill="#62DC40"/>
<circle cx="199.9" cy="763.9" r="6.4" fill="#72CB4E"/>
<circle cx="376.9" cy="893.4" r="6.4" fill="#78C253"/>
<circle cx="364.9" cy="882.6" r="6.4" fill="#62DC40"/>
<circle cx="663.7" cy="850.6" r="6.4" fill="#78C253"/>
<circle cx="447.1" cy="901.9" r="6.4" fill="#34F61F"/>
<circle cx="601.1" cy="925.8" r="6.4" fill="#85A862"/>
<circle cx="279.8" cy="835.9" r="6.4" fill="#6BD347"/>
<circle cx="169.4" cy="795.6" r="6.4" fill="#48ED2D"/>
<circle cx="419.9" cy="919.5" r="6.4" fill="#7F7F7F"/>
<circle cx="350.7" cy="865.6" r="6.4" fill="#91687A"/>
<circle cx="264.0" cy="821.3" r="6.4" fill="#78C253"/>
<circle cx="215.0" cy="737.7" r="6.4" fill="#7DB959"/>
<circle cx="507.6" cy="973.9" r="6.4" fill="#8B9669"/>
<circle cx="491.3" cy="1018.7" r="6.4" fill="#85A862"/>
<circle cx="218.6" cy="800.8" r="6.4" fill="#78C253"/>
<circle cx="425.1" cy="955.5" r="6.4" fill="#78C253"/>
<circle cx="305.5" cy="836.6" r="6.4" fill="#6BD347"/>
<circle cx="212.4" cy="902.3" r="6.4" fill="#85A862"/>
<circle cx="200.2" cy="879.6" r="6.4" fill="#82B05D"/>
<circle cx="419.0" cy="905.9" r="6.4" fill="#78C253"/>
<circle cx="591.7" cy="904.5" r="6.4" fill="#6BD347"/>
<circle cx="483.5" cy="947.8" r="6.4" fill="#72CB4E"/>
<circle cx="593.0" cy="925.6" r="6.4" fill="#889F66"/>
<circle cx="626.1" cy="1056.1" r="6.4" fill="#8B008B"/>
<circle cx="199.1" cy="752.7" r="6.4" fill="#78C253"/>
<circle cx="203.2" cy="916.9" r="6.4" fill="#48ED2D"/>
<circle cx="265.0" cy="778.2" r="6.4" fill="#85A862"/>
<circle cx="329.0" cy="864.9" r="6.4" fill="#82B05D"/>
<circle cx="169.2" cy="907.8" r="6.4" fill="#78C253"/>
<circle cx="286.6" cy="721.1" r="6.4" fill="#6BD347"/>
<circle cx="192.8" cy="887.4" r="6.4" fill="#72CB4E"/>
<circle cx="456.7" cy="918.2" r="6.4" fill="#57E538"/>
<circle cx="350.2" cy="903.8" r="6.4" fill="#8F8470"/>
<circle cx="223.9" cy="886.2" r="6.4" fill="#85A862"/>
<circle cx="252.6" cy="891.0" r="6.4" fill="#62DC40"/>
<circle cx="439.1" cy="938.7" r="6.4" fill="#91687A"/>
<circle cx="291.3" cy="823.7" r="6.4" fill="#85A862"/>
<circle cx="202.4" cy="749.0" r="6.4" fill="#7F7F7F"/>
<circle cx="159.9" cy="919.8" r="6.4" fill="#34F61F"/>
<circle cx="251.0" cy="886.1" r="6.4" fill="#85A862"/>
<circle cx="430.8" cy="923.9" r="6.4" fill="#82B05D"/>
<circle cx="465.4" cy="950.6" r="6.4" fill="#8B9669"/>
<circle cx="257.0" cy="917.6" r="6.4" fill="#00FF00"/>
<circle cx="506.1" cy="958.2" r="6.4" fill="#78C253"/>
<circle cx="404.3" cy="908.8" r="6.4" fill="#6BD347"/>
<circle cx="358.6" cy="889.6" r="6.4" fill="#8B008B"/>
<circle cx="588.8" cy="923.9" r="6.4" fill="#8D8D6D"/>
<circle cx="420.6" cy="894.8" r="6.4" fill="#6BD347"/>
<circle cx="362.4" cy="902.2" r="6.4" fill="#6BD347"/>
<circle cx="580.4" cy="917.0" r="6.4" fill="#82B05D"/>
<circle cx="408.9" cy="967.1" r="6.4" fill="#82B05D"/>
<circle cx="523.5" cy="986.6" r="6.4" fill="#907B74"/>
<circle cx="422.4" cy="964.8" r="6.4" fill="#91547F"/>
<circle cx="478.6" cy="928.0" r="6.4" fill="#91687A"/>
<circle cx="335.4" cy="888.6" r="6.4" fill="#85A862"/>
<circle cx="302.5" cy="847.9" r="6.4" fill="#48ED2D"/>
<circle cx="597.4" cy="900.4" r="6.4" fill="#889F66"/>
<circle cx="350.4" cy="882.2" r="6.4" fill="#889F66"/>
<circle cx="264.8" cy="824.1" r="6.4" fill="#62DC40"/>
<circle cx="274.2" cy="904.2" r="6.4" fill="#62DC40"/>
<circle cx="493.1" cy="1032.3" r="6.4" fill="#889F66"/>
<circle cx="437.8" cy="934.9" r="6.4" fill="#915E7C"/>
<circle cx="329.5" cy="891.5" r="6.4" fill="#6BD347"/>
<circle cx="267.8" cy="907.2" r="6.4" fill="#7F7F7F"/>
<circle cx="513.6" cy="1013.2" r="6.4" fill="#904982"/>
<circle cx="408.4" cy="908.9" r="6.4" fill="#8B008B"/>
<circle cx="271.7" cy="805.5" r="6.4" fill="#57E538"/>
<circle cx="529.7" cy="1011.0" r="6.4" fill="#8B008B"/>
<circle cx="354.8" cy="878.6" r="6.4" fill="#6BD347"/>
<circle cx="431.4" cy="953.4" r="6.4" fill="#889F66"/>
<circle cx="266.0" cy="891.3" r="6.4" fill="#72CB4E"/>
<circle cx="464.4" cy="1054.2" r="6.4" fill="#889F66"/>
<circle cx="445.7" cy="966.1" r="6.4" fill="#8F8470"/>
<circle cx="198.1" cy="779.9" r="6.4" fill="#82B05D"/>
<circle cx="401.9" cy="918.4" r="6.4" fill="#8B9669"/>
<circle cx="486.4" cy="952.3" r="6.4" fill="#7F7F7F"/>
<circle cx="333.9" cy="883.1" r="6.4" fill="#907B74"/>
<circle cx="267.6" cy="758.0" r="6.4" fill="#72CB4E"/>
<circle cx="158.6" cy="894.7" r="6.4" fill="#7DB959"/>
<circle cx="264.2" cy="910.3" r="6.4" fill="#62DC40"/>
<circle cx="587.2" cy="916.0" r="6.4" fill="#7F7F7F"/>
<circle cx="454.8" cy="903.2" r="6.4" fill="#8B9669"/>
<circle cx="418.1" cy="914.3" r="6.4" fill="#34F61F"/>
<circle cx="473.0" cy="914.0" r="6.4" fill="#78C253"/>
<circle cx="395.9" cy="912.5" r="6.4" fill="#889F66"/>
<circle cx="254.6" cy="907.2" r="6.4" fill="#62DC40"/>
<circle cx="254.2" cy="725.7" r="6.4" fill="#62DC40"/>
<circle cx="602.4" cy="906.3" r="6.4" fill="#7DB959"/>
<circle cx="598.5" cy="1046.4" r="6.4" fill="#8D8D6D"/>
<circle cx="621.2" cy="1060.1" r="6.4" fill="#7DB959"/>
<circle cx="505.7" cy="1005.0" r="6.4" fill="#907B74"/>
<circle cx="153.0" cy="775.1" r="6.4" fill="#6BD347"/>
<circle cx="444.9" cy="967.2" r="6.4" fill="#91547F"/>
<circle cx="251.1" cy="914.3" r="6.4" fill="#62DC40"/>
<circle cx="491.9" cy="1027.3" r="6.4" fill="#62DC40"/>
<circle cx="267.4" cy="720.1" r="6.4" fill="#85A862"/>
<circle cx="526.4" cy="1002.6" r="6.4" fill="#8B008B"/>
<circle cx="243.7" cy="894.7" r="6.4" fill="#48ED2D"/>
<circle cx="681.3" cy="851.0" r="6.4" fill="#85A862"/>
<circle cx="425.2" cy="970.9" r="6.4" fill="#91547F"/>
<circle cx="190.7" cy="759.5" r="6.4" fill="#7F7F7F"/>
<circle cx="186.3" cy="770.5" r="6.4" fill="#78C253"/>
<circle cx="614.7" cy="1046.4" r="6.4" fill="#82B05D"/>
<circle cx="237.2" cy="886.9" r="6.4" fill="#889F66"/>
<circle cx="509.7" cy="958.4" r="6.4" fill="#82B05D"/>
<circle cx="512.7" cy="999.0" r="6.4" fill="#82B05D"/>
<circle cx="180.1" cy="916.7" r="6.4" fill="#62DC40"/>
<circle cx="323.9" cy="868.7" r="6.4" fill="#85A862"/>
<circle cx="299.7" cy="839.1" r="6.4" fill="#62DC40"/>
<circle cx="183.3" cy="911.3" r="6.4" fill="#7DB959"/>
<circle cx="687.2" cy="830.1" r="6.4" fill="#8B008B"/>
<circle cx="287.1" cy="760.8" r="6.4" fill="#82B05D"/>
<circle cx="158.9" cy="912.4" r="6.4" fill="#34F61F"/>
<circle cx="218.8" cy="909.8" r="6.4" fill="#6BD347"/>
<circle cx="304.4" cy="833.4" r="6.4" fill="#7DB959"/>
<circle cx="524.8" cy="952.3" r="6.4" fill="#91687A"/>
<circle cx="451.3" cy="917.9" r="6.4" fill="#8D8D6D"/>
<circle cx="384.8" cy="901.0" r="6.4" fill="#8B008B"/>
<circle cx="438.8" cy="924.8" r="6.4" fill="#62DC40"/>
<circle cx="404.5" cy="979.3" r="6.4" fill="#85A862"/>
<circle cx="434.1" cy="977.9" r="6.4" fill="#85A862"/>
<circle cx="202.0" cy="758.9" r="6.4" fill="#85A862"/>
<circle cx="619.4" cy="1057.6" r="6.4" fill="#85A862"/>
<circle cx="216.8" cy="915.7" r="6.4" fill="#48ED2D"/>
<circle cx="612.9" cy="885.6" r="6.4" fill="#8F8470"/>
<circle cx="260.0" cy="884.9" r="6.4" fill="#78C253"/>
<circle cx="179.6" cy="762.3" r="6.4" fill="#48ED2D"/>
<circle cx="688.0" cy="825.0" r="6.4" fill="#889F66"/>
<circle cx="351.7" cy="893.4" r="6.4" fill="#85A862"/>
<circle cx="199.4" cy="918.0" r="6.4" fill="#85A862"/>
<circle cx="182.8" cy="783.7" r="6.4" fill="#72CB4E"/>
<circle cx="187.5" cy="889.6" r="6.4" fill="#62DC40"/>
<circle cx="206.1" cy="904.8" r="6.4" fill="#62DC40"/>
<circle cx="685.8" cy="830.2" r="6.4" fill="#907B74"/>
<circle cx="444.1" cy="956.9" r="6.4" fill="#85A862"/>
<circle cx="465.2" cy="938.8" r="6.4" fill="#57E538"/>
<circle cx="513.6" cy="954.1" r="6.4" fill="#8F8470"/>
<circle cx="187.1" cy="778.2" r="6.4" fill="#85A862"/>
<circle cx="209.7" cy="795.6" r="6.4" fill="#78C253"/>
<circle cx="517.4" cy="984.9" r="6.4" fill="#8F8470"/>
<circle cx="551.4" cy="956.5" r="6.4" fill="#78C253"/>
<circle cx="274.1" cy="891.8" r="6.4" fill="#82B05D"/>
<circle cx="482.2" cy="932.7" r="6.4" fill="#8F8470"/>
<circle cx="322.1" cy="894.8" r="6.4" fill="#57E538"/>
<circle cx="527.3" cy="953.4" r="6.4" fill="#82B05D"/>
<circle cx="277.2" cy="826.5" r="6.4" fill="#7DB959"/>
<circle cx="543.2" cy="943.4" r="6.4" fill="#8F8470"/>
<circle cx="615.6" cy="893.7" r="6.4" fill="#7F7F7F"/>
<circle cx="227.6" cy="901.5" r="6.4" fill="#7DB959"/>
<circle cx="186.2" cy="885.5" r="6.4" fill="#85A862"/>
<circle cx="458.3" cy="1052.1" r="6.4" fill="#78C253"/>
<circle cx="505.5" cy="1004.7" r="6.4" fill="#889F66"/>
<circle cx="198.7" cy="879.6" r="6.4" fill="#78C253"/>
<circle cx="282.8" cy="758.2" r="6.4" fill="#48ED2D"/>
<circle cx="463.9" cy="906.8" r="6.4" fill="#57E538"/>
<circle cx="416.7" cy="966.9" r="6.4" fill="#7DB959"/>
<circle cx="268.4" cy="786.9" r="6.4" fill="#48ED2D"/>
<circle cx="437.8" cy="980.5" r="6.4" fill="#78C253"/>
<circle cx="434.5" cy="970.6" r="6.4" fill="#915E7C"/>
<circle cx="413.5" cy="904.4" r="6.4" fill="#62DC40"/>
<circle cx="474.1" cy="936.5" r="6.4" fill="#72CB4E"/>
<circle cx="587.4" cy="924.7" r="6.4" fill="#8B9669"/>
<circle cx="172.9" cy="903.3" r="6.4" fill="#7DB959"/>
<circle cx="464.7" cy="943.6" r="6.4" fill="#6BD347"/>
<circle cx="686.2" cy="855.6" r="6.4" fill="#8D8D6D"/>
<circle cx="168.0" cy="776.8" r="6.4" fill="#82B05D"/>
<circle cx="243.7" cy="805.3" r="6.4" fill="#6BD347"/>
<circle cx="588.2" cy="1038.3" r="6.4" fill="#85A862"/>
<circle cx="376.6" cy="905.5" r="6.4" fill="#7DB959"/>
<circle cx="508.5" cy="998.8" r="6.4" fill="#7DB959"/>
<circle cx="429.1" cy="924.9" r="6.4" fill="#78C253"/>
<circle cx="298.1" cy="825.0" r="6.4" fill="#6BD347"/>
<circle cx="247.9" cy="778.5" r="6.4" fill="#34F61F"/>
<circle cx="588.1" cy="1045.3" r="6.4" fill="#82B05D"/>
<circle cx="452.5" cy="956.6" r="6.4" fill="#57E538"/>
<circle cx="500.1" cy="962.1" r="6.4" fill="#82B05D"/>
<circle cx="178.9" cy="893.1" r="6.4" fill="#78C253"/>
<circle cx="391.1" cy="901.8" r="6.4" fill="#8B9669"/>
<circle cx="256.6" cy="754.5" r="6.4" fill="#72CB4E"/>
<circle cx="242.3" cy="924.0" r="6.4" fill="#78C253"/>
<circle cx="593.2" cy="1040.3" r="6.4" fill="#889F66"/>
<circle cx="227.5" cy="895.6" r="6.4" fill="#78C253"/>
<circle cx="214.3" cy="882.3" r="6.4" fill="#72CB4E"/>
<circle cx="465.7" cy="912.3" r="6.4" fill="#6BD347"/>
<circle cx="532.4" cy="1023.9" r="6.4" fill="#85A862"/>
<circle cx="498.2" cy="1003.5" r="6.4" fill="#82B05D"/>
<circle cx="512.0" cy="942.4" r="6.4" fill="#78C253"/>
<circle cx="586.6" cy="925.1" r="6.4" fill="#8B008B"/>
<circle cx="482.4" cy="926.1" r="6.4" fill="#48ED2D"/>
<circle cx="495.8" cy="1024.9" r="6.4" fill="#889F66"/>
<circle cx="161.9" cy="900.3" r="6.4" fill="#82B05D"/>
<circle cx="450.1" cy="952.2" r="6.4" fill="#62DC40"/>
<circle cx="249.1" cy="882.1" r="6.4" fill="#72CB4E"/>
<circle cx="290.5" cy="730.7" r="6.4" fill="#72CB4E"/>
<circle cx="288.7" cy="746.1" r="6.4" fill="#62DC40"/>
<circle cx="285.5" cy="736.6" r="6.4" fill="#78C253"/>
<circle cx="451.6" cy="942.3" r="6.4" fill="#915E7C"/>
<circle cx="440.8" cy="919.1" r="6.4" fill="#34F61F"/>
<circle cx="165.8" cy="767.9" r="6.4" fill="#72CB4E"/>
<circle cx="255.5" cy="809.0" r="6.4" fill="#72CB4E"/>
<circle cx="150.3" cy="794.1" r="6.4" fill="#00FF00"/>
<circle cx="343.7" cy="890.6" r="6.4" fill="#8D8D6D"/>
<circle cx="503.1" cy="994.0" r="6.4" fill="#72CB4E"/>
<circle cx="158.1" cy="790.6" r="6.4" fill="#85A862"/>
<circle cx="635.3" cy="1053.7" r="6.4" fill="#8D8D6D"/>
<circle cx="574.5" cy="953.7" r="6.4" fill="#915E7C"/>
<circle cx="189.8" cy="902.8" r="6.4" fill="#85A862"/>
<circle cx="274.8" cy="722.4" r="6.4" fill="#6BD347"/>
<circle cx="462.3" cy="907.1" r="6.4" fill="#85A862"/>
<circle cx="395.8" cy="895.4" r="6.4" fill="#78C253"/>
<circle cx="624.8" cy="1061.6" r="6.4" fill="#907B74"/>
<circle cx="235.7" cy="899.8" r="6.4" fill="#7DB959"/>
<circle cx="226.8" cy="734.2" r="6.4" fill="#8F8470"/>
<circle cx="286.3" cy="824.0" r="6.4" fill="#6BD347"/>
<circle cx="522.4" cy="1003.9" r="6.4" fill="#889F66"/>
<circle cx="615.8" cy="1046.4" r="6.4" fill="#917277"/>
<circle cx="158.9" cy="783.6" r="6.4" fill="#7F7F7F"/>
<circle cx="329.0" cy="872.0" r="6.4" fill="#7DB959"/>
<circle cx="513.9" cy="960.1" r="6.4" fill="#82B05D"/>
<circle cx="424.3" cy="907.6" r="6.4" fill="#7DB959"/>
<circle cx="577.1" cy="1041.5" r="6.4" fill="#8B9669"/>
<circle cx="349.6" cy="895.6" r="6.4" fill="#48ED2D"/>
<circle cx="200.0" cy="892.6" r="6.4" fill="#62DC40"/>
<circle cx="196.6" cy="904.1" r="6.4" fill="#78C253"/>
<circle cx="292.8" cy="882.4" r="6.4" fill="#917277"/>
<circle cx="198.1" cy="745.7" r="6.4" fill="#62DC40"/>
<circle cx="522.4" cy="978.5" r="6.4" fill="#907B74"/>
<circle cx="230.1" cy="916.0" r="6.4" fill="#78C253"/>
<circle cx="610.1" cy="917.2" r="6.4" fill="#889F66"/>
<circle cx="181.5" cy="786.5" r="6.4" fill="#6BD347"/>
<circle cx="344.4" cy="882.6" r="6.4" fill="#889F66"/>
<circle cx="202.7" cy="877.6" r="6.4" fill="#72CB4E"/>
<circle cx="314.8" cy="890.3" r="6.4" fill="#889F66"/>
<circle cx="268.7" cy="810.0" r="6.4" fill="#6BD347"/>
<circle cx="519.6" cy="1008.7" r="6.4" fill="#82B05D"/>
<circle cx="368.4" cy="897.0" r="6.4" fill="#889F66"/>
<circle cx="253.3" cy="918.9" r="6.4" fill="#7F7F7F"/>
<circle cx="285.8" cy="882.2" r="6.4" fill="#6BD347"/>
<circle cx="328.2" cy="880.5" r="6.4" fill="#72CB4E"/>
<circle cx="321.0" cy="897.0" r="6.4" fill="#62DC40"/>
<circle cx="671.4" cy="855.7" r="6.4" fill="#8B9669"/>
<circle cx="171.8" cy="786.5" r="6.4" fill="#7F7F7F"/>
<circle cx="275.6" cy="884.9" r="6.4" fill="#91547F"/>
<circle cx="524.1" cy="988.6" r="6.4" fill="#91547F"/>
<circle cx="473.5" cy="934.6" r="6.4" fill="#7DB959"/>
<circle cx="215.1" cy="755.2" r="6.4" fill="#7DB959"/>
<circle cx="688.3" cy="842.1" r="6.4" fill="#8B9669"/>
<circle cx="251.3" cy="724.1" r="6.4" fill="#91547F"/>
<circle cx="517.0" cy="1012.6" r="6.4" fill="#8B9669"/>
<circle cx="238.3" cy="771.9" r="6.4" fill="#6BD347"/>
<circle cx="455.2" cy="932.8" r="6.4" fill="#889F66"/>
<circle cx="230.6" cy="891.2" r="6.4" fill="#82B05D"/>
<circle cx="481.9" cy="1033.2" r="6.4" fill="#889F66"/>
<circle cx="225.3" cy="735.6" r="6.4" fill="#72CB4E"/>
<circle cx="403.9" cy="911.2" r="6.4" fill="#85A862"/>
<circle cx="266.2" cy="907.1" r="6.4" fill="#6BD347"/>
<circle cx="244.4" cy="882.7" r="6.4" fill="#7F7F7F"/>
<circle cx="444.8" cy="951.1" r="6.4" fill="#62DC40"/>
<circle cx="472.2" cy="950.3" r="6.4" fill="#82B05D"/>
<circle cx="484.4" cy="938.5" r="6.4" fill="#6BD347"/>
<circle cx="269.3" cy="757.2" r="6.4" fill="#6BD347"/>
<circle cx="178.9" cy="772.7" r="6.4" fill="#48ED2D"/>
<circle cx="589.8" cy="907.9" r="6.4" fill="#907B74"/>
<circle cx="591.9" cy="917.1" r="6.4" fill="#8D8D6D"/>
<circle cx="506.3" cy="968.4" r="6.4" fill="#6BD347"/>
<circle cx="252.2" cy="901.7" r="6.4" fill="#62DC40"/>
<circle cx="301.3" cy="879.0" r="6.4" fill="#8D8D6D"/>
<circle cx="502.7" cy="1026.4" r="6.4" fill="#72CB4E"/>
<circle cx="152.0" cy="790.4" r="6.4" fill="#907B74"/>
<circle cx="258.2" cy="720.6" r="6.4" fill="#48ED2D"/>
<circle cx="278.0" cy="732.0" r="6.4" fill="#8D8D6D"/>
<circle cx="165.4" cy="781.6" r="6.4" fill="#82B05D"/>
<circle cx="436.7" cy="918.0" r="6.4" fill="#7DB959"/>
<circle cx="289.2" cy="818.7" r="6.4" fill="#57E538"/>
<circle cx="162.2" cy="780.4" r="6.4" fill="#57E538"/>
<circle cx="570.0" cy="950.1" r="6.4" fill="#82B05D"/>
<circle cx="226.5" cy="787.3" r="6.4" fill="#34F61F"/>
<circle cx="599.1" cy="935.6" r="6.4" fill="#7F7F7F"/>
<circle cx="227.5" cy="724.0" r="6.4" fill="#62DC40"/>
<circle cx="220.9" cy="899.6" r="6.4" fill="#78C253"/>
<circle cx="215.4" cy="791.2" r="6.4" fill="#7F7F7F"/>
<circle cx="518.9" cy="958.3" r="6.4" fill="#8F8470"/>
<circle cx="428.8" cy="898.0" r="6.4" fill="#62DC40"/>
<circle cx="302.3" cy="848.1" r="6.4" fill="#889F66"/>
<circle cx="217.5" cy="777.6" r="6.4" fill="#57E538"/>
<circle cx="311.4" cy="875.8" r="6.4" fill="#889F66"/>
<circle cx="312.1" cy="888.0" r="6.4" fill="#889F66"/>
<circle cx="242.5" cy="778.6" r="6.4" fill="#57E538"/>
<circle cx="307.7" cy="896.2" r="6.4" fill="#889F66"/>
<circle cx="626.6" cy="1050.3" r="6.4" fill="#907B74"/>
<circle cx="595.4" cy="936.3" r="6.4" fill="#91547F"/>
<circle cx="242.7" cy="881.3" r="6.4" fill="#85A862"/>
<circle cx="229.4" cy="899.9" r="6.4" fill="#34F61F"/>
<circle cx="432.8" cy="905.5" r="6.4" fill="#917277"/>
<circle cx="415.1" cy="974.6" r="6.4" fill="#82B05D"/>
<circle cx="594.3" cy="1043.3" r="6.4" fill="#8F8470"/>
<circle cx="696.4" cy="813.9" r="6.4" fill="#82B05D"/>
<circle cx="293.6" cy="741.6" r="6.4" fill="#6BD347"/>
<circle cx="501.2" cy="1023.9" r="6.4" fill="#8D2089"/>
<circle cx="263.6" cy="762.2" r="6.4" fill="#7F7F7F"/>
<circle cx="611.6" cy="891.0" r="6.4" fill="#48ED2D"/>
<circle cx="166.2" cy="793.9" r="6.4" fill="#62DC40"/>
<circle cx="500.9" cy="1029.0" r="6.4" fill="#8B008B"/>
<circle cx="202.9" cy="878.6" r="6.4" fill="#72CB4E"/>
<circle cx="432.5" cy="954.3" r="6.4" fill="#8D8D6D"/>
<circle cx="487.9" cy="930.4" r="6.4" fill="#82B05D"/>
<circle cx="429.9" cy="967.7" r="6.4" fill="#7DB959"/>
<circle cx="159.7" cy="896.8" r="6.4" fill="#7F7F7F"/>
<circle cx="519.4" cy="965.3" r="6.4" fill="#91687A"/>
<circle cx="612.6" cy="922.9" r="6.4" fill="#85A862"/>
<circle cx="286.3" cy="752.0" r="6.4" fill="#6BD347"/>
<circle cx="243.7" cy="792.3" r="6.4" fill="#8D8D6D"/>
<circle cx="512.5" cy="1020.0" r="6.4" fill="#72CB4E"/>
<circle cx="440.5" cy="960.1" r="6.4" fill="#907B74"/>
<circle cx="174.7" cy="781.3" r="6.4" fill="#34F61F"/>
<circle cx="232.2" cy="902.3" r="6.4" fill="#48ED2D"/>
<circle cx="165.7" cy="771.7" r="6.4" fill="#8B9669"/>
<circle cx="200.9" cy="900.9" r="6.4" fill="#48ED2D"/>
<circle cx="281.4" cy="893.1" r="6.4" fill="#34F61F"/>
<circle cx="604.0" cy="1044.1" r="6.4" fill="#7F7F7F"/>
<circle cx="257.3" cy="789.2" r="6.4" fill="#82B05D"/>
<circle cx="464.5" cy="1058.7" r="6.4" fill="#889F66"/>
<circle cx="275.8" cy="734.3" r="6.4" fill="#8D8D6D"/>
<circle cx="219.8" cy="907.7" r="6.4" fill="#57E538"/>
<circle cx="232.2" cy="913.7" r="6.4" fill="#7DB959"/>
<circle cx="423.6" cy="920.9" r="6.4" fill="#8B9669"/>
<circle cx="436.9" cy="907.3" r="6.4" fill="#62DC40"/>
<circle cx="556.5" cy="936.0" r="6.4" fill="#85A862"/>
<circle cx="333.6" cy="895.5" r="6.4" fill="#8B9669"/>
<circle cx="396.1" cy="907.5" r="6.4" fill="#82B05D"/>
<circle cx="164.8" cy="891.4" r="6.4" fill="#00FF00"/>
<circle cx="296.7" cy="823.5" r="6.4" fill="#57E538"/>
<circle cx="169.5" cy="894.7" r="6.4" fill="#7DB959"/>
<circle cx="504.8" cy="1015.3" r="6.4" fill="#82B05D"/>
<circle cx="624.4" cy="909.3" r="6.4" fill="#7DB959"/>
<circle cx="193.0" cy="767.1" r="6.4" fill="#85A862"/>
<circle cx="174.4" cy="887.4" r="6.4" fill="#6BD347"/>
<circle cx="193.5" cy="910.6" r="6.4" fill="#48ED2D"/>
<circle cx="247.5" cy="780.5" r="6.4" fill="#78C253"/>
<circle cx="511.0" cy="1025.3" r="6.4" fill="#62DC40"/>
<circle cx="668.9" cy="846.9" r="6.4" fill="#7DB959"/>
<circle cx="589.7" cy="1039.7" r="6.4" fill="#8D8D6D"/>
<circle cx="695.4" cy="817.0" r="6.4" fill="#57E538"/>
<circle cx="290.4" cy="747.6" r="6.4" fill="#48ED2D"/>
<circle cx="694.0" cy="822.9" r="6.4" fill="#78C253"/>
<circle cx="533.8" cy="1022.0" r="6.4" fill="#78C253"/>
<circle cx="174.8" cy="885.6" r="6.4" fill="#7DB959"/>
<circle cx="494.3" cy="1032.5" r="6.4" fill="#82B05D"/>
<circle cx="263.9" cy="893.6" r="6.4" fill="#6BD347"/>
<circle cx="253.7" cy="804.8" r="6.4" fill="#7F7F7F"/>
<circle cx="180.5" cy="786.0" r="6.4" fill="#34F61F"/>
<circle cx="184.3" cy="900.8" r="6.4" fill="#904982"/>
<circle cx="275.3" cy="783.5" r="6.4" fill="#7DB959"/>
<circle cx="423.7" cy="897.8" r="6.4" fill="#8B9669"/>
<circle cx="499.5" cy="935.5" r="6.4" fill="#7DB959"/>
<circle cx="439.6" cy="967.9" r="6.4" fill="#57E538"/>
<circle cx="553.8" cy="935.2" r="6.4" fill="#85A862"/>
<circle cx="379.1" cy="885.2" r="6.4" fill="#72CB4E"/>
<circle cx="416.5" cy="920.6" r="6.4" fill="#85A862"/>
<circle cx="418.4" cy="964.0" r="6.4" fill="#82B05D"/>
<circle cx="440.7" cy="977.3" r="6.4" fill="#82B05D"/>
<circle cx="279.3" cy="819.0" r="6.4" fill="#78C253"/>
<circle cx="335.1" cy="868.4" r="6.4" fill="#82B05D"/>
<circle cx="370.3" cy="907.5" r="6.4" fill="#82B05D"/>
<circle cx="446.1" cy="959.8" r="6.4" fill="#907B74"/>
<circle cx="216.7" cy="750.0" r="6.4" fill="#78C253"/>
<circle cx="287.0" cy="810.2" r="6.4" fill="#72CB4E"/>
<circle cx="457.5" cy="955.4" r="6.4" fill="#7DB959"/>
<circle cx="194.6" cy="797.0" r="6.4" fill="#82B05D"/>
<circle cx="500.1" cy="986.0" r="6.4" fill="#8F8470"/>
<circle cx="601.5" cy="935.3" r="6.4" fill="#85A862"/>
<circle cx="267.7" cy="808.7" r="6.4" fill="#85A862"/>
<circle cx="537.5" cy="961.4" r="6.4" fill="#8B9669"/>
<circle cx="280.5" cy="724.2" r="6.4" fill="#00FF00"/>
<circle cx="209.1" cy="741.2" r="6.4" fill="#7F7F7F"/>
<circle cx="223.7" cy="917.9" r="6.4" fill="#6BD347"/>
<circle cx="285.2" cy="745.8" r="6.4" fill="#82B05D"/>
<circle cx="320.2" cy="889.8" r="6.4" fill="#48ED2D"/>
<circle cx="459.0" cy="917.1" r="6.4" fill="#85A862"/>
<circle cx="236.6" cy="743.1" r="6.4" fill="#34F61F"/>
<circle cx="577.2" cy="933.2" r="6.4" fill="#8F8470"/>
<circle cx="257.2" cy="806.7" r="6.4" fill="#72CB4E"/>
<circle cx="422.9" cy="961.2" r="6.4" fill="#7F7F7F"/>
<circle cx="302.3" cy="895.9" r="6.4" fill="#889F66"/>
<circle cx="441.3" cy="901.1" r="6.4" fill="#91687A"/>
<circle cx="264.8" cy="741.8" r="6.4" fill="#62DC40"/>
<circle cx="388.8" cy="906.8" r="6.4" fill="#62DC40"/>
<circle cx="519.9" cy="975.9" r="6.4" fill="#889F66"/>
<circle cx="503.4" cy="944.2" r="6.4" fill="#8D8D6D"/>
<circle cx="519.9" cy="979.8" r="6.4" fill="#8D8D6D"/>
<circle cx="231.5" cy="895.8" r="6.4" fill="#34F61F"/>
<circle cx="232.7" cy="783.0" r="6.4" fill="#57E538"/>
<circle cx="235.4" cy="721.6" r="6.4" fill="#72CB4E"/>
<circle cx="440.9" cy="971.1" r="6.4" fill="#8D8D6D"/>
<circle cx="344.2" cy="895.2" r="6.4" fill="#78C253"/>
<circle cx="173.6" cy="902.7" r="6.4" fill="#904982"/>
<circle cx="509.2" cy="984.8" r="6.4" fill="#7DB959"/>
<circle cx="258.6" cy="894.9" r="6.4" fill="#34F61F"/>
<circle cx="223.2" cy="791.0" r="6.4" fill="#62DC40"/>
<circle cx="247.4" cy="919.6" r="6.4" fill="#72CB4E"/>
<circle cx="508.0" cy="970.1" r="6.4" fill="#82B05D"/>
<circle cx="403.0" cy="889.0" r="6.4" fill="#62DC40"/>
<circle cx="461.5" cy="909.4" r="6.4" fill="#82B05D"/>
<circle cx="509.2" cy="966.5" r="6.4" fill="#82B05D"/>
<circle cx="297.8" cy="727.7" r="6.4" fill="#7DB959"/>
<circle cx="184.0" cy="767.0" r="6.4" fill="#7F7F7F"/>
<circle cx="690.6" cy="818.5" r="6.4" fill="#85A862"/>
<circle cx="256.4" cy="737.5" r="6.4" fill="#8B9669"/>
<circle cx="194.7" cy="793.4" r="6.4" fill="#6BD347"/>
<circle cx="340.9" cy="865.9" r="6.4" fill="#8B9669"/>
<circle cx="607.7" cy="1046.1" r="6.4" fill="#85A862"/>
<circle cx="180.3" cy="789.5" r="6.4" fill="#72CB4E"/>
<circle cx="358.5" cy="874.4" r="6.4" fill="#7DB959"/>
<circle cx="291.3" cy="727.5" r="6.4" fill="#78C253"/>
<circle cx="184.5" cy="793.0" r="6.4" fill="#85A862"/>
<circle cx="293.7" cy="740.2" r="6.4" fill="#7DB959"/>
<circle cx="587.2" cy="908.2" r="6.4" fill="#78C253"/>
<circle cx="253.6" cy="750.4" r="6.4" fill="#34F61F"/>
<circle cx="416.0" cy="895.6" r="6.4" fill="#7DB959"/>
<circle cx="276.2" cy="829.0" r="6.4" fill="#6BD347"/>
<circle cx="498.2" cy="962.5" r="6.4" fill="#62DC40"/>
<circle cx="283.7" cy="801.8" r="6.4" fill="#00FF00"/>
<circle cx="460.9" cy="904.2" r="6.4" fill="#85A862"/>
<circle cx="306.0" cy="896.9" r="6.4" fill="#907B74"/>
<circle cx="163.2" cy="912.1" r="6.4" fill="#62DC40"/>
<circle cx="502.4" cy="994.1" r="6.4" fill="#8B008B"/>
<circle cx="264.9" cy="905.6" r="6.4" fill="#62DC40"/>
<circle cx="523.5" cy="1009.3" r="6.4" fill="#8B9669"/>
<circle cx="241.5" cy="775.3" r="6.4" fill="#7DB959"/>
<circle cx="469.6" cy="1053.4" r="6.4" fill="#62DC40"/>
<circle cx="212.2" cy="736.8" r="6.4" fill="#57E538"/>
<circle cx="302.6" cy="878.2" r="6.4" fill="#889F66"/>
<circle cx="493.5" cy="1014.3" r="6.4" fill="#8D8D6D"/>
<circle cx="580.3" cy="1043.1" r="6.4" fill="#7F7F7F"/>
<circle cx="621.6" cy="883.8" r="6.4" fill="#915E7C"/>
<circle cx="275.3" cy="888.9" r="6.4" fill="#7DB959"/>
<circle cx="430.9" cy="928.8" r="6.4" fill="#8D8D6D"/>
<circle cx="259.4" cy="807.9" r="6.4" fill="#34F61F"/>
<circle cx="580.3" cy="1039.1" r="6.4" fill="#8B008B"/>
<circle cx="562.9" cy="949.7" r="6.4" fill="#7F7F7F"/>
<circle cx="622.9" cy="912.2" r="6.4" fill="#915E7C"/>
<circle cx="281.5" cy="777.9" r="6.4" fill="#72CB4E"/>
<circle cx="275.1" cy="757.9" r="6.4" fill="#7F7F7F"/>
<circle cx="198.3" cy="793.3" r="6.4" fill="#62DC40"/>
<circle cx="419.9" cy="918.8" r="6.4" fill="#7DB959"/>
<circle cx="275.1" cy="831.5" r="6.4" fill="#8B9669"/>
<circle cx="500.7" cy="991.8" r="6.4" fill="#8B008B"/>
<circle cx="286.6" cy="808.3" r="6.4" fill="#6BD347"/>
<circle cx="260.1" cy="883.2" r="6.4" fill="#62DC40"/>
<circle cx="464.3" cy="917.2" r="6.4" fill="#62DC40"/>
<circle cx="696.3" cy="843.0" r="6.4" fill="#7DB959"/>
<circle cx="440.6" cy="935.0" r="6.4" fill="#62DC40"/>
<circle cx="293.0" cy="883.9" r="6.4" fill="#907B74"/>
<circle cx="245.8" cy="805.5" r="6.4" fill="#78C253"/>
<circle cx="387.9" cy="894.3" r="6.4" fill="#91547F"/>
<circle cx="517.2" cy="996.5" r="6.4" fill="#8F8470"/>
<circle cx="304.6" cy="886.6" r="6.4" fill="#8B9669"/>
<circle cx="602.9" cy="926.2" r="6.4" fill="#85A862"/>
<circle cx="238.8" cy="808.6" r="6.4" fill="#48ED2D"/>
<circle cx="406.4" cy="915.0" r="6.4" fill="#34F61F"/>
<circle cx="377.6" cy="901.7" r="6.4" fill="#82B05D"/>
<circle cx="161.8" cy="909.5" r="6.4" fill="#82B05D"/>
<circle cx="616.5" cy="888.2" r="6.4" fill="#85A862"/>
<circle cx="192.8" cy="903.6" r="6.4" fill="#889F66"/>
<circle cx="221.3" cy="745.6" r="6.4" fill="#7F7F7F"/>
<circle cx="160.2" cy="780.3" r="6.4" fill="#62DC40"/>
<circle cx="270.7" cy="788.4" r="6.4" fill="#57E538"/>
<circle cx="365.0" cy="905.8" r="6.4" fill="#8F8470"/>
<circle cx="231.9" cy="747.0" r="6.4" fill="#00FF00"/>
<circle cx="163.6" cy="903.7" r="6.4" fill="#78C253"/>
<circle cx="257.7" cy="791.1" r="6.4" fill="#7DB959"/>
<circle cx="214.0" cy="733.7" r="6.4" fill="#85A862"/>
<circle cx="260.6" cy="763.5" r="6.4" fill="#7DB959"/>
<circle cx="565.0" cy="1037.4" r="6.4" fill="#82B05D"/>
<circle cx="376.4" cy="902.6" r="6.4" fill="#57E538"/>
<circle cx="409.1" cy="985.8" r="6.4" fill="#8B9669"/>
<circle cx="445.8" cy="972.6" r="6.4" fill="#8F8470"/>
<circle cx="218.5" cy="886.7" r="6.4" fill="#7DB959"/>
<circle cx="675.5" cy="850.5" r="6.4" fill="#7F7F7F"/>
<circle cx="342.7" cy="887.0" r="6.4" fill="#57E538"/>
<circle cx="378.9" cy="892.6" r="6.4" fill="#82B05D"/>
<circle cx="604.3" cy="895.2" r="6.4" fill="#8F8470"/>
<circle cx="680.6" cy="857.8" r="6.4" fill="#889F66"/>
<circle cx="461.5" cy="933.9" r="6.4" fill="#915E7C"/>
<circle cx="296.4" cy="826.3" r="6.4" fill="#85A862"/>
<circle cx="411.6" cy="891.3" r="6.4" fill="#62DC40"/>
<circle cx="616.1" cy="901.3" r="6.4" fill="#91687A"/>
<circle cx="290.0" cy="813.2" r="6.4" fill="#57E538"/>
<circle cx="267.4" cy="898.2" r="6.4" fill="#62DC40"/>
<circle cx="511.9" cy="976.4" r="6.4" fill="#85A862"/>
<circle cx="190.6" cy="881.3" r="6.4" fill="#904982"/>
<circle cx="616.1" cy="1057.2" r="6.4" fill="#82B05D"/>
<circle cx="423.8" cy="984.5" r="6.4" fill="#907B74"/>
<circle cx="208.8" cy="798.7" r="6.4" fill="#6BD347"/>
<circle cx="343.9" cy="866.6" r="6.4" fill="#78C253"/>
<circle cx="332.9" cy="875.7" r="6.4" fill="#62DC40"/>
<circle cx="236.2" cy="722.4" r="6.4" fill="#57E538"/>
<circle cx="689.4" cy="828.3" r="6.4" fill="#78C253"/>
<circle cx="200.4" cy="797.2" r="6.4" fill="#889F66"/>
<circle cx="501.0" cy="960.8" r="6.4" fill="#8D8D6D"/>
<circle cx="209.1" cy="776.4" r="6.4" fill="#48ED2D"/>
<circle cx="250.1" cy="744.5" r="6.4" fill="#889F66"/>
<circle cx="251.1" cy="788.1" r="6.4" fill="#889F66"/>
<circle cx="431.9" cy="952.2" r="6.4" fill="#91547F"/>
<circle cx="494.8" cy="1033.2" r="6.4" fill="#72CB4E"/>
<circle cx="195.1" cy="763.0" r="6.4" fill="#7DB959"/>
<circle cx="503.5" cy="1027.0" r="6.4" fill="#72CB4E"/>
<circle cx="156.9" cy="911.1" r="6.4" fill="#7DB959"/>
<circle cx="520.4" cy="963.5" r="6.4" fill="#85A862"/>
<circle cx="280.0" cy="787.4" r="6.4" fill="#48ED2D"/>
<circle cx="160.5" cy="897.7" r="6.4" fill="#78C253"/>
<circle cx="228.3" cy="765.8" r="6.4" fill="#7F7F7F"/>
<circle cx="383.4" cy="887.1" r="6.4" fill="#8D8D6D"/>
<circle cx="232.1" cy="783.9" r="6.4" fill="#85A862"/>
<circle cx="292.0" cy="895.8" r="6.4" fill="#8B008B"/>
<circle cx="534.8" cy="958.9" r="6.4" fill="#72CB4E"/>
<circle cx="228.7" cy="740.8" r="6.4" fill="#6BD347"/>
<circle cx="515.0" cy="1012.0" r="6.4" fill="#6BD347"/>
<circle cx="456.0" cy="1048.4" r="6.4" fill="#57E538"/>
<circle cx="214.4" cy="916.1" r="6.4" fill="#34F61F"/>
<circle cx="267.0" cy="744.5" r="6.4" fill="#6BD347"/>
<circle cx="500.3" cy="1015.1" r="6.4" fill="#72CB4E"/>
<circle cx="346.9" cy="888.6" r="6.4" fill="#7F7F7F"/>
<circle cx="425.1" cy="916.7" r="6.4" fill="#7DB959"/>
<circle cx="187.2" cy="890.9" r="6.4" fill="#82B05D"/>
<circle cx="169.6" cy="917.4" r="6.4" fill="#85A862"/>
<circle cx="270.3" cy="753.8" r="6.4" fill="#72CB4E"/>
<circle cx="190.1" cy="917.8" r="6.4" fill="#78C253"/>
<circle cx="520.8" cy="967.9" r="6.4" fill="#48ED2D"/>
<circle cx="280.3" cy="775.1" r="6.4" fill="#85A862"/>
<circle cx="608.9" cy="916.1" r="6.4" fill="#78C253"/>
<circle cx="228.9" cy="733.9" r="6.4" fill="#48ED2D"/>
<circle cx="439.8" cy="944.0" r="6.4" fill="#8F8470"/>
<circle cx="232.6" cy="915.2" r="6.4" fill="#7F7F7F"/>
<circle cx="403.1" cy="982.3" r="6.4" fill="#7F7F7F"/>
<circle cx="232.3" cy="722.1" r="6.4" fill="#34F61F"/>
<circle cx="269.3" cy="729.7" r="6.4" fill="#6BD347"/>
<circle cx="192.9" cy="772.0" r="6.4" fill="#7DB959"/>
<circle cx="385.0" cy="877.6" r="6.4" fill="#78C253"/>
<circle cx="413.0" cy="898.4" r="6.4" fill="#82B05D"/>
<circle cx="175.1" cy="917.1" r="6.4" fill="#85A862"/>
<circle cx="461.2" cy="954.2" r="6.4" fill="#72CB4E"/>
<circle cx="209.4" cy="740.0" r="6.4" fill="#7F7F7F"/>
<circle cx="548.2" cy="950.5" r="6.4" fill="#8B9669"/>
<circle cx="278.9" cy="887.4" r="6.4" fill="#78C253"/>
<circle cx="606.1" cy="1046.4" r="6.4" fill="#7DB959"/>
<circle cx="308.7" cy="851.0" r="6.4" fill="#48ED2D"/>
<circle cx="243.2" cy="919.4" r="6.4" fill="#7DB959"/>
<circle cx="409.7" cy="903.8" r="6.4" fill="#8D8D6D"/>
<circle cx="457.4" cy="1055.6" r="6.4" fill="#48ED2D"/>
<circle cx="632.6" cy="1061.6" r="6.4" fill="#8B9669"/>
<circle cx="340.5" cy="893.5" r="6.4" fill="#8F8470"/>
<circle cx="472.5" cy="927.4" r="6.4" fill="#8B008B"/>
<circle cx="235.1" cy="908.4" r="6.4" fill="#62DC40"/>
<circle cx="267.7" cy="793.4" r="6.4" fill="#34F61F"/>
<circle cx="161.3" cy="890.3" r="6.4" fill="#48ED2D"/>
<circle cx="238.2" cy="923.0" r="6.4" fill="#62DC40"/>
<circle cx="480.5" cy="923.9" r="6.4" fill="#78C253"/>
<circle cx="357.2" cy="907.0" r="6.4" fill="#82B05D"/>
<circle cx="383.9" cy="900.8" r="6.4" fill="#85A862"/>
<circle cx="238.8" cy="736.1" r="6.4" fill="#57E538"/>
<circle cx="428.2" cy="912.6" r="6.4" fill="#62DC40"/>
<circle cx="163.9" cy="919.0" r="6.4" fill="#57E538"/>
<circle cx="392.1" cy="879.8" r="6.4" fill="#8B008B"/>
<circle cx="234.0" cy="914.5" r="6.4" fill="#7F7F7F"/>
<circle cx="688.2" cy="840.4" r="6.4" fill="#8F8470"/>
<circle cx="226.1" cy="897.2" r="6.4" fill="#78C253"/>
<circle cx="286.1" cy="819.8" r="6.4" fill="#34F61F"/>
<circle cx="475.0" cy="940.0" r="6.4" fill="#7F7F7F"/>
<circle cx="292.1" cy="833.9" r="6.4" fill="#72CB4E"/>
<circle cx="512.8" cy="994.7" r="6.4" fill="#889F66"/>
<circle cx="340.5" cy="895.7" r="6.4" fill="#8D8D6D"/>
<circle cx="615.3" cy="886.2" r="6.4" fill="#82B05D"/>
<circle cx="603.9" cy="921.1" r="6.4" fill="#7F7F7F"/>
<circle cx="288.1" cy="825.2" r="6.4" fill="#85A862"/>
<circle cx="369.1" cy="871.0" r="6.4" fill="#91687A"/>
<circle cx="629.9" cy="1053.3" r="6.4" fill="#85A862"/>
<circle cx="189.9" cy="912.6" r="6.4" fill="#7DB959"/>
<circle cx="580.4" cy="923.4" r="6.4" fill="#8D8D6D"/>
<circle cx="327.4" cy="892.3" r="6.4" fill="#62DC40"/>
<circle cx="451.1" cy="928.8" r="6.4" fill="#7DB959"/>
<circle cx="200.2" cy="754.0" r="6.4" fill="#8B008B"/>
<circle cx="244.9" cy="743.8" r="6.4" fill="#7F7F7F"/>
<circle cx="608.4" cy="907.1" r="6.4" fill="#7DB959"/>
<circle cx="626.9" cy="1059.8" r="6.4" fill="#7F7F7F"/>
<circle cx="416.2" cy="903.7" r="6.4" fill="#72CB4E"/>
<circle cx="184.1" cy="776.0" r="6.4" fill="#57E538"/>
<circle cx="318.9" cy="872.8" r="6.4" fill="#91547F"/>
<circle cx="418.9" cy="909.2" r="6.4" fill="#8D8D6D"/>
<circle cx="467.6" cy="937.7" r="6.4" fill="#57E538"/>
<circle cx="450.4" cy="924.1" r="6.4" fill="#7DB959"/>
<circle cx="342.4" cy="889.8" r="6.4" fill="#34F61F"/>
<circle cx="478.1" cy="937.6" r="6.4" fill="#82B05D"/>
<circle cx="465.2" cy="1060.8" r="6.4" fill="#78C253"/>
<circle cx="252.4" cy="792.5" r="6.4" fill="#48ED2D"/>
<circle cx="293.0" cy="882.1" r="6.4" fill="#7DB959"/>
<circle cx="583.5" cy="911.6" r="6.4" fill="#8B008B"/>
<circle cx="163.0" cy="900.0" r="6.4" fill="#7DB959"/>
<circle cx="213.6" cy="761.5" r="6.4" fill="#85A862"/>
<circle cx="199.0" cy="775.0" r="6.4" fill="#72CB4E"/>
<circle cx="164.5" cy="777.5" r="6.4" fill="#82B05D"/>
<circle cx="449.2" cy="953.5" r="6.4" fill="#8D8D6D"/>
<circle cx="252.5" cy="753.3" r="6.4" fill="#7F7F7F"/>
<circle cx="191.0" cy="781.1" r="6.4" fill="#72CB4E"/>
<circle cx="509.7" cy="977.8" r="6.4" fill="#8F8470"/>
<circle cx="314.8" cy="878.8" r="6.4" fill="#7DB959"/>
<circle cx="207.9" cy="910.4" r="6.4" fill="#85A862"/>
<circle cx="215.9" cy="791.5" r="6.4" fill="#907B74"/>
<circle cx="380.4" cy="884.5" r="6.4" fill="#78C253"/>
<circle cx="519.9" cy="996.7" r="6.4" fill="#889F66"/>
<circle cx="286.4" cy="816.4" r="6.4" fill="#7DB959"/>
<circle cx="463.3" cy="1046.0" r="6.4" fill="#91547F"/>
<circle cx="204.6" cy="885.6" r="6.4" fill="#72CB4E"/>
<circle cx="247.9" cy="756.3" r="6.4" fill="#6BD347"/>
<circle cx="225.5" cy="802.1" r="6.4" fill="#7F7F7F"/>
<circle cx="255.8" cy="726.2" r="6.4" fill="#7F7F7F"/>
<circle cx="506.7" cy="1009.3" r="6.4" fill="#7DB959"/>
<circle cx="288.6" cy="842.7" r="6.4" fill="#6BD347"/>
<circle cx="410.0" cy="903.3" r="6.4" fill="#85A862"/>
<circle cx="504.3" cy="1014.3" r="6.4" fill="#72CB4E"/>
<circle cx="417.5" cy="964.9" r="6.4" fill="#889F66"/>
<circle cx="563.1" cy="1038.0" r="6.4" fill="#889F66"/>
<circle cx="183.3" cy="890.4" r="6.4" fill="#7DB959"/>
<circle cx="229.4" cy="727.6" r="6.4" fill="#8F8470"/>
<circle cx="306.4" cy="849.7" r="6.4" fill="#62DC40"/>
<circle cx="690.2" cy="841.1" r="6.4" fill="#85A862"/>
<circle cx="276.2" cy="777.4" r="6.4" fill="#62DC40"/>
<circle cx="402.3" cy="978.0" r="6.4" fill="#904982"/>
<circle cx="679.4" cy="842.7" r="6.4" fill="#85A862"/>
<circle cx="404.4" cy="975.2" r="6.4" fill="#7DB959"/>
<circle cx="199.4" cy="791.8" r="6.4" fill="#85A862"/>
<circle cx="191.6" cy="778.5" r="6.4" fill="#48ED2D"/>
<circle cx="212.2" cy="769.8" r="6.4" fill="#48ED2D"/>
<circle cx="187.3" cy="911.7" r="6.4" fill="#6BD347"/>
<circle cx="581.0" cy="916.5" r="6.4" fill="#8F8470"/>
<circle cx="270.7" cy="822.3" r="6.4" fill="#6BD347"/>
<circle cx="286.7" cy="804.8" r="6.4" fill="#48ED2D"/>
<circle cx="550.2" cy="941.6" r="6.4" fill="#85A862"/>
<circle cx="516.2" cy="959.8" r="6.4" fill="#85A862"/>
<circle cx="527.8" cy="955.4" r="6.4" fill="#7F7F7F"/>
<circle cx="508.3" cy="984.6" r="6.4" fill="#6BD347"/>
<circle cx="282.7" cy="776.4" r="6.4" fill="#6BD347"/>
<circle cx="282.3" cy="789.2" r="6.4" fill="#78C253"/>
<circle cx="507.8" cy="1007.5" r="6.4" fill="#7F7F7F"/>
<circle cx="219.3" cy="773.7" r="6.4" fill="#57E538"/>
<circle cx="486.2" cy="948.5" r="6.4" fill="#8B9669"/>
<circle cx="599.4" cy="899.6" r="6.4" fill="#915E7C"/>
<circle cx="369.8" cy="881.2" r="6.4" fill="#78C253"/>
<circle cx="261.1" cy="736.7" r="6.4" fill="#85A862"/>
<circle cx="248.5" cy="923.2" r="6.4" fill="#72CB4E"/>
<circle cx="508.4" cy="1027.2" r="6.4" fill="#82B05D"/>
<circle cx="611.3" cy="889.7" r="6.4" fill="#7DB959"/>
<circle cx="447.7" cy="927.0" r="6.4" fill="#85A862"/>
<circle cx="276.3" cy="794.9" r="6.4" fill="#78C253"/>
<circle cx="324.7" cy="892.7" r="6.4" fill="#72CB4E"/>
<circle cx="577.3" cy="1040.6" r="6.4" fill="#915E7C"/>
<circle cx="523.5" cy="1004.5" r="6.4" fill="#907B74"/>
<circle cx="456.5" cy="947.1" r="6.4" fill="#57E538"/>
<circle cx="462.7" cy="938.0" r="6.4" fill="#889F66"/>
<circle cx="224.4" cy="740.4" r="6.4" fill="#82B05D"/>
<circle cx="324.4" cy="897.5" r="6.4" fill="#62DC40"/>
<circle cx="571.9" cy="920.9" r="6.4" fill="#8F3E84"/>
<circle cx="227.6" cy="887.2" r="6.4" fill="#62DC40"/>
<circle cx="578.9" cy="921.6" r="6.4" fill="#72CB4E"/>
<circle cx="229.5" cy="801.4" r="6.4" fill="#72CB4E"/>
<circle cx="186.8" cy="898.0" r="6.4" fill="#6BD347"/>
<circle cx="234.5" cy="892.9" r="6.4" fill="#48ED2D"/>
<circle cx="571.3" cy="1036.5" r="6.4" fill="#7DB959"/>
<circle cx="560.2" cy="947.8" r="6.4" fill="#8F8470"/>
<circle cx="315.0" cy="874.4" r="6.4" fill="#8B9669"/>
<circle cx="452.4" cy="930.0" r="6.4" fill="#8B008B"/>
<circle cx="270.3" cy="743.9" r="6.4" fill="#62DC40"/>
<circle cx="251.9" cy="774.9" r="6.4" fill="#6BD347"/>
<circle cx="527.8" cy="1005.5" r="6.4" fill="#8B008B"/>
<circle cx="193.0" cy="880.9" r="6.4" fill="#34F61F"/>
<circle cx="190.8" cy="911.6" r="6.4" fill="#62DC40"/>
<circle cx="236.8" cy="771.4" r="6.4" fill="#7F7F7F"/>
<circle cx="640.7" cy="1053.9" r="6.4" fill="#8B008B"/>
<circle cx="405.5" cy="982.9" r="6.4" fill="#85A862"/>
<circle cx="157.6" cy="918.6" r="6.4" fill="#78C253"/>
<circle cx="441.2" cy="969.5" r="6.4" fill="#8D8D6D"/>
<circle cx="171.7" cy="917.1" r="6.4" fill="#78C253"/>
<circle cx="176.2" cy="794.1" r="6.4" fill="#72CB4E"/>
<circle cx="617.7" cy="890.5" r="6.4" fill="#7DB959"/>
<circle cx="209.7" cy="890.2" r="6.4" fill="#48ED2D"/>
<circle cx="309.4" cy="874.6" r="6.4" fill="#7DB959"/>
<circle cx="609.4" cy="918.8" r="6.4" fill="#889F66"/>
<circle cx="152.3" cy="780.5" r="6.4" fill="#7F7F7F"/>
<circle cx="297.3" cy="845.9" r="6.4" fill="#6BD347"/>
<circle cx="498.6" cy="1016.8" r="6.4" fill="#82B05D"/>
<circle cx="634.7" cy="1052.5" r="6.4" fill="#8B008B"/>
<circle cx="644.6" cy="1069.9" r="6.4" fill="#7DB959"/>
<circle cx="286.9" cy="815.7" r="6.4" fill="#62DC40"/>
<circle cx="165.2" cy="911.3" r="6.4" fill="#8B008B"/>
<circle cx="626.4" cy="1062.3" r="6.4" fill="#8B008B"/>
<circle cx="516.7" cy="1017.0" r="6.4" fill="#907B74"/>
<circle cx="277.5" cy="902.3" r="6.4" fill="#889F66"/>
<circle cx="474.2" cy="945.1" r="6.4" fill="#85A862"/>
<circle cx="495.8" cy="958.9" r="6.4" fill="#78C253"/>
<circle cx="562.9" cy="956.8" r="6.4" fill="#7F7F7F"/>
<circle cx="238.0" cy="880.6" r="6.4" fill="#62DC40"/>
<circle cx="221.8" cy="903.3" r="6.4" fill="#889F66"/>
<circle cx="592.9" cy="909.9" r="6.4" fill="#7F7F7F"/>
<circle cx="262.4" cy="755.0" r="6.4" fill="#7F7F7F"/>
<circle cx="358.1" cy="907.0" r="6.4" fill="#78C253"/>
<circle cx="453.6" cy="1060.4" r="6.4" fill="#85A862"/>
<circle cx="342.0" cy="870.0" r="6.4" fill="#85A862"/>
<circle cx="354.1" cy="899.6" r="6.4" fill="#8B008B"/>
<circle cx="444.6" cy="956.0" r="6.4" fill="#7F7F7F"/>
<circle cx="605.1" cy="925.3" r="6.4" fill="#72CB4E"/>
<circle cx="218.4" cy="889.7" r="6.4" fill="#34F61F"/>
<circle cx="264.6" cy="738.2" r="6.4" fill="#57E538"/>
<circle cx="244.4" cy="799.9" r="6.4" fill="#78C253"/>
<circle cx="432.5" cy="979.4" r="6.4" fill="#82B05D"/>
<circle cx="255.4" cy="898.2" r="6.4" fill="#34F61F"/>
<circle cx="191.5" cy="883.9" r="6.4" fill="#57E538"/>
<circle cx="467.3" cy="953.7" r="6.4" fill="#48ED2D"/>
<circle cx="489.4" cy="957.9" r="6.4" fill="#8F8470"/>
<circle cx="189.7" cy="919.6" r="6.4" fill="#48ED2D"/>
<circle cx="499.4" cy="1018.9" r="6.4" fill="#82B05D"/>
<circle cx="171.4" cy="792.9" r="6.4" fill="#82B05D"/>
<circle cx="518.7" cy="973.2" r="6.4" fill="#82B05D"/>
<circle cx="447.9" cy="902.4" r="6.4" fill="#8F8470"/>
<circle cx="476.2" cy="920.3" r="6.4" fill="#7DB959"/>
<circle cx="259.6" cy="886.8" r="6.4" fill="#34F61F"/>
<circle cx="494.4" cy="958.7" r="6.4" fill="#72CB4E"/>
<circle cx="376.6" cy="905.1" r="6.4" fill="#85A862"/>
<circle cx="691.4" cy="823.0" r="6.4" fill="#889F66"/>
<circle cx="503.0" cy="941.7" r="6.4" fill="#7F7F7F"/>
<circle cx="248.8" cy="889.4" r="6.4" fill="#78C253"/>
<circle cx="313.8" cy="895.1" r="6.4" fill="#34F61F"/>
<circle cx="478.8" cy="932.7" r="6.4" fill="#78C253"/>
<circle cx="616.7" cy="1053.1" r="6.4" fill="#85A862"/>
<circle cx="504.8" cy="966.3" r="6.4" fill="#7DB959"/>
<circle cx="456.7" cy="934.6" r="6.4" fill="#91687A"/>
<circle cx="236.6" cy="807.6" r="6.4" fill="#78C253"/>
<circle cx="658.9" cy="856.1" r="6.4" fill="#8F8470"/>
<circle cx="249.0" cy="893.8" r="6.4" fill="#7DB959"/>
<circle cx="287.2" cy="814.1" r="6.4" fill="#00FF00"/>
<circle cx="567.5" cy="943.4" r="6.4" fill="#78C253"/>
<circle cx="548.3" cy="944.8" r="6.4" fill="#7DB959"/>
<circle cx="508.0" cy="948.0" r="6.4" fill="#8F8470"/>
<circle cx="479.5" cy="1029.7" r="6.4" fill="#8B008B"/>
<circle cx="253.3" cy="771.5" r="6.4" fill="#7F7F7F"/>
<circle cx="359.7" cy="898.7" r="6.4" fill="#8B9669"/>
<circle cx="557.2" cy="958.8" r="6.4" fill="#8B008B"/>
<circle cx="230.1" cy="785.6" r="6.4" fill="#57E538"/>
<circle cx="647.1" cy="1074.2" r="6.4" fill="#8D8D6D"/>
<circle cx="264.1" cy="721.2" r="6.4" fill="#8B9669"/>
<circle cx="296.4" cy="823.9" r="6.4" fill="#48ED2D"/>
<circle cx="186.9" cy="790.7" r="6.4" fill="#6BD347"/>
<circle cx="393.1" cy="885.3" r="6.4" fill="#48ED2D"/>
<circle cx="396.1" cy="914.7" r="6.4" fill="#889F66"/>
<circle cx="425.0" cy="925.3" r="6.4" fill="#8B008B"/>
<circle cx="399.0" cy="902.5" r="6.4" fill="#82B05D"/>
<circle cx="151.5" cy="788.9" r="6.4" fill="#62DC40"/>
<circle cx="466.6" cy="1045.4" r="6.4" fill="#8B9669"/>
<circle cx="571.3" cy="1038.4" r="6.4" fill="#72CB4E"/>
<circle cx="620.9" cy="903.4" r="6.4" fill="#82B05D"/>
<circle cx="415.5" cy="977.5" r="6.4" fill="#82B05D"/>
<circle cx="492.0" cy="1033.0" r="6.4" fill="#8D8D6D"/>
<circle cx="360.6" cy="880.7" r="6.4" fill="#78C253"/>
<circle cx="443.8" cy="963.3" r="6.4" fill="#78C253"/>
<circle cx="269.6" cy="817.1" r="6.4" fill="#6BD347"/>
<circle cx="236.0" cy="732.3" r="6.4" fill="#6BD347"/>
<circle cx="413.5" cy="910.1" r="6.4" fill="#889F66"/>
<circle cx="371.5" cy="1062.4" r="6.4" fill="#85A862"/>
<circle cx="375.2" cy="1059.6" r="6.4" fill="#889F66"/>
<circle cx="387.6" cy="1056.3" r="6.4" fill="#91687A"/>
<circle cx="385.9" cy="1065.0" r="6.4" fill="#91687A"/>
<circle cx="383.3" cy="1074.7" r="6.4" fill="#889F66"/>
<circle cx="401.5" cy="1059.6" r="6.4" fill="#6BD347"/>
<circle cx="399.8" cy="1066.5" r="6.4" fill="#6BD347"/>
<circle cx="369.4" cy="1075.4" r="6.4" fill="#6BD347"/>
<circle cx="418.6" cy="1063.9" r="6.4" fill="#8B9669"/>
<circle cx="416.4" cy="1067.6" r="6.4" fill="#8B9669"/>
<circle cx="423.5" cy="1070.4" r="6.4" fill="#7F7F7F"/>
<circle cx="438.9" cy="1067.1" r="6.4" fill="#91547F"/>
<circle cx="447.4" cy="1059.6" r="6.4" fill="#91687A"/>
<circle cx="451.7" cy="1064.3" r="6.4" fill="#6BD347"/>
<circle cx="456.4" cy="1061.7" r="6.4" fill="#6BD347"/>
<circle cx="453.8" cy="1072.6" r="6.4" fill="#7F7F7F"/>
<circle cx="452.8" cy="1082.3" r="6.4" fill="#6BD347"/>
<circle cx="455.3" cy="1078.0" r="6.4" fill="#6BD347"/>
<circle cx="459.2" cy="1089.9" r="6.4" fill="#8F8470"/>
<circle cx="462.4" cy="1098.6" r="6.4" fill="#85A862"/>
<circle cx="454.9" cy="1106.1" r="6.4" fill="#8B008B"/>
<circle cx="456.4" cy="1109.8" r="6.4" fill="#8B008B"/>
<circle cx="425.0" cy="1081.9" r="6.4" fill="#91687A"/>
<circle cx="436.3" cy="1088.8" r="6.4" fill="#8F8470"/>
<circle cx="430.3" cy="1094.2" r="6.4" fill="#85A862"/>
<circle cx="417.1" cy="1097.5" r="6.4" fill="#6BD347"/>
<circle cx="411.1" cy="1102.9" r="6.4" fill="#8F8470"/>
<circle cx="425.0" cy="1105.1" r="6.4" fill="#85A862"/>
<circle cx="383.3" cy="1087.7" r="6.4" fill="#6BD347"/>
<circle cx="412.2" cy="1113.7" r="6.4" fill="#85A862"/>
<circle cx="423.9" cy="1119.1" r="6.4" fill="#85A862"/>
<circle cx="411.1" cy="1121.3" r="6.4" fill="#85A862"/>
<circle cx="443.8" cy="1122.4" r="6.4" fill="#8F8470"/>
<circle cx="359.8" cy="1091.0" r="6.4" fill="#91687A"/>
<circle cx="370.0" cy="1094.2" r="6.4" fill="#85A862"/>
<circle cx="384.4" cy="1105.1" r="6.4" fill="#904982"/>
<circle cx="370.9" cy="1117.4" r="6.4" fill="#8D8D6D"/>
<circle cx="546.8" cy="1034.7" r="6.4" fill="#85A862"/>
<circle cx="542.5" cy="1046.6" r="6.4" fill="#91687A"/>
<circle cx="551.1" cy="1046.6" r="6.4" fill="#889F66"/>
<circle cx="534.0" cy="1058.5" r="6.4" fill="#907B74"/>
<circle cx="542.5" cy="1056.3" r="6.4" fill="#8F8470"/>
<circle cx="549.0" cy="1059.6" r="6.4" fill="#7F7F7F"/>
<circle cx="534.0" cy="1070.4" r="6.4" fill="#6BD347"/>
<circle cx="535.1" cy="1078.0" r="6.4" fill="#78C253"/>
<circle cx="549.0" cy="1076.9" r="6.4" fill="#8F8470"/>
<circle cx="551.1" cy="1084.5" r="6.4" fill="#8B008B"/>
<circle cx="528.7" cy="1086.6" r="6.4" fill="#85A862"/>
<circle cx="522.2" cy="1093.1" r="6.4" fill="#85A862"/>
<circle cx="515.8" cy="1099.6" r="6.4" fill="#8E3086"/>
<circle cx="513.7" cy="1106.1" r="6.4" fill="#85A862"/>
<circle cx="515.8" cy="1112.6" r="6.4" fill="#85A862"/>
<circle cx="520.1" cy="1119.1" r="6.4" fill="#889F66"/>
<circle cx="522.7" cy="1114.8" r="6.4" fill="#85A862"/>
<circle cx="535.1" cy="1088.8" r="6.4" fill="#8B9669"/>
<circle cx="537.2" cy="1095.3" r="6.4" fill="#8F8470"/>
<circle cx="528.7" cy="1097.5" r="6.4" fill="#6BD347"/>
<circle cx="524.4" cy="1104.0" r="6.4" fill="#85A862"/>
<circle cx="519.0" cy="1108.3" r="6.4" fill="#85A862"/>
<circle cx="556.4" cy="1092.1" r="6.4" fill="#6BD347"/>
<circle cx="560.7" cy="1101.8" r="6.4" fill="#6BD347"/>
<circle cx="535.1" cy="1106.1" r="6.4" fill="#91687A"/>
<circle cx="529.7" cy="1108.3" r="6.4" fill="#8F8470"/>
<circle cx="548.5" cy="1106.8" r="6.4" fill="#915E7C"/>
<circle cx="535.1" cy="1115.9" r="6.4" fill="#85A862"/>
<circle cx="571.4" cy="1111.5" r="6.4" fill="#8F8470"/>
<circle cx="568.2" cy="1114.8" r="6.4" fill="#889F66"/>
<circle cx="575.7" cy="1120.2" r="6.4" fill="#889F66"/>
<circle cx="581.0" cy="1125.6" r="6.4" fill="#8F8470"/>
<circle cx="580.0" cy="1134.3" r="6.4" fill="#85A862"/>
<circle cx="577.8" cy="1138.6" r="6.4" fill="#8B008B"/>
<circle cx="560.7" cy="1126.7" r="6.4" fill="#8B008B"/>
<circle cx="560.7" cy="1136.5" r="6.4" fill="#8F8470"/>
<circle cx="554.3" cy="1143.0" r="6.4" fill="#6BD347"/>
<circle cx="524.4" cy="1128.9" r="6.4" fill="#91687A"/>
<circle cx="534.0" cy="1130.0" r="6.4" fill="#6BD347"/>
<circle cx="522.2" cy="1138.6" r="6.4" fill="#8B008B"/>
<circle cx="535.1" cy="1138.6" r="6.4" fill="#8F8470"/>
<circle cx="661.2" cy="1049.8" r="6.4" fill="#6BD347"/>
<circle cx="666.5" cy="1044.4" r="6.4" fill="#91687A"/>
<circle cx="676.1" cy="1041.2" r="6.4" fill="#8F8470"/>
<circle cx="680.4" cy="1036.4" r="6.4" fill="#907B74"/>
<circle cx="686.8" cy="1036.8" r="6.4" fill="#8F8470"/>
<circle cx="713.6" cy="1035.7" r="6.4" fill="#8F8470"/>
<circle cx="706.7" cy="1042.9" r="6.4" fill="#8B008B"/>
<circle cx="723.6" cy="1042.2" r="6.4" fill="#8B008B"/>
<circle cx="670.4" cy="1068.2" r="6.4" fill="#7F7F7F"/>
<circle cx="646.2" cy="1075.8" r="6.4" fill="#85A862"/>
<circle cx="653.7" cy="1079.1" r="6.4" fill="#8E3086"/>
<circle cx="655.8" cy="1089.9" r="6.4" fill="#85A862"/>
<circle cx="669.3" cy="1100.3" r="6.4" fill="#72CB4E"/>
<circle cx="753.1" cy="1078.0" r="6.4" fill="#889F66"/>
<circle cx="697.5" cy="1114.4" r="6.4" fill="#904982"/>
<circle cx="712.8" cy="677.2" r="6.4" fill="#889F66"/>
<circle cx="704.9" cy="692.2" r="6.4" fill="#85A862"/>
<circle cx="704.9" cy="705.5" r="6.4" fill="#8B9669"/>
<circle cx="714.8" cy="709.2" r="6.4" fill="#85A862"/>
<circle cx="747.6" cy="695.5" r="6.4" fill="#85A862"/>
<circle cx="758.7" cy="703.0" r="6.4" fill="#72CB4E"/>
<circle cx="690.1" cy="724.2" r="6.4" fill="#85A862"/>
<circle cx="697.5" cy="725.0" r="6.4" fill="#85A862"/>
<circle cx="682.7" cy="736.8" r="6.4" fill="#7F7F7F"/>
<circle cx="695.0" cy="738.0" r="6.4" fill="#7F7F7F"/>
<circle cx="701.2" cy="745.5" r="6.4" fill="#7F7F7F"/>
<circle cx="680.2" cy="748.0" r="6.4" fill="#917277"/>
<circle cx="670.3" cy="751.8" r="6.4" fill="#8F8470"/>
<circle cx="671.6" cy="759.2" r="6.4" fill="#6BD347"/>
<circle cx="677.7" cy="758.0" r="6.4" fill="#8F8470"/>
<circle cx="688.9" cy="758.0" r="6.4" fill="#62DC40"/>
<circle cx="692.6" cy="751.8" r="6.4" fill="#904982"/>
<circle cx="700.0" cy="754.2" r="6.4" fill="#91687A"/>
<circle cx="682.7" cy="774.2" r="6.4" fill="#85A862"/>
<circle cx="695.0" cy="769.2" r="6.4" fill="#8F8470"/>
<circle cx="720.9" cy="748.0" r="6.4" fill="#85A862"/>
<circle cx="738.2" cy="753.0" r="6.4" fill="#8B9669"/>
<circle cx="729.6" cy="763.5" r="6.4" fill="#904982"/>
<circle cx="739.4" cy="761.8" r="6.4" fill="#62DC40"/>
<circle cx="722.2" cy="763.0" r="6.4" fill="#904982"/>
<circle cx="711.1" cy="766.8" r="6.4" fill="#85A862"/>
<circle cx="753.5" cy="750.0" r="6.4" fill="#85A862"/>
<circle cx="773.5" cy="732.5" r="6.4" fill="#8B9669"/>
<circle cx="803.6" cy="787.2" r="6.4" fill="#91687A"/>
<circle cx="702.4" cy="789.2" r="6.4" fill="#889F66"/>
<circle cx="708.6" cy="786.8" r="6.4" fill="#889F66"/>
<circle cx="695.0" cy="801.8" r="6.4" fill="#48ED2D"/>
<circle cx="727.8" cy="796.8" r="6.4" fill="#91687A"/>
<circle cx="711.1" cy="810.5" r="6.4" fill="#8B9669"/>
<circle cx="707.4" cy="818.5" r="6.4" fill="#85A862"/>
<circle cx="727.6" cy="818.8" r="6.4" fill="#8F8470"/>
<circle cx="692.6" cy="818.0" r="6.4" fill="#904982"/>
<circle cx="690.1" cy="833.0" r="6.4" fill="#78C253"/>
<circle cx="718.5" cy="835.0" r="6.4" fill="#85A862"/>
<circle cx="720.9" cy="842.5" r="6.4" fill="#917277"/>
<circle cx="708.6" cy="852.2" r="6.4" fill="#7DB959"/>
<circle cx="770.3" cy="810.0" r="6.4" fill="#82B05D"/>
<circle cx="765.3" cy="818.0" r="6.4" fill="#8D8D6D"/>
<circle cx="770.3" cy="832.5" r="6.4" fill="#85A862"/>
<circle cx="132.3" cy="789.8" r="6.4" fill="#7F7F7F"/>
<circle cx="277.8" cy="699.3" r="6.4" fill="#72CB4E"/>
<circle cx="560.5" cy="905.1" r="6.4" fill="#7F7F7F"/>
<circle cx="644.0" cy="867.8" r="6.4" fill="#82B05D"/>
<circle cx="520.8" cy="1163.0" r="6.4" fill="#7F7F7F"/>
<circle cx="541.1" cy="1168.5" r="6.4" fill="#91687A"/>
<circle cx="552.6" cy="1157.0" r="6.4" fill="#917277"/>
<circle cx="581.4" cy="1165.7" r="6.4" fill="#85A862"/>
</g>
<g font-size="26.7" fill="#4D4D4D">
<text x="213.2" y="1228.8" text-anchor="middle">-1.0</text>
<text x="356.7" y="1228.8" text-anchor="middle">-0.5</text>
<text x="500.2" y="1228.8" text-anchor="middle">0.0</text>
<text x="643.7" y="1228.8" text-anchor="middle">0.5</text>
<text x="787.2" y="1228.8" text-anchor="middle">1.0</text>
<text x="84.8" y="700.9" text-anchor="end">1.0</text>
<text x="84.8" y="815.65" text-anchor="end">0.5</text>
<text x="84.8" y="930.4" text-anchor="end">0.0</text>
<text x="84.8" y="1045.15" text-anchor="end">-0.5</text>
<text x="84.8" y="1159.9" text-anchor="end">-1.0</text>
</g>
<text x="466.5" y="1265.6" font-size="32.5" fill="#000" text-anchor="middle">Dimension 1</text>
<text x="24.2" y="923.2" font-size="33.05" fill="#000" text-anchor="middle" transform="rotate(-90 24.2 923.2)">Dimension 2</text>
<text x="887" y="795.0" font-size="33.1" fill="#000" text-anchor="start">HOMA2IR</text>
<rect x="887" y="816.5" width="52" height="261.0" fill="url(#g2)"/>
<g stroke="#fff" stroke-width="1.2" stroke-opacity="0.75">
<line x1="887" y1="838.7" x2="897" y2="838.7"/><line x1="929" y1="838.7" x2="939" y2="838.7"/>
<line x1="887" y1="901.8" x2="897" y2="901.8"/><line x1="929" y1="901.8" x2="939" y2="901.8"/>
<line x1="887" y1="965.2" x2="897" y2="965.2"/><line x1="929" y1="965.2" x2="939" y2="965.2"/>
<line x1="887" y1="1028.3" x2="897" y2="1028.3"/><line x1="929" y1="1028.3" x2="939" y2="1028.3"/>
</g>
<g font-size="27" fill="#000">
<text x="955.3" y="849.9000000000001" text-anchor="start">8</text>
<text x="955.3" y="913.0" text-anchor="start">6</text>
<text x="955.3" y="976.4000000000001" text-anchor="start">4</text>
<text x="955.3" y="1039.5" text-anchor="start">2</text>
</g>
<g stroke="#E9E9E9" fill="none">
<line x1="1275" y1="1" x2="1275" y2="537.3" stroke-width="1.8"/>
<line x1="1442.5" y1="1" x2="1442.5" y2="537.3" stroke-width="1.8"/>
<line x1="1610.5" y1="1" x2="1610.5" y2="537.3" stroke-width="1.8"/>
<line x1="1778.5" y1="1" x2="1778.5" y2="537.3" stroke-width="1.8"/>
<line x1="1359.3" y1="1" x2="1359.3" y2="537.3" stroke-width="2.6"/>
<line x1="1526.5" y1="1" x2="1526.5" y2="537.3" stroke-width="2.6"/>
<line x1="1694.3" y1="1" x2="1694.3" y2="537.3" stroke-width="2.6"/>
<line x1="1189.5" y1="268.8" x2="1857.6" y2="268.8" stroke-width="2.6"/>
</g>
<line x1="1526.5" y1="537.3" x2="1526.5" y2="1" stroke="#000" stroke-width="2.8" stroke-dasharray="12.17 12.17" stroke-dashoffset="0"/>
<g stroke="#F8766D" stroke-width="5.6" fill="none"><line x1="1737" y1="194" x2="1737" y2="264.5"/><line x1="1827.8" y1="194" x2="1827.8" y2="264.5"/><line x1="1737" y1="229.5" x2="1827.8" y2="229.5"/></g>
<circle cx="1782.5" cy="229.5" r="9.6" fill="#F8766D"/>
<g stroke="#00BFC4" stroke-width="5.6" fill="none"><line x1="1219" y1="273" x2="1219" y2="343"/><line x1="1293" y1="273" x2="1293" y2="343"/><line x1="1219" y1="308" x2="1293" y2="308"/></g>
<circle cx="1256" cy="308" r="9.6" fill="#00BFC4"/>
<rect x="1189.5" y="1" width="668.0999999999999" height="536.3" fill="none" stroke="#000" stroke-width="1.9"/>
<g font-size="26.6" font-weight="bold" fill="#4D4D4D">
<text x="1190.7" y="572.6" text-anchor="middle">-0.004</text>
<text x="1358.5" y="572.6" text-anchor="middle">-0.002</text>
<text x="1526" y="572.6" text-anchor="middle">0.000</text>
<text x="1693.6" y="572.6" text-anchor="middle">0.002</text>
</g>
<text x="1523.9" y="612.6" font-size="36.1" font-weight="bold" fill="#000" text-anchor="middle">Regression Coefficient (95% CI)</text>
<text x="1114" y="268.6" font-size="36.5" font-weight="bold" fill="#000" text-anchor="middle" transform="rotate(-90 1114 268.6)">Phenotype</text>
<text x="1173.4" y="269" font-size="27" font-weight="bold" fill="#000" text-anchor="middle" transform="rotate(-90 1173.4 269)">HOMA B</text>
<text x="1908" y="220.6" font-size="32.6" fill="#000" text-anchor="start">model</text>
<line x1="1913.1" y1="266.3" x2="1955.1" y2="266.3" stroke="#F8766D" stroke-width="5.6"/>
<line x1="1934.1" y1="245.8" x2="1934.1" y2="286.8" stroke="#F8766D" stroke-width="2.8"/>
<circle cx="1934.1" cy="266.3" r="9.6" fill="#F8766D"/>
<text x="1976.5" y="276.40000000000003" font-size="26.4" fill="#000" text-anchor="start">Dimension 1</text>
<line x1="1913.1" y1="318.5" x2="1955.1" y2="318.5" stroke="#00BFC4" stroke-width="5.6"/>
<line x1="1934.1" y1="298.0" x2="1934.1" y2="339.0" stroke="#00BFC4" stroke-width="2.8"/>
<circle cx="1934.1" cy="318.5" r="9.6" fill="#00BFC4"/>
<text x="1976.5" y="328.6" font-size="26.4" fill="#000" text-anchor="start">Dimension 2</text>
<g stroke="#E9E9E9" fill="none">
<line x1="1370" y1="653.7" x2="1370" y2="1189.8" stroke-width="1.8"/>
<line x1="1571.5" y1="653.7" x2="1571.5" y2="1189.8" stroke-width="1.8"/>
<line x1="1773.8" y1="653.7" x2="1773.8" y2="1189.8" stroke-width="1.8"/>
<line x1="1268.5" y1="653.7" x2="1268.5" y2="1189.8" stroke-width="2.6"/>
<line x1="1471" y1="653.7" x2="1471" y2="1189.8" stroke-width="2.6"/>
<line x1="1672.5" y1="653.7" x2="1672.5" y2="1189.8" stroke-width="2.6"/>
<line x1="1189.5" y1="921.6" x2="1857.9" y2="921.6" stroke-width="2.6"/>
</g>
<line x1="1471" y1="1189.8" x2="1471" y2="653.7" stroke="#000" stroke-width="2.8" stroke-dasharray="12.17 12.17" stroke-dashoffset="0"/>
<g stroke="#F8766D" stroke-width="5.6" fill="none"><line x1="1777.7" y1="847.5" x2="1777.7" y2="917.5"/><line x1="1827.7" y1="847.5" x2="1827.7" y2="917.5"/><line x1="1777.7" y1="882.5" x2="1827.7" y2="882.5"/></g>
<circle cx="1802.6" cy="882.5" r="9.6" fill="#F8766D"/>
<g stroke="#00BFC4" stroke-width="5.6" fill="none"><line x1="1218.5" y1="925.6" x2="1218.5" y2="995.6"/><line x1="1261" y1="925.6" x2="1261" y2="995.6"/><line x1="1218.5" y1="960.6" x2="1261" y2="960.6"/></g>
<circle cx="1240.5" cy="960.6" r="9.6" fill="#00BFC4"/>
<rect x="1189.5" y="653.7" width="668.4000000000001" height="536.0999999999999" fill="none" stroke="#000" stroke-width="1.9"/>
<g font-size="26.6" font-weight="bold" fill="#4D4D4D">
<text x="1268.5" y="1224.6" text-anchor="middle">-0.1</text>
<text x="1471" y="1224.6" text-anchor="middle">0.0</text>
<text x="1672.5" y="1224.6" text-anchor="middle">0.1</text>
</g>
<text x="1523.9" y="1264.6" font-size="36.1" font-weight="bold" fill="#000" text-anchor="middle">Regression Coefficient (95% CI)</text>
<text x="1114" y="920.6" font-size="36.5" font-weight="bold" fill="#000" text-anchor="middle" transform="rotate(-90 1114 920.6)">Phenotype</text>
<text x="1173.4" y="921" font-size="27" font-weight="bold" fill="#000" text-anchor="middle" transform="rotate(-90 1173.4 921)">HOMA IR</text>
<text x="1908" y="873.1" font-size="32.6" fill="#000" text-anchor="start">model</text>
<line x1="1913.1" y1="919" x2="1955.1" y2="919" stroke="#F8766D" stroke-width="5.6"/>
<line x1="1934.1" y1="898.5" x2="1934.1" y2="939.5" stroke="#F8766D" stroke-width="2.8"/>
<circle cx="1934.1" cy="919" r="9.6" fill="#F8766D"/>
<text x="1976.5" y="929.1" font-size="26.4" fill="#000" text-anchor="start">Dimension 1</text>
<line x1="1913.1" y1="971" x2="1955.1" y2="971" stroke="#00BFC4" stroke-width="5.6"/>
<line x1="1934.1" y1="950.5" x2="1934.1" y2="991.5" stroke="#00BFC4" stroke-width="2.8"/>
<circle cx="1934.1" cy="971" r="9.6" fill="#00BFC4"/>
<text x="1976.5" y="981.1" font-size="26.4" fill="#000" text-anchor="start">Dimension 2</text>
</svg>
</body></html>
